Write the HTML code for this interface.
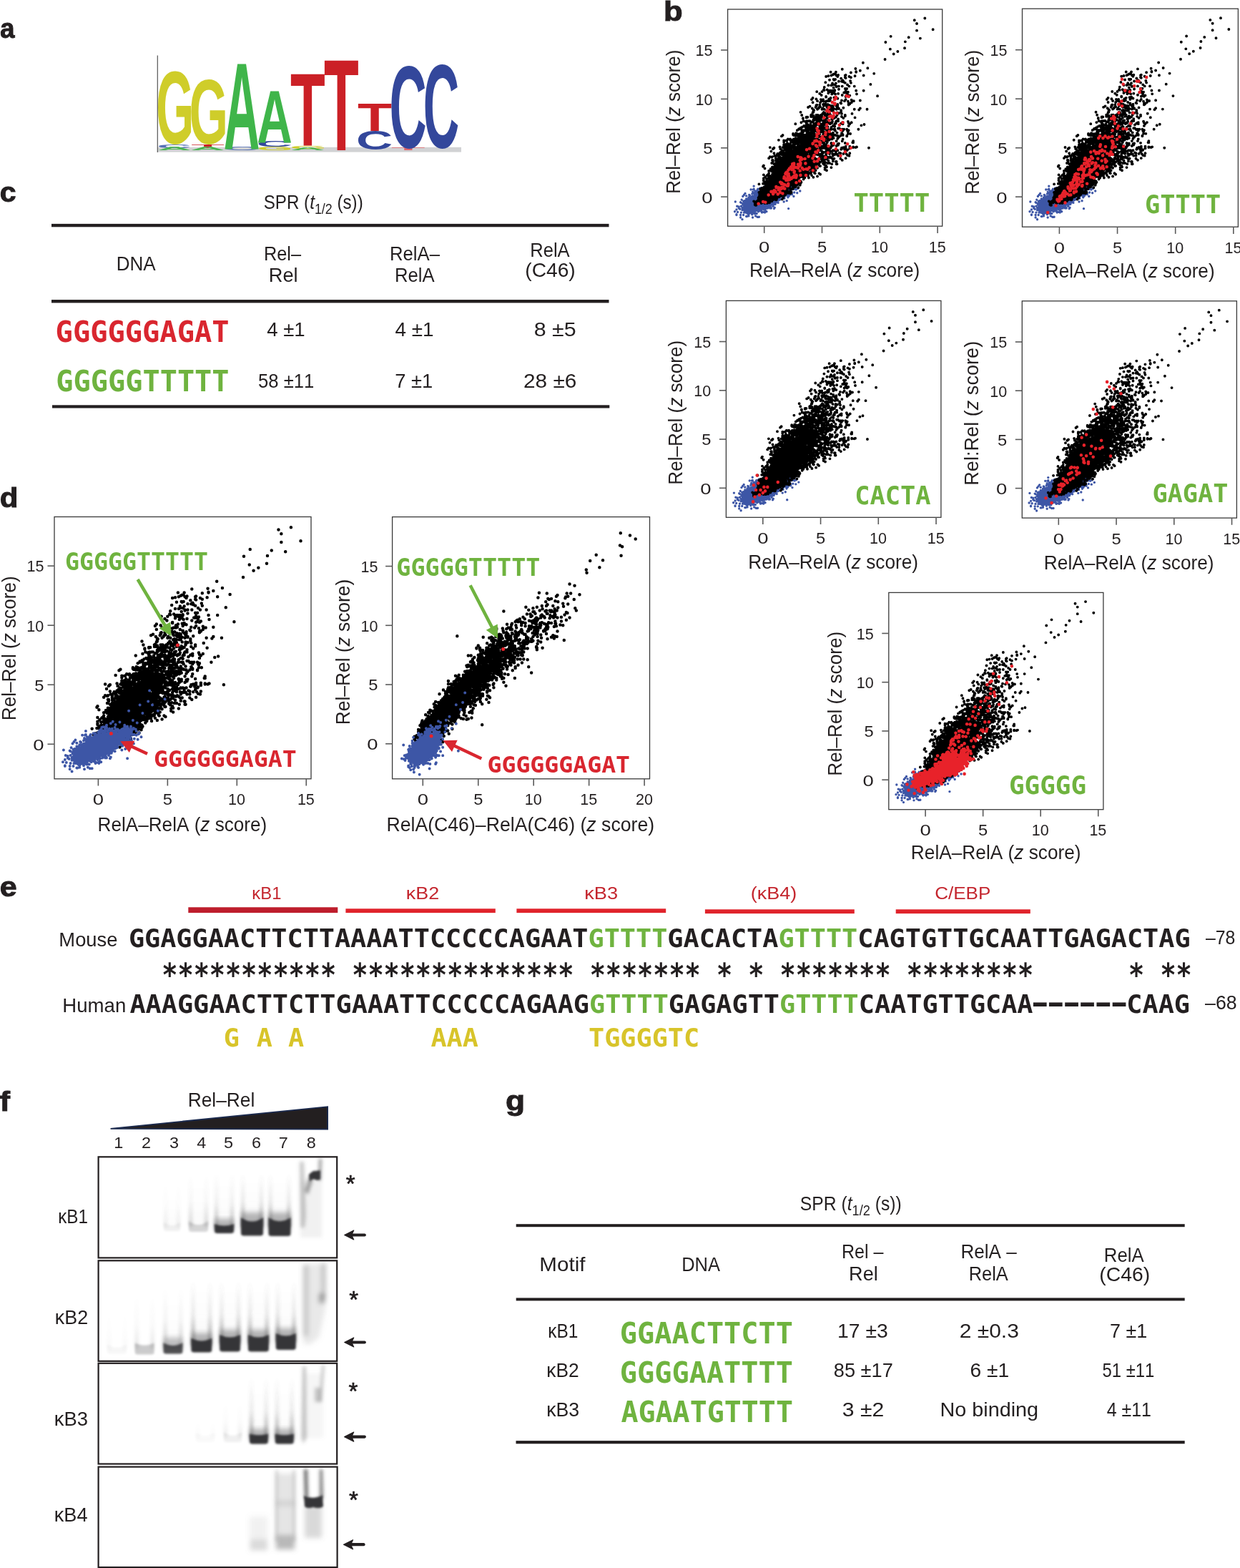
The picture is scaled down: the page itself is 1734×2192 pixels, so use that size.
<!DOCTYPE html>
<html><head><meta charset="utf-8"><title>Figure</title>
<style>html,body{margin:0;padding:0;background:#fff;} svg{display:block;} text{font-kerning:none;}</style>
</head><body>
<svg width="1734" height="2192" viewBox="0 0 1734 2192">
<rect width="1734" height="2192" fill="#fff"/>
<defs><style>#pBlack,#pBlue,#pBlack2,#pBlue2{vector-effect:non-scaling-stroke;stroke-linecap:round;fill:none}</style><path id="pBlack" d="M-16-14h0m0-2h0m1-1h0m1 0h0m9 4h0m6 0h0m4 0h0m-23 4h0m2-3h0m0 1h0m3 2h0m0-3h0m1 0h0m1 0h0m0 4h0m2-2h0m0 2h0m0-1h0m1 0h0m0 2h0m2-4h0m1 3h0m0-3h0m0 2h0m0 1h0m0 1h0m1-5h0m1 1h0m0 4h0m1 0h0m0-2h0m0 0h0m0 1h0m0 1h0m0-1h0m0-2h0m1 0h0m0 3h0m0 0h0m1-1h0m0 0h0m1 0h0m0 0h0m1 1h0m0-3h0m0 1h0m1 2h0m0-1h0m1-2h0m1 2h0m0-2h0m1 2h0m0 0h0m0-1h0m0 0h0m1-2h0m2 2h0m0 0h0m0 2h0m0-5h0m4 3h0m-23 7h0m0-3h0m1-1h0m1 5h0m1-1h0m0 1h0m1-1h0m1-1h0m0 0h0m0 0h0m0-3h0m0 2h0m0-2h0m1 4h0m0-4h0m0 1h0m0 0h0m1 0h0m0-1h0m1 4h0m0-4h0m0 4h0m1-2h0m0 0h0m0 0h0m1-2h0m0 1h0m0 0h0m0 2h0m0 0h0m1 2h0m0-3h0m0-2h0m1 3h0m0-1h0m0 3h0m0-2h0m1-2h0m0 4h0m0-5h0m0 5h0m1-3h0m0 2h0m0 0h0m0 0h0m0-1h0m1 2h0m0-5h0m0 2h0m0 2h0m1-1h0m0-1h0m0 2h0m1-2h0m0 3h0m0-2h0m0 1h0m0 1h0m0-5h0m1 0h0m0 1h0m1 1h0m0-1h0m1 4h0m0-2h0m1 0h0m1 2h0m0 0h0m1-3h0m0 1h0m1 2h0m0-2h0m0 1h0m1-3h0m0-1h0m1 4h0m0 1h0m0-2h0m0 2h0m0-2h0m1-2h0m0 3h0m1 0h0m1-3h0m1-1h0m0 3h0m1-3h0m1 3h0m9-2h0m2 3h0m-42 2h0m1 4h0m0 1h0m0 0h0m0-2h0m1 1h0m0 1h0m2-3h0m1 0h0m0 2h0m1-1h0m0-3h0m0 3h0m0 2h0m0-1h0m1 1h0m0-5h0m1 4h0m0-3h0m0 1h0m0-1h0m0 1h0m1-2h0m0 0h0m0 1h0m0 2h0m0-3h0m0 3h0m0-2h0m1 4h0m0-5h0m0 0h0m0 5h0m0-5h0m0 1h0m0 1h0m0-1h0m0 4h0m0-1h0m1 0h0m0-1h0m0-1h0m0-2h0m0 0h0m1 2h0m0-2h0m0 0h0m0 0h0m0 0h0m0 3h0m0-3h0m1 5h0m0-3h0m0 1h0m0 2h0m0-2h0m1-1h0m0 3h0m0-4h0m0-1h0m0 0h0m0 4h0m0 0h0m1 0h0m0 1h0m0-5h0m0 4h0m0-4h0m0 4h0m0 0h0m0-4h0m0 3h0m1 1h0m0 0h0m0 1h0m0 0h0m0 0h0m0-2h0m0 0h0m0 1h0m0-2h0m1 2h0m0 1h0m0-4h0m0 0h0m2 0h0m0 4h0m0-5h0m1 3h0m0 2h0m0-3h0m0 0h0m1 2h0m0-1h0m1 2h0m1 0h0m0-1h0m0 1h0m0 0h0m0-4h0m1 4h0m0-2h0m1-3h0m0 5h0m0-2h0m1 1h0m0-2h0m1-2h0m1 5h0m0-4h0m0-1h0m1 4h0m0 0h0m0-3h0m0-1h0m2 5h0m0-5h0m1 1h0m0 4h0m0-4h0m1 3h0m2-4h0m1 4h0m2 0h0m1-2h0m1 3h0m4-2h0m2 2h0m-46 4h0m3 0h0m0 2h0m2-4h0m0 1h0m2 3h0m0-4h0m0 1h0m1-2h0m0 2h0m0 3h0m0-4h0m1-1h0m0 5h0m0-5h0m1 4h0m0-2h0m0-2h0m1 3h0m0-1h0m0-1h0m1 3h0m0 1h0m0-4h0m0 4h0m0 0h0m1-3h0m0 1h0m0-2h0m0 2h0m1 2h0m0-5h0m0 5h0m0-5h0m0 5h0m0-2h0m0 2h0m1-3h0m0-2h0m0 1h0m0 1h0m0-1h0m0 0h0m0 3h0m0-4h0m1 3h0m0 0h0m0-2h0m0 2h0m0 1h0m0-2h0m1 3h0m0-4h0m0 0h0m0 2h0m0-1h0m0-2h0m0 2h0m0 0h0m0 3h0m1-4h0m0-1h0m0 2h0m0 2h0m0 0h0m0-1h0m0 1h0m0-3h0m1-1h0m0 1h0m0 3h0m0-3h0m0 2h0m0 0h0m0-2h0m1 1h0m0 3h0m0 0h0m0-5h0m0 5h0m0 0h0m0-1h0m0-3h0m1 1h0m0 2h0m0 1h0m1-5h0m0 3h0m0-3h0m0 1h0m0 3h0m1-4h0m0 1h0m0 4h0m0-5h0m0 4h0m1-4h0m0 1h0m0 1h0m0 3h0m0-1h0m0-4h0m0 1h0m0 0h0m0 0h0m0 1h0m1 3h0m0-3h0m0-2h0m0 5h0m0 0h0m0-2h0m0-1h0m0 0h0m0 1h0m1 1h0m0 1h0m0-4h0m1 0h0m0 3h0m0-3h0m1 3h0m0-2h0m0 2h0m1 0h0m0-4h0m0 2h0m1-2h0m0 1h0m1 3h0m0-1h0m0 1h0m0 0h0m1-2h0m0-1h0m1-1h0m0 1h0m1-1h0m0 5h0m0-5h0m0 1h0m0 0h0m0 1h0m0 2h0m0-2h0m0 2h0m1-4h0m0 0h0m0 2h0m0-1h0m2 2h0m0 1h0m1 0h0m0 1h0m0 0h0m1-5h0m0 0h0m1 3h0m0 2h0m1-4h0m2 4h0m0-5h0m0 2h0m2 3h0m0-1h0m2-1h0m3-1h0m1 0h0m0 1h0m3-2h0m2 2h0m-54 7h0m1-4h0m1 4h0m2 0h0m1-4h0m1 4h0m2-3h0m0 0h0m0 0h0m1 1h0m0 0h0m0 2h0m0 1h0m1-3h0m0 2h0m1-2h0m0-2h0m0 3h0m1-3h0m0 3h0m1-1h0m1-2h0m0 1h0m1 3h0m0-3h0m0 0h0m0 0h0m0 2h0m1 1h0m0-4h0m0 2h0m0 1h0m0-2h0m0 2h0m0-1h0m1-2h0m0 1h0m0-1h0m1 4h0m0 0h0m0 1h0m0-1h0m0 0h0m0-2h0m0-1h0m0 3h0m1-1h0m0-3h0m0 4h0m0-3h0m0 1h0m0-2h0m0 2h0m0 1h0m0 2h0m0-3h0m1 2h0m0-2h0m0-2h0m0 2h0m0-1h0m0 3h0m0-3h0m0 4h0m0-5h0m0 2h0m0 2h0m1-4h0m0 2h0m0 0h0m0-1h0m0 1h0m0 0h0m0-1h0m1 3h0m0 1h0m0-1h0m0-4h0m0 4h0m0 1h0m0 0h0m1 0h0m0 0h0m0-3h0m0 3h0m0-1h0m0 0h0m1-4h0m0 3h0m0 2h0m0-4h0m0 4h0m0-4h0m1 0h0m0-1h0m0 0h0m0 4h0m0-1h0m0-3h0m0 4h0m0-2h0m1 1h0m0 0h0m0 1h0m0-2h0m0 1h0m0-2h0m0 3h0m0 0h0m0-4h0m0 0h0m1 2h0m0 0h0m0 2h0m0 1h0m0-5h0m0 4h0m0-1h0m1-2h0m0-1h0m0 1h0m0 1h0m0 3h0m0 0h0m0 0h0m0 0h0m0 0h0m1 0h0m0-3h0m1 2h0m0-3h0m0 1h0m0 2h0m1-3h0m0-1h0m0 5h0m0-4h0m0 1h0m1 1h0m0 2h0m0-3h0m0 0h0m0 0h0m1-1h0m0-1h0m0 1h0m0-1h0m0 1h0m0-1h0m0 5h0m1 0h0m0 0h0m0 0h0m0-2h0m0-2h0m0 1h0m0 1h0m0-2h0m1 4h0m0-2h0m0 1h0m0-3h0m0 2h0m0-2h0m0-1h0m0 0h0m0 0h0m1 3h0m0 1h0m0 0h0m1-1h0m0 1h0m0-4h0m1 4h0m0 1h0m0 0h0m1-4h0m0 0h0m1 2h0m0-1h0m0 1h0m0-2h0m1 2h0m1 2h0m0-5h0m0 2h0m0-1h0m1-1h0m0 0h0m1 3h0m0 1h0m1-2h0m1-2h0m1 3h0m0-3h0m5 0h0m0 4h0m1 0h0m2 1h0m0-1h0m1 0h0m-53 2h0m3 1h0m1 1h0m0 0h0m0-1h0m1-1h0m1 2h0m1 3h0m1-2h0m0-3h0m0 2h0m1 0h0m0 1h0m1-3h0m0 1h0m0 2h0m1-1h0m0-1h0m1-1h0m0 1h0m0 0h0m0 4h0m1-4h0m0 4h0m1-3h0m0 0h0m0-2h0m0 2h0m1 1h0m0 0h0m0-1h0m0 1h0m0 0h0m0 2h0m1-4h0m0 1h0m0-2h0m0 5h0m0-2h0m0 1h0m1-3h0m0 2h0m0 1h0m0-1h0m0-2h0m0 2h0m0 1h0m0-1h0m0-1h0m0 3h0m0-2h0m0-1h0m0 1h0m0 1h0m1-4h0m0 4h0m0 0h0m0-4h0m0 3h0m0 0h0m0 2h0m1-4h0m0 2h0m0-1h0m0 3h0m0-4h0m0 1h0m0-1h0m0 1h0m0 3h0m1-3h0m0 1h0m0-2h0m0 0h0m0 3h0m0-4h0m0 4h0m1 1h0m0-2h0m0-3h0m0 2h0m0 0h0m0 2h0m0 0h0m0-1h0m0-1h0m1 0h0m0 2h0m0-4h0m0 5h0m0-3h0m0 1h0m0-1h0m0 2h0m1 1h0m0 0h0m0 0h0m0-4h0m0 0h0m0-1h0m0 1h0m1 1h0m0 1h0m0 0h0m0-3h0m0 0h0m0 3h0m0-3h0m1 1h0m0 0h0m0 2h0m0 2h0m0-5h0m0 5h0m1-3h0m0 1h0m0 1h0m0-2h0m0-2h0m0 3h0m0 2h0m1-2h0m0 0h0m0 1h0m0 1h0m0-1h0m1 1h0m0-2h0m0 2h0m0 0h0m0-5h0m0 4h0m0 0h0m1-3h0m0 2h0m0-3h0m0 1h0m0 4h0m0-2h0m0-2h0m1-1h0m0 0h0m0 4h0m0 0h0m1-3h0m0 4h0m0-5h0m0 2h0m0-1h0m0 1h0m0-2h0m1 0h0m0 1h0m0-1h0m0 5h0m1-2h0m1-2h0m0 0h0m1 2h0m0-3h0m1 2h0m0 3h0m0-2h0m0-1h0m0 0h0m1 2h0m0-4h0m1 2h0m0-2h0m1 2h0m0 2h0m0 0h0m0-4h0m1 4h0m0-2h0m1 1h0m0 2h0m0-1h0m0 1h0m0-1h0m1-3h0m0 2h0m0-1h0m1 3h0m0-1h0m0 0h0m0-3h0m1 1h0m0-1h0m1 4h0m3-1h0m0 1h0m0-1h0m0-3h0m5 4h0m1-5h0m0 3h0m1 2h0m2-1h0m1-2h0m1 3h0m4-4h0m-68 7h0m7 1h0m2 0h0m3 0h0m0-3h0m1 0h0m1 5h0m0-5h0m0 1h0m0-1h0m1 2h0m0 3h0m0 0h0m0-1h0m1-1h0m0-3h0m0 1h0m0-1h0m0 2h0m0 3h0m1-3h0m0-2h0m1 0h0m0 0h0m1 5h0m0 0h0m0 0h0m0-2h0m0 0h0m0 1h0m1-4h0m0 2h0m0 3h0m0-5h0m1 5h0m0-5h0m0 1h0m0-1h0m0 2h0m0 3h0m0-4h0m0 2h0m0-2h0m1 2h0m0 0h0m0 2h0m1-2h0m0 0h0m1-2h0m0 4h0m0-1h0m0-4h0m0 4h0m1-3h0m0 3h0m0 0h0m0 0h0m0-4h0m0 5h0m0-4h0m0-1h0m1 5h0m0 0h0m0 0h0m0-3h0m0 0h0m0 3h0m0-3h0m0 1h0m1 0h0m0-2h0m0 1h0m0-2h0m0 0h0m0 1h0m0 2h0m0 0h0m1 2h0m0-4h0m0 2h0m0 1h0m0-1h0m0 0h0m0-1h0m0 0h0m1 1h0m0-2h0m0 1h0m0-2h0m0 3h0m0 2h0m0 0h0m0-3h0m0 1h0m1-2h0m0 1h0m0 1h0m0 1h0m0-4h0m0 1h0m0 1h0m0 1h0m0-1h0m0 1h0m1 1h0m0-3h0m0 0h0m0 4h0m1-2h0m0 2h0m0-1h0m0-3h0m0 3h0m0-3h0m0 4h0m0-4h0m0 3h0m1-2h0m0 2h0m0-3h0m0 1h0m0 2h0m1-4h0m0 0h0m0 3h0m0 2h0m1-1h0m0-4h0m1 2h0m0 0h0m0-1h0m0 2h0m0-1h0m0 3h0m0-2h0m1 2h0m0 0h0m0-5h0m1 5h0m0-4h0m0 1h0m0 2h0m0 1h0m0-2h0m0 1h0m0 0h0m0-4h0m1 0h0m0 5h0m0-3h0m0 2h0m0 1h0m0-2h0m1-2h0m0 4h0m0-1h0m1-4h0m0 0h0m0 2h0m0 3h0m0-3h0m0-1h0m1 0h0m0 1h0m0-1h0m0 4h0m0 0h0m0-3h0m1-2h0m0 5h0m0 0h0m0-4h0m1 0h0m0 2h0m0 2h0m0-2h0m1 1h0m0-3h0m0 4h0m1-3h0m0 0h0m2-1h0m0 1h0m1-1h0m0-1h0m0 4h0m1-3h0m0 4h0m1-1h0m0-3h0m0 2h0m1-3h0m0 1h0m0-1h0m1 4h0m0-4h0m1 3h0m0-1h0m0-1h0m1 0h0m1 3h0m0-4h0m0 1h0m1 1h0m0 1h0m1-3h0m0 1h0m1 4h0m0-5h0m0 4h0m2 1h0m2-4h0m0 1h0m0 1h0m1 2h0m0-3h0m3-1h0m1 4h0m1 0h0m0 0h0m2-5h0m1 4h0m-64 5h0m0 2h0m2-5h0m1 0h0m2 2h0m1 0h0m0-1h0m2 0h0m1-1h0m0 0h0m1 4h0m1-3h0m1 4h0m1-5h0m0 1h0m0-1h0m1 0h0m0 0h0m0 3h0m1 1h0m0-4h0m0 3h0m1-1h0m1 3h0m0-2h0m0 2h0m0-2h0m1 0h0m0-3h0m0 1h0m0 4h0m0-4h0m1 1h0m0 3h0m0-2h0m0-3h0m1 0h0m0 1h0m0 4h0m0-4h0m0 1h0m0 1h0m0-3h0m0 5h0m0-2h0m1-1h0m0-1h0m1 4h0m0-4h0m0 0h0m1 3h0m0-4h0m0 3h0m0 1h0m0-3h0m0 3h0m0 1h0m0-3h0m0 2h0m1-4h0m0 0h0m0 2h0m0-2h0m0 0h0m0 0h0m0 2h0m1 0h0m0 3h0m0 0h0m0-4h0m0 4h0m0 0h0m0-2h0m0-1h0m0 0h0m1 2h0m0-3h0m0 2h0m0-1h0m1 2h0m0-3h0m1 3h0m0-2h0m0 3h0m0-3h0m0 3h0m0-2h0m0 2h0m0 0h0m0-3h0m1 1h0m0 1h0m0 1h0m0-4h0m0 0h0m0 4h0m0-5h0m1 2h0m0 1h0m1 2h0m0-5h0m0 2h0m1 3h0m0-5h0m0 5h0m0-4h0m1 2h0m0 2h0m0-4h0m0 1h0m1 1h0m0 2h0m0-1h0m0-4h0m0 5h0m0-4h0m0 1h0m1-1h0m0 2h0m0-2h0m0 4h0m0 0h0m0-4h0m0 0h0m0 3h0m1-4h0m0 1h0m0 2h0m1 1h0m0-2h0m0 2h0m1-3h0m0 3h0m1-3h0m0 3h0m0 1h0m1-5h0m0 0h0m0 0h0m0 5h0m0-4h0m0 4h0m1-3h0m0-1h0m0-1h0m0 4h0m0-3h0m1 3h0m0-4h0m1 0h0m0 4h0m1-3h0m0 0h0m1 2h0m0-1h0m0 3h0m0 0h0m1-4h0m0 3h0m0-2h0m1 0h0m1 3h0m0-3h0m0-2h0m0 0h0m0 0h0m0 2h0m1-2h0m0 2h0m1 2h0m0-4h0m0 2h0m3 2h0m0-3h0m1 2h0m0-1h0m1-2h0m1 5h0m0-3h0m1 2h0m1 0h0m2-3h0m1 1h0m1 0h0m0 1h0m2-1h0m0 0h0m1-2h0m-65 8h0m3 3h0m2-4h0m3 1h0m1 1h0m0-2h0m1 1h0m0-1h0m1 3h0m1-1h0m1-2h0m1 0h0m0 0h0m0 1h0m1-1h0m0 4h0m0-3h0m1 0h0m0-2h0m0 5h0m1-4h0m0-1h0m0 3h0m1-1h0m0 2h0m0-4h0m1 3h0m0 0h0m0 1h0m1 1h0m0 0h0m0 0h0m0-1h0m1-4h0m0 5h0m0-5h0m1 3h0m0-2h0m0 0h0m0-1h0m0 0h0m0 0h0m1 4h0m0-1h0m1-3h0m0 0h0m0 5h0m1-2h0m0 2h0m0-3h0m1 3h0m0-3h0m0-2h0m0 4h0m0-3h0m1-1h0m0 4h0m0-3h0m0 4h0m1-4h0m0-1h0m0 0h0m0 4h0m0-1h0m1-1h0m0 2h0m0-4h0m0 0h0m0 0h0m0 2h0m0-2h0m0 4h0m0-4h0m1 5h0m0-3h0m0-2h0m0 5h0m0-1h0m0-1h0m0 1h0m0-1h0m0 0h0m0-2h0m0 4h0m0-1h0m0-2h0m1 1h0m0-3h0m0 3h0m0-3h0m0 0h0m0 1h0m0 2h0m0 0h0m0-3h0m0 0h0m0 1h0m0 1h0m1 0h0m0 2h0m0 1h0m0-1h0m0-3h0m0 3h0m0-2h0m0-1h0m1 1h0m0 0h0m0 0h0m1 3h0m0 0h0m0-2h0m1-1h0m0 0h0m0 2h0m0-4h0m1 5h0m0-3h0m0 3h0m0 0h0m0-5h0m0 3h0m1-2h0m0 1h0m0 3h0m0-1h0m1-1h0m0-2h0m0 3h0m0-3h0m1 4h0m0 0h0m1-5h0m0 0h0m0 5h0m0-1h0m0 1h0m0-3h0m0 3h0m1-4h0m0 1h0m0 1h0m0-2h0m1 1h0m0 1h0m0-3h0m1 2h0m0 2h0m0 1h0m0-3h0m1-2h0m1 5h0m0-2h0m0-2h0m1 2h0m0-2h0m0 1h0m0 1h0m0-2h0m0 1h0m1 3h0m0-3h0m0 1h0m0 2h0m0-3h0m0 0h0m0 3h0m0-3h0m1-1h0m0 3h0m1-3h0m0 0h0m0 0h0m1 4h0m1-1h0m0 0h0m0 0h0m0-4h0m0 4h0m0-3h0m0 0h0m1 3h0m0 0h0m1-1h0m0-3h0m0 0h0m1 3h0m1-1h0m0 3h0m0-2h0m0 0h0m0-2h0m0 3h0m0-2h0m1 3h0m0-2h0m1-1h0m1 2h0m0 1h0m0-4h0m0-1h0m1 4h0m0-4h0m1 3h0m0-2h0m1 1h0m0 0h0m1 3h0m1-1h0m4 1h0m2-5h0m2 3h0m7 0h0m8 1h0m-86 5h0m6-1h0m1 1h0m1-2h0m1 0h0m1 0h0m2-1h0m3 2h0m0 2h0m2-4h0m0 5h0m0-3h0m2 0h0m0-1h0m0 2h0m0 1h0m0 0h0m0-2h0m0 1h0m1-2h0m0 0h0m1 1h0m1-2h0m0 5h0m1-4h0m1 0h0m0 1h0m0-2h0m0 0h0m1 3h0m0 0h0m0-3h0m0 2h0m0-2h0m1 5h0m0-4h0m1 0h0m0 1h0m0 0h0m1 2h0m0 1h0m0-1h0m0-3h0m0 3h0m0 0h0m1 1h0m0-4h0m0-1h0m0 4h0m0-3h0m0 0h0m0-1h0m1 5h0m0-5h0m0 5h0m0-5h0m1 3h0m0-1h0m0 3h0m0-2h0m1-2h0m0 2h0m0 1h0m0-1h0m0 1h0m1 0h0m0-4h0m0 1h0m0 0h0m0 3h0m0-3h0m0 1h0m0 2h0m0-3h0m1-1h0m0 0h0m0 4h0m0 1h0m0-2h0m0-3h0m0 3h0m1-1h0m0 1h0m0 1h0m0 0h0m0-1h0m1 2h0m0-5h0m0 1h0m0 3h0m0-4h0m0 2h0m0-1h0m0 1h0m1 0h0m0-1h0m1 4h0m1-3h0m0 1h0m0-2h0m0 4h0m1-3h0m0 3h0m0-1h0m0-4h0m0 5h0m0-3h0m0 1h0m0 2h0m1-3h0m0 3h0m0-1h0m0-3h0m0 0h0m0 4h0m0-4h0m0 0h0m0 3h0m1-4h0m1 2h0m0-1h0m0 4h0m0 0h0m0-5h0m0 5h0m0 0h0m1-1h0m0-3h0m0 0h0m0 3h0m0-2h0m0 3h0m1-4h0m0 4h0m0-1h0m0-4h0m1 0h0m0 2h0m0 0h0m0 1h0m0-2h0m1-1h0m0 5h0m1 0h0m0 0h0m0-4h0m0 0h0m1-1h0m0 3h0m0 2h0m0-4h0m0 2h0m1-1h0m0-1h0m0 4h0m1-1h0m1-4h0m0 4h0m0 1h0m0-5h0m1 4h0m0-3h0m1 2h0m0 2h0m0-4h0m1-1h0m0 2h0m1-1h0m0 1h0m1 2h0m0-4h0m0 1h0m1 0h0m0 4h0m1-5h0m0 2h0m1 2h0m0 1h0m1-1h0m0-1h0m1 1h0m0-3h0m1 0h0m1 2h0m0-1h0m0 2h0m1-4h0m0 3h0m1 2h0m0 0h0m0-3h0m1 2h0m0-4h0m0 5h0m1-5h0m2 4h0m1 0h0m0-2h0m1 1h0m0 1h0m0 0h0m1-2h0m0-1h0m1 2h0m0-1h0m3-1h0m0 2h0m6-1h0m10-2h0m5 4h0m-89 7h0m0-5h0m5 4h0m2-1h0m1 2h0m1-4h0m1 0h0m0 3h0m0 1h0m1-5h0m0 0h0m1 1h0m0 2h0m1-3h0m0 3h0m0-2h0m1 1h0m1 3h0m0-3h0m1 1h0m0-3h0m0 1h0m1-1h0m1 0h0m0 0h0m1 5h0m0-5h0m0 4h0m0-4h0m0 2h0m1-2h0m0 4h0m0-4h0m0 1h0m1 3h0m0-4h0m1 1h0m0 1h0m0-2h0m0 3h0m1 1h0m0 0h0m0-4h0m0 0h0m0 0h0m1 3h0m0-1h0m0-1h0m0 2h0m0-1h0m1 0h0m0-1h0m0 1h0m0-1h0m0 2h0m1-1h0m0 0h0m0 3h0m0-4h0m1 0h0m0 2h0m0-3h0m0 3h0m0 1h0m0-4h0m0 1h0m1 0h0m0 3h0m0 1h0m0-4h0m0-1h0m0 5h0m0-1h0m0 1h0m0-3h0m1-1h0m0 0h0m0-1h0m0 1h0m0 4h0m0-1h0m0-1h0m0 2h0m0-4h0m1 1h0m0-2h0m0 4h0m0 1h0m0-3h0m0 2h0m0-3h0m0 2h0m1 0h0m0 1h0m0-3h0m0 2h0m0 2h0m0-1h0m0-2h0m0-2h0m0 1h0m0 0h0m0 4h0m1-3h0m0 1h0m1 1h0m0-4h0m1 1h0m0 4h0m0-3h0m0 2h0m0-3h0m1-1h0m0 0h0m0 0h0m0 0h0m0 3h0m1 0h0m0-1h0m0 3h0m0-2h0m1 1h0m0 1h0m0 0h0m0-1h0m0 0h0m0-1h0m1 0h0m1-2h0m0 3h0m0-3h0m1-1h0m0 3h0m0-2h0m0 4h0m0-2h0m0-2h0m2-1h0m0 0h0m2 0h0m0 0h0m0 2h0m0 1h0m0 1h0m1-4h0m0 5h0m1-5h0m0 4h0m1-1h0m0 2h0m0-2h0m0 1h0m0-3h0m1-1h0m0 5h0m1-4h0m1 4h0m0-5h0m0 3h0m1-1h0m1-1h0m0 3h0m0-1h0m1 1h0m0-2h0m1 3h0m0-2h0m0-3h0m0 1h0m0 3h0m1-2h0m0 1h0m1-3h0m0 0h0m0 1h0m0-1h0m1 4h0m0 1h0m1-1h0m0 1h0m2-1h0m0 1h0m1 0h0m0-2h0m0 1h0m1 1h0m2-4h0m0 2h0m1 1h0m1-4h0m2 1h0m1-1h0m3 0h0m0 2h0m1-1h0m0 1h0m3 3h0m2-1h0m1-3h0m1-1h0m7 0h0m-94 10h0m10-4h0m0 3h0m1-3h0m3 2h0m1 1h0m3-2h0m2 0h0m0 4h0m0-1h0m1-4h0m1 4h0m0-3h0m1-1h0m0 1h0m1 2h0m1-1h0m0 2h0m1-2h0m0 1h0m0-1h0m1-2h0m0 3h0m0 1h0m1-2h0m0-2h0m0 3h0m0 2h0m0-2h0m0-1h0m1 2h0m0-3h0m1 0h0m0 3h0m1-4h0m1 2h0m0 0h0m0-2h0m0 0h0m1 3h0m0 1h0m1 1h0m0-3h0m0 3h0m0-5h0m0 3h0m0-1h0m1 0h0m0-1h0m0 4h0m0-2h0m0 2h0m0-2h0m0 0h0m0 0h0m1 2h0m0-3h0m0-1h0m0 0h0m0 3h0m0-1h0m1 1h0m0 0h0m0-4h0m0 0h0m0 2h0m0 0h0m0-2h0m1 3h0m0 1h0m0-2h0m0 3h0m0-1h0m0 0h0m0-4h0m0 0h0m1 3h0m0-2h0m0 2h0m1-3h0m0 1h0m0 4h0m0-1h0m0-4h0m1 3h0m0 0h0m0-1h0m0 2h0m0-1h0m0 2h0m0-4h0m0 4h0m0-4h0m0 2h0m1-1h0m0 0h0m0-1h0m0 1h0m0 2h0m1 0h0m0-1h0m1 2h0m0-5h0m0 1h0m0 2h0m1-3h0m0 5h0m1-5h0m0 3h0m1-1h0m0-2h0m0 4h0m1-2h0m0 3h0m0-2h0m0 2h0m0 0h0m0-2h0m1 0h0m0-3h0m0 2h0m0 1h0m1 1h0m0-2h0m0-1h0m0 3h0m0-1h0m0 1h0m1 0h0m0 0h0m0-4h0m0 0h0m1 1h0m1 4h0m0-1h0m0-2h0m1 0h0m0 1h0m0-1h0m1-1h0m0 0h0m1 2h0m0-3h0m0 5h0m0-3h0m1 3h0m0-1h0m0-3h0m1 3h0m0-1h0m0-1h0m0 2h0m0-1h0m0 1h0m1-1h0m0-2h0m1 4h0m0-3h0m0-2h0m0 0h0m1 3h0m0-1h0m1-1h0m0 0h0m0 2h0m0-2h0m0 3h0m1 0h0m0-2h0m1 2h0m0 1h0m0-1h0m0-4h0m1 1h0m0-1h0m0 5h0m0-3h0m1 1h0m1-1h0m1 2h0m0-3h0m0 1h0m1-2h0m1 4h0m0 0h0m0-2h0m1-1h0m0 4h0m0-3h0m1 0h0m0 3h0m0-2h0m0-2h0m0-1h0m0 2h0m2 0h0m1-2h0m0 5h0m0-1h0m0-3h0m0-1h0m1 2h0m0-1h0m1 4h0m3-3h0m1-2h0m2 0h0m0 2h0m1-2h0m2 5h0m0-5h0m1 0h0m1 0h0m3 5h0m13-3h0m3-2h0m-110 8h0m1 2h0m15-3h0m1-1h0m2 1h0m0-1h0m2 2h0m1 3h0m1-2h0m0-2h0m1 1h0m0 1h0m1-2h0m1 4h0m0-2h0m1-1h0m1 3h0m0-1h0m1-1h0m1-1h0m0-1h0m0-1h0m1 2h0m1 2h0m0-3h0m0 1h0m0-2h0m0 3h0m1 2h0m0-5h0m1 5h0m0-5h0m1 5h0m0-5h0m1 4h0m0-2h0m0-1h0m0 0h0m1 2h0m0-3h0m1 1h0m0-1h0m0 0h0m0 1h0m1 3h0m1-2h0m0 3h0m0-2h0m0-3h0m0 2h0m1 1h0m0 0h0m0 2h0m0-4h0m0 0h0m0 1h0m0 1h0m1-1h0m0 0h0m1 3h0m0-2h0m0-1h0m0-2h0m0 0h0m0 0h0m0 5h0m0-4h0m0 2h0m1 0h0m0 0h0m0 1h0m0-4h0m0 3h0m0-3h0m0 3h0m0 1h0m1-2h0m0 0h0m0 3h0m0-4h0m0 0h0m0-1h0m1 4h0m0-3h0m1 1h0m0-2h0m0 2h0m1-1h0m0 2h0m0 2h0m0-1h0m1 0h0m0-1h0m0-2h0m1 2h0m0 0h0m0 0h0m1 2h0m0 0h0m1-5h0m0 1h0m1 2h0m0 0h0m0 1h0m1 0h0m0-2h0m0-1h0m1 4h0m1-5h0m0 0h0m0 0h0m0 0h0m1 1h0m0 2h0m0 2h0m0-5h0m0 3h0m1 1h0m2-2h0m0-1h0m0 0h0m1 4h0m1-3h0m0 2h0m0-2h0m1 3h0m0-1h0m1-4h0m0 4h0m0 0h0m0 0h0m0 1h0m0-3h0m1 1h0m0-2h0m0-1h0m0 0h0m0 2h0m1-2h0m0 0h0m1 5h0m1-1h0m0-4h0m1 5h0m0 0h0m0-2h0m0 1h0m1 0h0m0 0h0m1-2h0m0 1h0m1 1h0m2-2h0m1-1h0m1 1h0m0 1h0m0-1h0m1 0h0m0 1h0m2-3h0m0 5h0m0-2h0m1 0h0m0 0h0m0-3h0m0 4h0m1 1h0m1-4h0m2 2h0m0-2h0m0 4h0m1-3h0m0 3h0m0-5h0m2 5h0m0-2h0m1-2h0m4 0h0m0 3h0m1-4h0m4 5h0m1-2h0m1 0h0m8-3h0m2 4h0m1-3h0m8-1h0m-103 9h0m4-2h0m2-1h0m1 3h0m1 0h0m1 0h0m1-2h0m0 2h0m1-1h0m1 3h0m1-2h0m1 2h0m1-5h0m1 5h0m1 0h0m0-5h0m1 2h0m0 3h0m0-3h0m1-1h0m1 1h0m0-1h0m0 3h0m1-3h0m0 2h0m0-3h0m0 1h0m0 3h0m1 0h0m1 1h0m0-1h0m0-1h0m0 0h0m0-2h0m0 3h0m1-4h0m0 5h0m0-5h0m0 5h0m0-5h0m1 3h0m0-1h0m0-1h0m1 2h0m0 1h0m0-4h0m0 4h0m0-2h0m0-2h0m1 2h0m0-1h0m1 3h0m1-2h0m0 0h0m0 0h0m1 3h0m0-3h0m0 1h0m1-3h0m0 5h0m0 0h0m0-2h0m0-1h0m0-1h0m1 0h0m1 0h0m1 3h0m0-4h0m0 2h0m1 3h0m0-4h0m0-1h0m0 5h0m1-4h0m0 2h0m0-1h0m0 2h0m0-1h0m0 2h0m0-4h0m1-1h0m0 3h0m0-3h0m0 3h0m1 2h0m0 0h0m0-3h0m0 3h0m0-3h0m0 3h0m0-4h0m1 4h0m0-4h0m1 2h0m0-2h0m0 1h0m0 3h0m0-5h0m0 3h0m1-3h0m0 5h0m1-4h0m0-1h0m0 5h0m0-4h0m1 0h0m0 3h0m0-2h0m1 2h0m0-1h0m0 2h0m0-2h0m0-3h0m0 3h0m0-3h0m1 0h0m0 3h0m1-3h0m1 1h0m0 2h0m0 2h0m1-1h0m1-2h0m1 3h0m0-2h0m0-1h0m0 0h0m1 1h0m0-3h0m1 0h0m0 5h0m1 0h0m0-3h0m1 2h0m0-3h0m1 1h0m0 3h0m1-2h0m2-3h0m0 2h0m1 2h0m0-2h0m0 1h0m1-2h0m1 1h0m0 3h0m0-4h0m1 0h0m0 0h0m1 1h0m1 3h0m3 0h0m0-5h0m1 5h0m1-3h0m0 1h0m2-1h0m0 0h0m1-2h0m1 0h0m1 1h0m0 1h0m1 3h0m1-5h0m0 1h0m1-1h0m2 2h0m1 1h0m1-2h0m1 4h0m0-3h0m2 3h0m5-3h0m0 2h0m2-4h0m2 4h0m4-1h0m3 0h0m4-2h0m8 0h0m1 0h0m-112 8h0m1-3h0m0 3h0m0-2h0m5 1h0m1 2h0m1-1h0m2-3h0m0 5h0m3 0h0m0-5h0m1 4h0m0 0h0m0-2h0m1 0h0m2 1h0m0 1h0m1-3h0m1 2h0m0-3h0m2 0h0m1 3h0m1 2h0m2-1h0m0-2h0m2-1h0m0 2h0m0 2h0m1-2h0m0 1h0m1-3h0m0 4h0m0-5h0m0 4h0m1 1h0m0-1h0m0 0h0m0-2h0m0 1h0m0-3h0m1 2h0m0-1h0m1 4h0m0-1h0m0 1h0m0-5h0m0 5h0m1-3h0m0 3h0m0-3h0m1-2h0m0 4h0m0-1h0m0 0h0m0-3h0m1 2h0m0 1h0m0 1h0m0-2h0m1-1h0m0-1h0m0 0h0m1 4h0m0 1h0m1-5h0m0 2h0m0 1h0m0 1h0m0-2h0m0-1h0m0 2h0m1 0h0m0 1h0m0-3h0m0 2h0m1-1h0m0 2h0m1-1h0m0-1h0m1 0h0m0 1h0m0-1h0m1 2h0m0-3h0m0 4h0m0-5h0m1 3h0m0-2h0m0 0h0m1-1h0m0 4h0m1-2h0m1 0h0m1 2h0m0-2h0m1 3h0m0-4h0m0 3h0m1 0h0m0-4h0m1 5h0m0-5h0m0 5h0m1-1h0m0-2h0m1-2h0m0 1h0m0 1h0m1-2h0m0 2h0m1-1h0m0-1h0m1 3h0m2-3h0m0 3h0m1 1h0m0-2h0m3 2h0m0 0h0m0 1h0m3-1h0m1-4h0m0 2h0m2-1h0m0 1h0m1 3h0m1-3h0m0 3h0m0-5h0m0 5h0m1-4h0m2-1h0m2 4h0m0-2h0m1 0h0m0 3h0m1-1h0m1-3h0m2 2h0m6-1h0m0 2h0m1-2h0m1 0h0m2 1h0m4 2h0m3-3h0m8-1h0m5-1h0m1 0h0m10 3h0m-127 4h0m2 3h0m3-1h0m1 1h0m6-4h0m0 3h0m0 1h0m5-1h0m2 1h0m1-3h0m0-1h0m2 0h0m0 0h0m1 2h0m1 0h0m1 0h0m1 2h0m0 1h0m1-4h0m1 0h0m1 2h0m0 1h0m1-4h0m0 4h0m0-3h0m2-1h0m0 5h0m0-1h0m1 0h0m0-2h0m0 3h0m0-3h0m1 1h0m0 2h0m1 0h0m0-2h0m1-3h0m0 2h0m0-1h0m1 4h0m0-4h0m0 2h0m0 0h0m1 2h0m0 0h0m0 0h0m0-2h0m1 1h0m0-3h0m0 2h0m1 0h0m0 0h0m0-1h0m1 2h0m0-4h0m0 0h0m0 4h0m1-1h0m1-1h0m0 1h0m1 0h0m0-1h0m0 3h0m0-5h0m1 5h0m0-2h0m0-1h0m0-2h0m0 0h0m0 5h0m1-3h0m0 1h0m0 0h0m1-3h0m0 4h0m0 1h0m0-1h0m0 1h0m1 0h0m0-4h0m0 1h0m0-1h0m1 3h0m0-1h0m0-2h0m0 2h0m1 1h0m0-3h0m0 3h0m0-2h0m1 0h0m0 3h0m2-3h0m2-2h0m0 0h0m0 2h0m1 2h0m0-3h0m0 3h0m0-1h0m0 0h0m1-1h0m1 1h0m0 2h0m0-5h0m1 2h0m0 3h0m1-2h0m0 0h0m0-1h0m2 2h0m0-4h0m0 0h0m1 2h0m0 1h0m1 0h0m0-2h0m1-1h0m2 0h0m0 3h0m1 0h0m0 0h0m1 1h0m0 1h0m2-5h0m1 5h0m0-3h0m1 1h0m1 2h0m0-4h0m1 1h0m1-1h0m0 3h0m1-4h0m0 2h0m1-1h0m1-1h0m0 2h0m2-2h0m6 1h0m0-1h0m1 2h0m1-2h0m3 5h0m1-4h0m2 4h0m0 0h0m3-2h0m0-3h0m1 2h0m3 1h0m2-1h0m2 2h0m2-2h0m2-2h0m3 0h0m11 0h0m9 1h0m-124 10h0m1-5h0m4 2h0m1 2h0m0-1h0m1-2h0m2 2h0m3 1h0m1 0h0m0-1h0m1-1h0m1 1h0m2-2h0m0 1h0m2-1h0m0 4h0m0-4h0m1-1h0m0 5h0m1-2h0m0 0h0m3-3h0m1 3h0m0 1h0m0-2h0m2-2h0m0 4h0m0 1h0m0-4h0m0 0h0m1 0h0m0 0h0m1 4h0m0-1h0m1 0h0m0-1h0m0 1h0m0-4h0m1 1h0m1 4h0m1-4h0m1-1h0m1 5h0m0-4h0m0 2h0m0-2h0m1 4h0m1-5h0m0 5h0m0-5h0m1 1h0m0-1h0m0 2h0m1-1h0m0 4h0m1-3h0m1-1h0m0 2h0m0 0h0m0-1h0m0 2h0m0-2h0m1 3h0m0-2h0m0 0h0m1 0h0m1 2h0m0 0h0m0-4h0m1 1h0m1 2h0m1 0h0m0 1h0m1-4h0m0 4h0m1-5h0m1 5h0m1 0h0m1-2h0m1-2h0m0-1h0m0 2h0m0 1h0m0-2h0m0 0h0m0 4h0m0-5h0m1 3h0m0 1h0m1-1h0m0-1h0m0 2h0m2-1h0m0-1h0m0 2h0m0-2h0m1-2h0m3 1h0m1 2h0m1-3h0m0 4h0m0-2h0m1-2h0m0 3h0m1 2h0m1 0h0m0-4h0m1 0h0m2 0h0m0 3h0m0-4h0m1 2h0m0 3h0m0-1h0m1 0h0m0-1h0m1 0h0m0 0h0m0 0h0m3 0h0m0 1h0m1-2h0m2 1h0m1-2h0m2 2h0m1 0h0m0 1h0m1-2h0m1 3h0m6-5h0m0 3h0m6 1h0m5 0h0m1-4h0m1 3h0m2 0h0m1 0h0m3 0h0m2-3h0m4 5h0m0-5h0m5 4h0m5 0h0m2-3h0m3-1h0m1 5h0m-136 4h0m15-3h0m2 2h0m2-1h0m0 4h0m1-5h0m1 4h0m1-4h0m4 2h0m2 3h0m0-4h0m0 4h0m1-1h0m3-1h0m0 1h0m1-1h0m1-1h0m0 0h0m2-1h0m0 3h0m0-3h0m1 0h0m1 2h0m0 2h0m1-2h0m1 0h0m0 1h0m0-2h0m0-1h0m2-1h0m0 2h0m0 3h0m0-4h0m1 0h0m0 3h0m0 0h0m1-4h0m0 0h0m2 3h0m0 2h0m0-4h0m1 2h0m1 0h0m0-1h0m0 2h0m0-2h0m1-1h0m0 4h0m0-3h0m0-2h0m0 5h0m0-5h0m1 5h0m1-4h0m0 1h0m1 2h0m1-3h0m0 4h0m1-2h0m2-2h0m0 2h0m0-2h0m2 3h0m0-2h0m0 1h0m3 0h0m1-1h0m1-1h0m1 3h0m0-2h0m1 2h0m0 1h0m1-2h0m1-1h0m0-2h0m3 4h0m1-3h0m0 1h0m1 3h0m2-3h0m3-2h0m0 2h0m1 2h0m0 1h0m0-5h0m1 0h0m2 0h0m0 2h0m0 3h0m0 0h0m0-5h0m4 5h0m3-2h0m1-3h0m1 1h0m1 0h0m0 0h0m4 2h0m1-3h0m2 0h0m0 4h0m1 0h0m0-4h0m2 1h0m3 2h0m3 2h0m0-1h0m3 1h0m2-4h0m0 3h0m3 1h0m3-5h0m10 2h0m3 3h0m-133 6h0m5-3h0m1 1h0m1 1h0m11-2h0m4 3h0m2-1h0m2-4h0m1 4h0m0-4h0m2 2h0m2 1h0m3-3h0m0 1h0m1 4h0m2-3h0m0 2h0m1 1h0m0-1h0m4-1h0m0 0h0m0-3h0m1 0h0m1 4h0m0-4h0m0 0h0m0 4h0m1-1h0m1 0h0m0-3h0m1 0h0m1 4h0m0-4h0m1 3h0m0-2h0m1 2h0m0 2h0m0-4h0m1 2h0m0 1h0m0-1h0m1-1h0m0 3h0m0-1h0m1-2h0m1 1h0m0 0h0m2-1h0m0 3h0m1-3h0m1-2h0m0 5h0m0-4h0m0 2h0m1 0h0m0-2h0m0 3h0m0 1h0m0 0h0m1-2h0m2 1h0m0-3h0m1 1h0m1 3h0m0-5h0m0 0h0m3 4h0m1-4h0m1 2h0m0 1h0m1-3h0m1 3h0m1-3h0m1 5h0m2-5h0m0 1h0m1 1h0m0 3h0m1-5h0m0 4h0m0-2h0m1-1h0m2 4h0m1-1h0m0 1h0m0-5h0m3 0h0m2 3h0m1 1h0m3-1h0m1 2h0m0 0h0m1-1h0m2 0h0m2-1h0m2 0h0m0-3h0m1 2h0m0 2h0m0 0h0m2 1h0m2-5h0m2 4h0m18-3h0m1 3h0m0-2h0m3 3h0m2-4h0m2 3h0m3-4h0m4 3h0m0 1h0m6 1h0m4 0h0m23-1h0m-154 2h0m0 0h0m7 5h0m0-2h0m1 0h0m1 0h0m1 2h0m0-3h0m1-1h0m2 0h0m1 2h0m1-3h0m1 2h0m0 0h0m0-2h0m1 2h0m1 0h0m1-2h0m0 1h0m1 1h0m0-2h0m1 1h0m0 1h0m1 0h0m1 0h0m0 3h0m0-3h0m2 1h0m0 0h0m1 2h0m0-5h0m0 5h0m4-5h0m1 4h0m0-3h0m2 0h0m1 1h0m1-1h0m1 2h0m1-2h0m0 2h0m0 0h0m1-3h0m0 1h0m1-1h0m0 3h0m2 1h0m1 1h0m0-2h0m0-3h0m1 0h0m0 1h0m0 4h0m0-4h0m1 3h0m1 0h0m0-2h0m0 1h0m1 1h0m1-1h0m0 0h0m1-3h0m1 3h0m1-1h0m1 1h0m0 1h0m0-2h0m0 0h0m2-1h0m2 4h0m2-5h0m0 2h0m1-2h0m0 2h0m2 1h0m0-1h0m2 3h0m0-5h0m0 0h0m0 4h0m1 1h0m0-2h0m1 1h0m0-3h0m0 0h0m2 4h0m0-3h0m2 0h0m1 2h0m0 0h0m1-4h0m1 3h0m0-3h0m2 0h0m0 0h0m0 1h0m3 2h0m1-1h0m2 0h0m1 0h0m0 0h0m0 3h0m4-4h0m0 0h0m0 1h0m1-2h0m3 0h0m0 0h0m1 1h0m1 1h0m0 2h0m1 1h0m2-1h0m5-2h0m3 2h0m13-3h0m7 0h0m6-1h0m6 0h0m-126 10h0m6-2h0m4-2h0m1 0h0m1 4h0m1 0h0m3-1h0m2-1h0m2 0h0m0 3h0m1-4h0m0 1h0m2 1h0m0 0h0m1-2h0m1 2h0m0-2h0m1 4h0m1-2h0m1-1h0m1 0h0m0 3h0m1-1h0m1 1h0m1-3h0m1-2h0m0 4h0m0-1h0m1-3h0m2 3h0m1-2h0m0 4h0m0-5h0m1 5h0m0-1h0m1 1h0m2-5h0m0 4h0m1 0h0m0-4h0m2 1h0m1 1h0m1 3h0m2-2h0m2-2h0m0 0h0m2 3h0m0 0h0m0-3h0m3 2h0m1-3h0m1 0h0m1 1h0m0 4h0m0-3h0m1-1h0m0-1h0m1 0h0m0 0h0m0 0h0m1 4h0m2-1h0m2 0h0m1 1h0m0 1h0m1-1h0m1-2h0m0 3h0m2-4h0m5 2h0m0 2h0m7-3h0m0-1h0m4 0h0m7-1h0m2 1h0m11 1h0m13 1h0m1 0h0m-129 5h0m9-1h0m4 0h0m1 0h0m2 3h0m3-1h0m1 1h0m3-4h0m1 2h0m1 1h0m0 0h0m1 1h0m1-4h0m2 1h0m0 4h0m1 0h0m1-5h0m0 2h0m0-1h0m0-1h0m1 1h0m1 2h0m1 2h0m1-1h0m2 0h0m0-4h0m0 2h0m0 0h0m2 1h0m2 1h0m1-3h0m1 2h0m0-3h0m1 5h0m2-3h0m0 0h0m1-2h0m0 5h0m1-5h0m0 2h0m0-1h0m1-1h0m0 5h0m0-1h0m0-3h0m0-1h0m0 4h0m2 1h0m1-3h0m1-2h0m1 5h0m1-5h0m1 2h0m1-2h0m1 5h0m1-4h0m1 4h0m1-2h0m1 0h0m0-3h0m0 0h0m1 1h0m0-1h0m0 4h0m0-3h0m1-1h0m1 1h0m1-1h0m1 0h0m0 5h0m3-3h0m3 3h0m1 0h0m0-2h0m0 0h0m1 1h0m3-4h0m0 2h0m0 2h0m0-1h0m0 2h0m1 0h0m1-3h0m2-2h0m3 5h0m0-1h0m1 1h0m0-1h0m1-2h0m1 2h0m0-1h0m4 1h0m8-4h0m2 5h0m8-5h0m1 4h0m18-4h0m-124 10h0m24 1h0m0 0h0m3 0h0m2-5h0m1 4h0m2-4h0m1 3h0m0 0h0m3 1h0m0-2h0m1 0h0m1-2h0m1 1h0m0-1h0m0 3h0m1 1h0m0-1h0m1-2h0m2 2h0m0-2h0m2 3h0m0-4h0m1 0h0m2 5h0m0-3h0m1 2h0m2 1h0m1 0h0m0-1h0m1-4h0m0 3h0m0 0h0m1-3h0m0 3h0m1-1h0m1 3h0m1-1h0m1 1h0m3-2h0m3 0h0m0 0h0m3-1h0m1 0h0m3 1h0m3 0h0m0-1h0m0 1h0m1 1h0m2-4h0m0 3h0m2 0h0m3 0h0m2-1h0m0-1h0m1 2h0m1-1h0m3 3h0m0 0h0m0-3h0m1-2h0m6 5h0m1 0h0m2-3h0m3 3h0m11 0h0m0-1h0m-111 2h0m18 3h0m0-2h0m1-1h0m1 0h0m1 1h0m2 3h0m2-1h0m2-1h0m0-1h0m3 2h0m1-1h0m0 1h0m3-2h0m0 4h0m2-4h0m3-1h0m1 1h0m2 4h0m2-2h0m0 2h0m1-3h0m0-1h0m1-1h0m0 3h0m0-2h0m1 2h0m1 2h0m1-4h0m0 4h0m0-4h0m1-1h0m0 3h0m0 1h0m0-2h0m4 2h0m1-3h0m0-1h0m1 1h0m0 1h0m0 0h0m1-2h0m1 0h0m1 2h0m3 2h0m1-3h0m0 1h0m1 0h0m6 0h0m1 2h0m3 1h0m0-4h0m1 2h0m2-1h0m1 0h0m0 0h0m3 1h0m1 0h0m0 1h0m2-2h0m3 3h0m0-3h0m2-1h0m2-1h0m3 5h0m8-4h0m0 3h0m1-1h0m1-2h0m0-1h0m9 3h0m4 0h0m0 0h0m-92 7h0m8-3h0m2-1h0m0 1h0m1 3h0m1-1h0m3 0h0m1 1h0m3-3h0m0 3h0m0 1h0m1 0h0m3-5h0m1 4h0m1 0h0m1-3h0m1 3h0m1-3h0m0 4h0m1-1h0m0-3h0m1 4h0m2 0h0m1-3h0m1 2h0m1-1h0m0 1h0m1-4h0m1 1h0m0 2h0m3-1h0m1 0h0m0-1h0m1 0h0m2 2h0m3-2h0m4 1h0m3-1h0m1 2h0m1-2h0m10 2h0m10 2h0m3-2h0m8 0h0m1-2h0m1 3h0m-86 3h0m0-1h0m3 3h0m1-2h0m0-1h0m2 5h0m5 0h0m1-5h0m2 4h0m1-1h0m1-3h0m2 4h0m0-1h0m1-3h0m1 1h0m0 3h0m0-2h0m1-2h0m1 4h0m1-2h0m1-1h0m0-1h0m2 4h0m1-2h0m0 3h0m2-1h0m2-2h0m3-2h0m2 3h0m1-3h0m0 2h0m2 2h0m1-2h0m3-1h0m0 1h0m2-1h0m1 2h0m0 0h0m0 0h0m0-1h0m2 1h0m0 2h0m0-5h0m0 3h0m2-2h0m0 4h0m5-5h0m1 0h0m0 4h0m4-4h0m1 0h0m1 0h0m6 2h0m2 0h0m2-2h0m3 0h0m3 0h0m5 0h0m20 0h0m-109 11h0m15-4h0m2-1h0m2 2h0m0 1h0m0-2h0m0 0h0m0 2h0m1 0h0m1 1h0m1-2h0m4 1h0m0 2h0m3-4h0m1 0h0m0 0h0m2 1h0m0 3h0m1-5h0m2 2h0m3 2h0m2 1h0m1-1h0m0 0h0m1-3h0m1 4h0m0-4h0m0 4h0m1-1h0m0 0h0m0-1h0m1 1h0m2-2h0m1-2h0m1 3h0m1 0h0m4 1h0m6 1h0m5-4h0m3-1h0m0 5h0m8-2h0m6 2h0m10-4h0m2 4h0m20-3h0m5 2h0m-109 4h0m4 3h0m3-1h0m2-4h0m0 1h0m1 3h0m0 1h0m3 0h0m2 0h0m0 0h0m3-2h0m1 0h0m1 1h0m3-4h0m3 1h0m1 1h0m0 1h0m1-2h0m0 3h0m4 1h0m0-5h0m6 5h0m0-4h0m1 2h0m1-2h0m0 0h0m1 2h0m3-2h0m0-1h0m0 2h0m2-1h0m0 4h0m1-4h0m4 0h0m2 0h0m1 3h0m5-4h0m1 0h0m0 3h0m1 2h0m1 0h0m2 0h0m5-5h0m2 1h0m1 1h0m9 2h0m1-3h0m5 1h0m-84 8h0m0 1h0m18-3h0m1 0h0m0-2h0m3 5h0m0-3h0m1 2h0m2-3h0m0 1h0m1 2h0m2-4h0m0 5h0m0-4h0m1 4h0m1-4h0m0-1h0m2 1h0m5 3h0m1-1h0m1-1h0m3 3h0m3-5h0m0 0h0m5 3h0m1 0h0m3 2h0m7-2h0m9 2h0m-72 6h0m8-5h0m0 1h0m2 0h0m6 4h0m0-3h0m2 0h0m1 1h0m1 1h0m1-3h0m2-1h0m2 5h0m1-3h0m1 3h0m1 0h0m0-3h0m3 0h0m1 1h0m0-3h0m0 3h0m0 1h0m1 1h0m1-2h0m1-2h0m3-1h0m2 4h0m3-1h0m5-1h0m2 1h0m0 2h0m3-5h0m2 3h0m3-2h0m1 0h0m2 4h0m8-3h0m6 3h0m0-2h0m17-3h0m-94 11h0m19-5h0m2 4h0m1 1h0m15-5h0m1 2h0m2 0h0m0 2h0m0 1h0m2-2h0m0 0h0m1-3h0m1 0h0m3 0h0m0 4h0m3-3h0m0 2h0m8 1h0m5 0h0m0-1h0m0-2h0m1 2h0m2 0h0m5-1h0m18 0h0m-67 8h0m0 0h0m0-3h0m1 2h0m6 2h0m8 0h0m4 0h0m4-3h0m2 1h0m2-3h0m1 2h0m0 0h0m4 0h0m2 0h0m0 1h0m0-1h0m0 3h0m6 0h0m8-5h0m0 3h0m23 2h0m8-1h0m14 1h0m-102 4h0m3 2h0m4-4h0m6 2h0m1 2h0m4-4h0m1 2h0m2 1h0m4-3h0m7 4h0m1-2h0m3 0h0m2 1h0m0-3h0m2 0h0m3-1h0m0 5h0m2-5h0m5 3h0m1-1h0m2-1h0m0-1h0m8 2h0m29-1h0m-76 6h0m1 1h0m5 0h0m6 1h0m1-3h0m1 3h0m2 1h0m1-1h0m1-3h0m2 3h0m3-2h0m4-1h0m5 5h0m0-2h0m2-2h0m1-1h0m2 0h0m0 3h0m6 2h0m13-3h0m0 2h0m1 1h0m1-1h0m-64 3h0m8 3h0m5-3h0m2 4h0m0-1h0m4-1h0m4 0h0m2 1h0m3 0h0m2 1h0m4-4h0m14-1h0m2 5h0m5-1h0m6-1h0m6-2h0m1 3h0m3 0h0m11 1h0m-84 2h0m2 3h0m6-2h0m8-1h0m4 0h0m10 1h0m3 2h0m6 1h0m1-4h0m0 0h0m1 2h0m1 1h0m3-1h0m14-2h0m10-1h0m-52 10h0m8-3h0m0-1h0m17 0h0m11 4h0m6-3h0m1 1h0m4-1h0m2 2h0m48-1h0m-105 9h0m5-4h0m4 4h0m11-3h0m4 3h0m2-5h0m1 3h0m1 2h0m2 0h0m0-3h0m2-2h0m5 1h0m10 2h0m3 0h0m3-3h0m1 4h0m15-4h0m-57 9h0m1-1h0m5 1h0m2-3h0m1 0h0m1 1h0m2 0h0m3 0h0m0 0h0m4 0h0m0 1h0m7 2h0m11 1h0m1-5h0m2 5h0m16-4h0m13 0h0m-68 7h0m16-1h0m5 3h0m0 0h0m0-1h0m4 1h0m6 0h0m12 0h0m9 0h0m-45 2h0m5 0h0m2 4h0m0-3h0m4 0h0m2 3h0m16 1h0m4-4h0m6 4h0m34-3h0m-78 4h0m7 5h0m8 0h0m8-3h0m5 0h0m2 2h0m1-3h0m0 1h0m12 1h0m-29 3h0m3 0h0m10 2h0m0 0h0m7 2h0m1-1h0m9 1h0m-43 2h0m4 1h0m5 1h0m3 2h0m2 1h0m2 0h0m2-3h0m2-2h0m1 3h0m12-1h0m1 1h0m6-3h0m10 1h0m15 1h0m-57 7h0m9 0h0m26-1h0m9 1h0m0 1h0m31-4h0m-55 9h0m23 1h0m8-4h0m13 5h0m-8 11h0m38 7h0m15 11h0m7 5h0m-13 5h0m25 2h0m-33 12h0m34 1h0m-25 11h0m31-2h0m20-2h0m-6 16h0m28 2h0m-28 12h0m-4 7h0m18 4h0"/><path id="pBlue" d="M-38-46h0m-10 9h0m7-5h0m0 5h0m5 0h0m5-3h0m1 0h0m3 1h0m7-3h0m5 3h0m3-2h0m3 0h0m-39 5h0m2 5h0m0 0h0m6-1h0m5 0h0m1 1h0m1-1h0m0 1h0m2-1h0m1 1h0m0-2h0m1 0h0m1-2h0m0 4h0m1-1h0m0-4h0m1 4h0m0-2h0m0 3h0m1-2h0m0 1h0m0 0h0m0 1h0m0 0h0m1 0h0m1-2h0m0 2h0m1 0h0m1-3h0m0-2h0m1 4h0m3-1h0m0-1h0m1 0h0m0 2h0m3-2h0m9 2h0m1 1h0m3 0h0m1-1h0m-52 2h0m3 4h0m6 1h0m4-2h0m2 1h0m0-1h0m1 0h0m1-1h0m1 3h0m0 0h0m2 0h0m0 0h0m0-5h0m0 0h0m0 5h0m0-1h0m1-1h0m0 0h0m0-1h0m0 0h0m0 1h0m1-1h0m0-1h0m2 2h0m1 1h0m0-2h0m0-2h0m0 0h0m1 3h0m0-3h0m2 4h0m0 1h0m0-5h0m0 0h0m1 5h0m1 0h0m1-4h0m0 4h0m2-3h0m0 2h0m0-3h0m0 1h0m0 3h0m0 0h0m1-4h0m0 1h0m0 1h0m0-1h0m1 1h0m0-1h0m0 3h0m0-4h0m1 4h0m1-3h0m1 1h0m1 2h0m1-4h0m1-1h0m0 3h0m1 2h0m0-3h0m1 0h0m0 2h0m2-3h0m1 0h0m0 3h0m4 0h0m3 1h0m0-4h0m2-1h0m-51 11h0m3-1h0m0-3h0m1-1h0m3 5h0m2-4h0m1 1h0m2 0h0m0 3h0m2-4h0m0 3h0m0-4h0m0 5h0m1 0h0m0-3h0m0-2h0m1 1h0m0-1h0m0 5h0m1-2h0m0 2h0m1-4h0m0 4h0m0-2h0m1 0h0m0 2h0m0-4h0m0 2h0m0 0h0m0 0h0m1 0h0m0-2h0m0 0h0m0 3h0m0-4h0m0 2h0m1 1h0m0 0h0m0 2h0m1-1h0m0-3h0m0 2h0m0-2h0m1 1h0m0-2h0m0 0h0m0 5h0m0-5h0m0 2h0m0 3h0m0-4h0m1 3h0m0-1h0m0 1h0m0-1h0m0 1h0m0-3h0m0 2h0m0-2h0m1 2h0m0 1h0m0-3h0m0 4h0m0 0h0m0-3h0m0 3h0m1-3h0m0 0h0m1-2h0m1 2h0m0 2h0m0 0h0m0-4h0m0 2h0m1-2h0m0 4h0m0-3h0m0 0h0m0 1h0m1 3h0m0-1h0m0-1h0m0 2h0m1 0h0m0 0h0m0-1h0m0 1h0m0-4h0m0 3h0m0-2h0m0 3h0m1-1h0m0-3h0m0 2h0m0 1h0m0-3h0m1 1h0m0 1h0m0 2h0m0-1h0m0-1h0m0-1h0m1 1h0m0 1h0m0 0h0m0 0h0m0 1h0m0-2h0m0-3h0m1 4h0m0 1h0m0 0h0m0-1h0m1 1h0m0-1h0m0-1h0m0 1h0m0-4h0m1 5h0m0-1h0m0-2h0m2 2h0m0-1h0m0 1h0m1-2h0m0 3h0m0-2h0m0-2h0m0 0h0m1 2h0m0-1h0m0 2h0m1 0h0m0 0h0m1 0h0m0 0h0m0-3h0m0 2h0m1 2h0m1 0h0m0-4h0m1-1h0m0 3h0m0 2h0m1-2h0m2-2h0m1 4h0m0-5h0m0 5h0m1 0h0m1 0h0m1-4h0m2 3h0m1-1h0m1 0h0m0-2h0m1 2h0m1-2h0m3 4h0m2-5h0m1 2h0m24-2h0m-79 9h0m0-1h0m0 2h0m1 1h0m0-1h0m1-4h0m0 2h0m1 0h0m0 1h0m0-3h0m1 0h0m0 1h0m0-1h0m2 2h0m1 3h0m0-1h0m1-3h0m0 1h0m1-1h0m0 3h0m0-3h0m0 4h0m0-1h0m0-1h0m0 1h0m1-3h0m0 3h0m0-3h0m0 2h0m0-2h0m0 0h0m1 3h0m0 1h0m0-4h0m0 4h0m1-4h0m0 3h0m0-1h0m0-2h0m0 3h0m1 0h0m0 0h0m0-1h0m0 0h0m0 2h0m0-5h0m1 2h0m0 0h0m0 0h0m1 3h0m0-5h0m0 0h0m0 0h0m0 3h0m0 1h0m1 1h0m0-2h0m0-1h0m0 3h0m0-2h0m1 2h0m0-5h0m0 2h0m0-2h0m1 3h0m0 1h0m0-2h0m0-1h0m0-1h0m0 1h0m1 3h0m0 0h0m0-3h0m0 1h0m0 0h0m1 2h0m0 1h0m0 0h0m0-3h0m0 3h0m0 0h0m0-2h0m1 0h0m0 0h0m0 2h0m0-2h0m0 0h0m0 1h0m0-1h0m0 1h0m0-1h0m1-1h0m0 3h0m0-1h0m0-2h0m1-1h0m0 4h0m0-2h0m0 2h0m0-5h0m0 3h0m0 1h0m0 0h0m0 0h0m0 1h0m0 0h0m1-1h0m0 0h0m0-1h0m0 2h0m0-4h0m0-1h0m0 2h0m1 3h0m0-2h0m0-1h0m0 3h0m1-1h0m0 0h0m0-2h0m0 3h0m0-2h0m1-1h0m0 2h0m0-4h0m0 4h0m0 0h0m0-1h0m1 1h0m0 0h0m0-3h0m0-1h0m0 5h0m0-5h0m0 1h0m0 1h0m1 3h0m0-2h0m0-1h0m0 1h0m0-1h0m0-1h0m0 3h0m0 1h0m0-1h0m0-3h0m0 1h0m0-2h0m0 5h0m0-2h0m0 1h0m1 0h0m0-1h0m0 1h0m0-2h0m0-1h0m0 3h0m1-4h0m0 2h0m0-2h0m0 1h0m0 1h0m0 3h0m0-1h0m0-2h0m1 2h0m0-3h0m0 3h0m0 1h0m0-2h0m0 2h0m1-4h0m1 4h0m0-4h0m0 4h0m0 0h0m0-4h0m1 1h0m0 0h0m0 3h0m0-3h0m0 0h0m0 1h0m0-3h0m0 0h0m1 5h0m0 0h0m0-3h0m0-2h0m0 3h0m0 2h0m0-1h0m1-1h0m0 0h0m0 1h0m1-3h0m0 2h0m0 2h0m0-1h0m0 1h0m0-1h0m0 0h0m0 0h0m0-1h0m0-1h0m1 0h0m0 0h0m0-1h0m0 0h0m0 4h0m0-3h0m0 3h0m0 0h0m0-2h0m0 2h0m0-3h0m0 1h0m1-2h0m0 1h0m0 3h0m0-4h0m0 2h0m0-2h0m1 1h0m0-1h0m0 0h0m0 2h0m0 1h0m0 0h0m0-4h0m1 2h0m0 3h0m0-2h0m1 1h0m0 1h0m0-3h0m1 2h0m0-3h0m1 4h0m1-1h0m0 1h0m0-1h0m0-4h0m1 0h0m0 1h0m1 2h0m0-1h0m0-1h0m1 3h0m1-1h0m2 2h0m1-3h0m2 2h0m1-1h0m-69 5h0m9-1h0m1-1h0m4 3h0m1 0h0m0-1h0m0-1h0m1 3h0m1-4h0m0 4h0m1-3h0m1-1h0m0 1h0m1 4h0m1-2h0m0 0h0m1 1h0m0-3h0m0 1h0m0 3h0m0-5h0m1 1h0m0 3h0m0-4h0m1 2h0m0 3h0m0 0h0m0-1h0m1-4h0m1 5h0m0-5h0m0 3h0m1 0h0m0-1h0m0-2h0m0 3h0m0 2h0m0-3h0m0-1h0m0 0h0m1 1h0m0-2h0m0 3h0m0-1h0m0 0h0m0-2h0m1 1h0m0 3h0m0-1h0m0-1h0m1 2h0m0-4h0m0 3h0m1-3h0m0 1h0m0-1h0m0 4h0m0-4h0m0 0h0m0 5h0m0-3h0m1 0h0m0-1h0m0 4h0m0 0h0m0-2h0m1 0h0m0-2h0m0 1h0m0 2h0m0-1h0m0 1h0m0 0h0m1 1h0m0 0h0m0 0h0m0 0h0m0-1h0m0 1h0m0-3h0m1 1h0m1 1h0m0-4h0m0 1h0m0 4h0m0-3h0m0 2h0m0-2h0m0 1h0m1 1h0m0-2h0m0 0h0m0 3h0m0-3h0m0-2h0m0 1h0m0-1h0m0 3h0m1 1h0m0-3h0m0-1h0m0 4h0m0-2h0m0 1h0m1-2h0m0 1h0m0 3h0m1-3h0m0-1h0m0 2h0m0 1h0m0 1h0m0-1h0m0-2h0m0 3h0m0 0h0m0-1h0m0-1h0m0 1h0m0 1h0m0-5h0m0 2h0m1-1h0m0-1h0m0 2h0m0-1h0m0 3h0m0-3h0m0 3h0m0 1h0m0-1h0m1-4h0m0 3h0m0-2h0m0 2h0m0 1h0m0-1h0m1-2h0m0 0h0m0 2h0m0-1h0m0 3h0m0-1h0m0-4h0m0 3h0m0 2h0m1-5h0m0 3h0m0 0h0m0 2h0m0-3h0m0 1h0m0 1h0m0-4h0m1 5h0m0-3h0m0 1h0m0-3h0m0 0h0m0 5h0m0-2h0m1-1h0m0 0h0m0 1h0m0-1h0m0 1h0m0 2h0m0-3h0m0-1h0m0 3h0m0-4h0m0 5h0m0-5h0m1 3h0m0-3h0m0 2h0m0 1h0m0-2h0m0-1h0m0 5h0m0-5h0m0 2h0m1-2h0m0 4h0m0 1h0m0 0h0m0 0h0m0-3h0m0 0h0m0 1h0m0 0h0m1-1h0m0 2h0m0 1h0m0 0h0m0-3h0m1-2h0m0 0h0m0 0h0m0 2h0m0 3h0m0-4h0m1 1h0m0 2h0m0-1h0m0 1h0m0 0h0m0-2h0m0-2h0m0 3h0m1 2h0m0 0h0m0-5h0m0 5h0m0-3h0m0 3h0m0-1h0m0-4h0m0 0h0m0 5h0m0-1h0m0-4h0m0 2h0m1 0h0m0 2h0m0 1h0m0-2h0m0-2h0m0 4h0m0-2h0m1 1h0m0-1h0m0-3h0m0 4h0m0-1h0m0 1h0m0-1h0m0-3h0m0 4h0m1-4h0m0 4h0m0 1h0m0-4h0m0 4h0m0-5h0m1 5h0m0 0h0m0-3h0m0 0h0m0 0h0m0 2h0m0 0h0m1-2h0m0-2h0m0 1h0m0 0h0m0 1h0m0 1h0m0-2h0m0 2h0m1-2h0m0 2h0m0-2h0m0-1h0m1 3h0m0 0h0m0-1h0m0 3h0m0-1h0m1-4h0m0 5h0m0-5h0m0 1h0m0 3h0m0 1h0m0-1h0m0-2h0m1-1h0m0 1h0m1 2h0m0 0h0m1 1h0m0 0h0m1 0h0m0 0h0m0 0h0m0-2h0m0 0h0m0 2h0m0-5h0m0 5h0m0-3h0m1-2h0m0 2h0m0 1h0m1 1h0m0 1h0m0-5h0m0 3h0m0-1h0m1 0h0m1-1h0m0 4h0m0-5h0m1 3h0m1-3h0m1 2h0m2 3h0m1 0h0m0-5h0m1 5h0m9-3h0m5 2h0m-78 2h0m8 2h0m1-2h0m2 2h0m0-2h0m1 5h0m0-5h0m1 0h0m0 0h0m0 0h0m1 0h0m1 4h0m0 1h0m1-3h0m0-1h0m1 0h0m0 0h0m0 3h0m0 1h0m1-5h0m0 5h0m0-1h0m0-1h0m0 1h0m1-3h0m0 1h0m0 1h0m1 0h0m0-1h0m0 0h0m0-1h0m1 0h0m0 0h0m0 0h0m0 3h0m0 1h0m0-5h0m0 0h0m0 1h0m0 3h0m0-4h0m1 5h0m0-5h0m0 3h0m0-3h0m0 2h0m0-2h0m0 4h0m1-2h0m0-1h0m0 4h0m0-4h0m0 0h0m0 0h0m0 4h0m1-5h0m0 4h0m0 0h0m0-4h0m1 5h0m0-4h0m0-1h0m0 0h0m0 2h0m1 2h0m0-1h0m0-3h0m0 3h0m0-3h0m0 0h0m0 5h0m1-5h0m0 1h0m0 2h0m0-3h0m0 1h0m0-1h0m0 2h0m1 2h0m0-3h0m0 1h0m0-2h0m0 2h0m0 3h0m0-4h0m0 1h0m1 3h0m0-3h0m0 2h0m0-1h0m1-1h0m0-1h0m0 4h0m0-4h0m0 0h0m0 1h0m0 1h0m0 1h0m0-2h0m0-2h0m0 0h0m0 0h0m1 4h0m0-3h0m0 4h0m0-1h0m0-3h0m0 0h0m0-1h0m0 2h0m0 0h0m0 3h0m0-5h0m0 3h0m1 2h0m0-5h0m0 1h0m0 4h0m0 0h0m0-1h0m0 1h0m0-2h0m0 0h0m1-1h0m0 0h0m0 0h0m0 0h0m0 0h0m0 2h0m0-1h0m0 0h0m1-3h0m0 0h0m0 4h0m0-3h0m0 3h0m0-1h0m0-2h0m0 1h0m0 2h0m0-3h0m1 0h0m0-1h0m0 4h0m0-4h0m0 2h0m0 1h0m0-1h0m1 0h0m0 0h0m0-2h0m0 1h0m0 3h0m0 1h0m0 0h0m0-5h0m0 2h0m0-1h0m1 0h0m0 1h0m0-1h0m0 0h0m0 4h0m0-1h0m0-1h0m0 1h0m0-3h0m0 1h0m0 0h0m0-2h0m0 5h0m0-1h0m1-2h0m0 0h0m0-1h0m0 0h0m0 4h0m0-5h0m0 0h0m0 3h0m0-3h0m0 2h0m0 3h0m0-1h0m0-4h0m1 2h0m0 3h0m0 0h0m0-4h0m0 0h0m0 2h0m0-1h0m0-2h0m1 4h0m0 1h0m0 0h0m0-4h0m0 3h0m0 0h0m0-2h0m0 0h0m0-2h0m0 2h0m0 3h0m0 0h0m0 0h0m0-4h0m1 0h0m0 1h0m0 2h0m0-1h0m0-2h0m0 1h0m0 1h0m0 1h0m0-3h0m0 1h0m1 2h0m0-3h0m0 0h0m0 0h0m0 1h0m0-1h0m0 1h0m0 3h0m0-1h0m0 0h0m0-3h0m0 4h0m0-1h0m0-2h0m0 0h0m1 0h0m0 3h0m0-1h0m0-3h0m0 3h0m1 0h0m0-1h0m0 1h0m0 0h0m0-2h0m0 0h0m1-2h0m0 4h0m0-2h0m0-1h0m0 1h0m0-1h0m0 3h0m0-3h0m1 3h0m0-2h0m0-2h0m0 3h0m0-2h0m0 0h0m0 0h0m0 0h0m0-1h0m0 0h0m0 2h0m1-1h0m0 1h0m0 2h0m0-2h0m0 2h0m1-1h0m0 2h0m0 0h0m0-2h0m0 0h0m0-2h0m0 0h0m0 2h0m0-3h0m0 4h0m0 0h0m0-1h0m0 2h0m0-1h0m1-2h0m0 1h0m0-2h0m0 1h0m0 2h0m0-2h0m0 0h0m0 3h0m0 0h0m0-5h0m0 3h0m0-3h0m0 0h0m1 0h0m0 2h0m0 3h0m0-5h0m0 5h0m1-5h0m0 4h0m0-1h0m0 0h0m0 1h0m0-2h0m0 3h0m1-2h0m0 1h0m0-4h0m0 3h0m1 2h0m0-3h0m1 2h0m0-4h0m0 1h0m0 1h0m1 2h0m0 1h0m0-2h0m0-1h0m0 0h0m0 1h0m0 2h0m1-4h0m0 2h0m0 0h0m0-3h0m0 4h0m0-1h0m1-1h0m0-2h0m0 5h0m1-4h0m0-1h0m0 2h0m1 0h0m0 3h0m0-3h0m1-2h0m0 5h0m0-1h0m1 0h0m0 0h0m0 1h0m0 0h0m1-1h0m0 0h0m0-1h0m1 0h0m2 1h0m1 0h0m0 1h0m0-5h0m1 1h0m0 4h0m4 0h0m3-2h0m0 2h0m6 0h0m-78 2h0m2 3h0m4-2h0m5 2h0m1-1h0m4-2h0m1 0h0m1-1h0m0 1h0m0 0h0m1-1h0m0 1h0m1 4h0m0-4h0m0 3h0m1-2h0m0 0h0m1 1h0m0-2h0m0-1h0m0 0h0m1 0h0m0 1h0m0 0h0m0 2h0m0-3h0m1 4h0m0-3h0m0 1h0m1-1h0m0 0h0m0 1h0m1 0h0m0 1h0m0-1h0m0 2h0m0-2h0m1-1h0m0 1h0m0-2h0m0 5h0m0-5h0m0 5h0m0-5h0m0 1h0m0 1h0m0 0h0m1-2h0m0 5h0m0-4h0m0 0h0m0 3h0m0 1h0m1-4h0m0 1h0m0-2h0m0 2h0m0-1h0m0 3h0m0-1h0m0-1h0m0 0h0m1-1h0m0 2h0m0-1h0m0 1h0m1-1h0m0 0h0m0 0h0m0 0h0m0-1h0m0 3h0m0-4h0m0 0h0m1 2h0m0-1h0m0 0h0m0 0h0m0 4h0m0-5h0m0 5h0m0-5h0m1 3h0m0-3h0m0 2h0m0-1h0m1-1h0m0 3h0m0 0h0m0-1h0m0-2h0m0 0h0m0 1h0m0 4h0m0 0h0m0-3h0m1 2h0m0-2h0m0 3h0m0-2h0m0 0h0m0-2h0m0 3h0m1-3h0m0-1h0m0 5h0m0 0h0m0-4h0m0 4h0m0-4h0m0 1h0m1 2h0m0-2h0m0-1h0m0 3h0m0-3h0m0 0h0m0-1h0m0 0h0m0 5h0m0-4h0m0-1h0m0 3h0m0 2h0m1-2h0m0 1h0m0-2h0m0-2h0m0 5h0m0-2h0m0 0h0m0 0h0m0-2h0m1 2h0m0-3h0m0 3h0m0 0h0m0-3h0m0 2h0m0 0h0m0 1h0m0 0h0m1 0h0m0-3h0m0 3h0m0-3h0m0 4h0m0-4h0m0 4h0m0-1h0m1 2h0m0-5h0m0 5h0m0-3h0m0 3h0m0-3h0m1 0h0m0 3h0m0-1h0m0 1h0m0 0h0m0-5h0m1 2h0m0 0h0m0 1h0m1-1h0m0-1h0m0 4h0m0-4h0m0 4h0m0-5h0m0 1h0m0-1h0m1 0h0m0 5h0m0-2h0m1-1h0m0 3h0m0-3h0m0 0h0m1 2h0m0-1h0m0-1h0m0 1h0m0 1h0m0-2h0m0-1h0m0 0h0m0 0h0m1 1h0m0 2h0m0-1h0m1 0h0m0 1h0m0-4h0m0 3h0m0 1h0m0-2h0m0-2h0m1 0h0m0 5h0m0-3h0m0 2h0m0-3h0m0 3h0m0-4h0m0 1h0m0-1h0m0 4h0m1 0h0m0 0h0m0-3h0m0 1h0m0 1h0m0 0h0m0 1h0m0 1h0m0-3h0m1-1h0m0 4h0m0-5h0m0 5h0m0-4h0m0 3h0m1-4h0m0 1h0m0 1h0m0 1h0m0-2h0m0 3h0m0 0h0m0-1h0m1 1h0m0-1h0m0 2h0m0-1h0m0-2h0m1 0h0m1-2h0m0 2h0m0 0h0m0 0h0m1 0h0m0-2h0m0 5h0m1-2h0m0-2h0m0 1h0m1-1h0m0 3h0m0 0h0m0 1h0m0-4h0m1-1h0m0 1h0m1 2h0m0-2h0m0 2h0m0 1h0m0-2h0m0 3h0m0-1h0m0-4h0m1 0h0m0 3h0m0-1h0m0 0h0m1 3h0m0-1h0m0-4h0m1 5h0m0-1h0m0-1h0m1-2h0m0 3h0m0 0h0m0-1h0m3 0h0m0 2h0m0-1h0m0-3h0m1-1h0m1 2h0m0 1h0m1-1h0m0 0h0m1 0h0m1 2h0m1-1h0m0 2h0m1 0h0m0 0h0m1-2h0m1 2h0m0 0h0m2-4h0m0 2h0m1-1h0m1 2h0m4 1h0m3-4h0m-84 6h0m12-1h0m1 4h0m1-2h0m2-2h0m1 3h0m0-1h0m1-1h0m0 0h0m0 0h0m1 4h0m2-4h0m0 3h0m1-2h0m0 0h0m0-2h0m0 2h0m0 2h0m1-2h0m0 2h0m1-1h0m0-2h0m1-1h0m0 2h0m0-2h0m0 5h0m0-5h0m1 2h0m0-2h0m0 1h0m1 1h0m0 1h0m0 1h0m0 0h0m1-2h0m0-2h0m0 2h0m1-1h0m0 2h0m0-1h0m0-2h0m0 3h0m0-1h0m0 2h0m0-3h0m0 0h0m0 3h0m1 1h0m0-2h0m0-2h0m0-1h0m0 2h0m0 2h0m0 0h0m0-4h0m1 1h0m0 1h0m0-2h0m1 3h0m0-1h0m0-1h0m1 1h0m0 1h0m1-3h0m0 4h0m0-1h0m0 0h0m1-1h0m0-2h0m0 2h0m0 2h0m0-4h0m0 1h0m0 0h0m0-1h0m0 2h0m1-2h0m0 1h0m0-1h0m0 0h0m0 3h0m0 2h0m0-2h0m0 2h0m0-5h0m0 0h0m0 3h0m1-3h0m0 1h0m0 2h0m0-2h0m0 2h0m1-2h0m0 3h0m0-2h0m1-1h0m0-1h0m0 0h0m0 0h0m0 0h0m0 1h0m1 3h0m0-2h0m0-1h0m0-1h0m0 4h0m1-2h0m0-1h0m0 4h0m0-1h0m1-2h0m0 1h0m0 0h0m0-3h0m0 4h0m0-3h0m0-1h0m1 2h0m0 1h0m0-2h0m0 3h0m0-3h0m1 3h0m0 1h0m0-5h0m1 0h0m1 4h0m0-3h0m0 1h0m0-1h0m0-1h0m0 5h0m0-4h0m1 4h0m0-3h0m0 3h0m0-3h0m0-2h0m0 2h0m1 0h0m0 1h0m0 2h0m0-5h0m0 0h0m0 0h0m1 2h0m0 0h0m0 0h0m0-2h0m0 4h0m1 1h0m0 0h0m1 0h0m0-4h0m0 1h0m1 1h0m0-2h0m1-1h0m0 1h0m0 2h0m0-2h0m1 3h0m0 1h0m1-2h0m0-3h0m0 2h0m0 3h0m0-3h0m0-2h0m1 2h0m0 3h0m0-5h0m0 0h0m1 0h0m0 4h0m0-1h0m1-1h0m0-1h0m0 1h0m1 0h0m1 1h0m0-2h0m0 0h0m1 1h0m0-1h0m0 4h0m0-5h0m0 3h0m0 1h0m0 0h0m1 1h0m0-4h0m1 1h0m0 3h0m0-4h0m0 2h0m1-2h0m0 3h0m0-1h0m1-3h0m0 0h0m0 4h0m1 1h0m0-1h0m0 1h0m0-1h0m0-1h0m1-3h0m0 2h0m0 3h0m0-4h0m0 3h0m0 1h0m1-1h0m0 1h0m0 0h0m1-4h0m0 3h0m1 0h0m1-2h0m0-1h0m0-1h0m1 2h0m2 1h0m0 0h0m1-1h0m1 1h0m0-1h0m0 0h0m1 3h0m0 0h0m2 0h0m0-5h0m1 5h0m1-5h0m4 3h0m5-1h0m-80 7h0m4 0h0m1 1h0m2-4h0m4 2h0m1-2h0m0 4h0m4-4h0m0 0h0m1 1h0m1 1h0m0-1h0m1 0h0m0 0h0m0 2h0m3 0h0m0-3h0m0 3h0m1-3h0m1 2h0m0-2h0m0 0h0m1 1h0m0-1h0m0 1h0m1 2h0m0-3h0m0 0h0m1 0h0m0 1h0m1 1h0m0-2h0m0 1h0m0 3h0m0-2h0m0-2h0m1 3h0m1-3h0m0 2h0m1-1h0m0 1h0m0-2h0m1 2h0m0 2h0m0-1h0m1-3h0m1 0h0m0 5h0m0-2h0m0-3h0m1 0h0m0 4h0m1-3h0m0 1h0m0 1h0m1-3h0m0 1h0m1 4h0m1-2h0m0-1h0m0 3h0m0-5h0m1 4h0m0-1h0m1-1h0m0 2h0m2-3h0m0-1h0m0 4h0m0-3h0m1 0h0m1 4h0m1-3h0m0-2h0m0 4h0m1 1h0m2-3h0m0 2h0m1-3h0m0 0h0m0 2h0m2-1h0m0 0h0m0-1h0m1 2h0m0-3h0m1 0h0m0 2h0m0 0h0m1 2h0m0 1h0m0-2h0m1-3h0m0 2h0m1-1h0m0 1h0m1 2h0m0-4h0m0 0h0m0 4h0m1 0h0m0-3h0m0-1h0m1 5h0m1-4h0m0 0h0m0 2h0m0 1h0m0 1h0m1 0h0m1 0h0m0-3h0m0 0h0m1 2h0m0-4h0m1 0h0m0 4h0m0 1h0m0-4h0m1 1h0m1 3h0m0-1h0m1-1h0m1 1h0m0 1h0m3 0h0m0-1h0m2 0h0m1 0h0m3-1h0m3 2h0m4-5h0m-80 10h0m11-4h0m3 0h0m4 2h0m1-2h0m1 0h0m0 5h0m2-1h0m0-1h0m2-2h0m0 4h0m2-3h0m0 0h0m1 3h0m0-1h0m1-3h0m0 2h0m0-3h0m1 5h0m2-5h0m0 0h0m1 4h0m0-2h0m3-1h0m1-1h0m0 4h0m0-3h0m2 3h0m1-1h0m1-3h0m1 4h0m0-3h0m2 0h0m1 0h0m0 3h0m0 1h0m1 0h0m1 0h0m1-5h0m1 5h0m0-3h0m2-1h0m0 4h0m0-5h0m0 2h0m1 1h0m0-2h0m0 2h0m1 2h0m0-1h0m1-1h0m0 2h0m1-5h0m0 4h0m0 0h0m1 1h0m0-1h0m0 0h0m1-2h0m0 2h0m1-4h0m1 2h0m0 2h0m1-3h0m0 2h0m1 0h0m1-2h0m0-1h0m1 5h0m0-3h0m1 2h0m2-4h0m1 3h0m7 1h0m4-3h0m-55 6h0m1 3h0m2 1h0m3-3h0m0 3h0m0-5h0m1 2h0m1 1h0m0 1h0m3-4h0m1 2h0m3-1h0m1-1h0m0 2h0m4 2h0m1-4h0m0 1h0m3 0h0m6 0h0m0 0h0m2 1h0m0-1h0m3-1h0m0 1h0m1 4h0m0-2h0m1 2h0m2-2h0m0-3h0m0 1h0m4 1h0m0 0h0m0 3h0m0-4h0m3 0h0m1 2h0m3-2h0m-42 7h0m6 3h0m7-2h0m13-3h0m0 2h0m4-2h0m5 0h0m-26 8h0m10-1h0"/><path id="pBlack2" d="M-8-19h0m2-1h0m-5 4h0m3 3h0m16 0h0m-18 4h0m0 2h0m1-1h0m0 0h0m0-3h0m1 3h0m0-4h0m2 2h0m1 1h0m0-1h0m0-1h0m1 4h0m1 0h0m1-2h0m1 1h0m0 1h0m0-1h0m0 1h0m1-2h0m1-2h0m0 3h0m1 0h0m0-1h0m0 1h0m1-1h0m0-1h0m1 3h0m0-1h0m6 1h0m1-2h0m5 2h0m-32 3h0m0-2h0m1 1h0m3 1h0m1-2h0m0 4h0m1 1h0m0-3h0m0-2h0m1 2h0m1 1h0m1 1h0m0 1h0m0-2h0m1-3h0m0 2h0m0-2h0m0 5h0m1-5h0m0 0h0m0 2h0m0 2h0m0 0h0m1 0h0m0-1h0m1-2h0m0 4h0m1-3h0m0 1h0m1 2h0m0-5h0m0 1h0m0 2h0m0 0h0m1-3h0m0 1h0m0-1h0m0 4h0m0-2h0m2 3h0m0-1h0m0 1h0m2-4h0m1 3h0m0 1h0m1-1h0m1 0h0m0-3h0m1 1h0m2 0h0m0 0h0m2-2h0m14 5h0m-39 6h0m2-3h0m0 2h0m2-1h0m0 0h0m0 1h0m1-3h0m0 4h0m0-1h0m1 1h0m0-3h0m1 2h0m1-3h0m1 2h0m1-1h0m1-1h0m1 4h0m0 0h0m0-4h0m0 0h0m1 0h0m0 1h0m0 1h0m0-2h0m0 3h0m1 1h0m0-1h0m0-1h0m1 2h0m0-5h0m0 2h0m1 3h0m0-2h0m0-1h0m0 1h0m1 2h0m0-4h0m1 0h0m0 3h0m1-4h0m1 4h0m0-2h0m0-2h0m2 0h0m0 3h0m1 0h0m0-1h0m1-1h0m1-1h0m0 5h0m0-1h0m1-3h0m0 1h0m1 2h0m0 0h0m2-4h0m0 5h0m1-5h0m1 5h0m6-5h0m12 3h0m-51 5h0m3 3h0m3 0h0m1-1h0m2-3h0m0 4h0m1-1h0m0-1h0m0 1h0m0-2h0m0 0h0m1 0h0m0-2h0m0 0h0m1 5h0m0 0h0m0-1h0m1-2h0m0 3h0m0-3h0m0-1h0m0 3h0m1 0h0m0-2h0m1-1h0m0 4h0m1-2h0m0 1h0m0-1h0m0-1h0m1 2h0m0-1h0m0 1h0m0-2h0m1 0h0m0 2h0m0-3h0m0-1h0m1 1h0m0 1h0m1-1h0m0 2h0m0 1h0m1-2h0m0-2h0m0 3h0m0 1h0m0-4h0m1 1h0m0 1h0m1 1h0m0 2h0m0-3h0m0 1h0m0-1h0m1 0h0m1-1h0m0-1h0m0 5h0m0-3h0m0 1h0m1 0h0m0 2h0m1 0h0m0-3h0m1-2h0m0 1h0m1 1h0m0 2h0m0-1h0m0 0h0m0 0h0m1-3h0m0 3h0m1 1h0m2-4h0m2 0h0m0 4h0m1 0h0m3 1h0m0 0h0m1-3h0m1 0h0m2 3h0m4-4h0m2 0h0m-49 5h0m4 2h0m2 0h0m4 0h0m0 3h0m0-3h0m1 2h0m1 1h0m0-4h0m1 1h0m0 2h0m0-2h0m1-2h0m1 0h0m1 1h0m0 3h0m0-3h0m1 1h0m0-2h0m0 4h0m0 1h0m0-2h0m1 2h0m0 0h0m0 0h0m0-3h0m1-2h0m0 1h0m0 4h0m0-5h0m0 3h0m0-3h0m1 1h0m0 0h0m0 2h0m0-1h0m1 1h0m0-3h0m0 2h0m0 3h0m1-1h0m0 1h0m1-1h0m1 1h0m0-3h0m0 3h0m0-3h0m0 2h0m1-4h0m0 1h0m0 4h0m0 0h0m0 0h0m1-3h0m0 1h0m0 1h0m1-1h0m0 2h0m0-4h0m0 2h0m1 2h0m0-4h0m0 2h0m0-2h0m0 2h0m1 2h0m0-3h0m0 1h0m0-2h0m0 2h0m0-2h0m1 1h0m0 3h0m1-3h0m0 1h0m0 2h0m1-2h0m1 0h0m0 2h0m0-5h0m0 4h0m0-4h0m1 4h0m1 0h0m0-2h0m1 3h0m0-5h0m1 1h0m0 2h0m0-3h0m1 0h0m0 3h0m0-2h0m1 3h0m1 0h0m0-4h0m3 0h0m0 1h0m1 2h0m1 2h0m1-2h0m1 0h0m2 2h0m2 0h0m2-4h0m9 4h0m-55 3h0m1 0h0m1 3h0m1-3h0m5 1h0m0-1h0m1 3h0m0-1h0m1-3h0m0 4h0m1-4h0m0-1h0m1 3h0m0 0h0m0-1h0m1 0h0m0 1h0m0-1h0m0-2h0m0 1h0m1 0h0m0 0h0m0 3h0m0-2h0m0 0h0m0 1h0m1-2h0m0 0h0m1 4h0m0-5h0m1 5h0m0-1h0m0 1h0m0 0h0m0-4h0m0 0h0m0 1h0m0-2h0m1 3h0m0 0h0m0 1h0m0-4h0m0 4h0m0 1h0m0-4h0m1-1h0m0 3h0m1 2h0m0-4h0m0 4h0m1-5h0m0 0h0m0 4h0m0-1h0m1 2h0m0-1h0m1-2h0m0 2h0m0-2h0m0-1h0m0 4h0m0-4h0m0 2h0m1-2h0m0 3h0m0 0h0m0-3h0m0 1h0m0 3h0m1-4h0m0 1h0m0 2h0m1 0h0m0-3h0m1-1h0m0 5h0m1-4h0m0-1h0m0 2h0m1 2h0m0 1h0m0-5h0m0 3h0m0-2h0m0-1h0m0 0h0m1 5h0m0-5h0m1 3h0m0 0h0m0-1h0m0-2h0m1 1h0m2 3h0m0 1h0m0-3h0m1 1h0m1 0h0m0 2h0m1-1h0m0-1h0m0 0h0m0 1h0m2-3h0m0 4h0m0 0h0m1-3h0m0-2h0m1 2h0m2 0h0m2-1h0m1 3h0m2 1h0m3-1h0m2 0h0m-53 2h0m6 2h0m0-2h0m0 3h0m0 2h0m3-1h0m0-1h0m1-2h0m1 0h0m0-1h0m0 3h0m1-1h0m0 0h0m1 0h0m0 1h0m0-3h0m0 3h0m1-3h0m0 4h0m1-2h0m0-1h0m0 1h0m0 1h0m0-3h0m0 2h0m1 2h0m0-4h0m1 1h0m0 2h0m0-3h0m1 2h0m0 1h0m0-2h0m1 3h0m0 0h0m0-4h0m0 2h0m0 0h0m1 3h0m0-3h0m0-2h0m0 5h0m0 0h0m0-5h0m1 2h0m0 1h0m0-1h0m1 3h0m0-4h0m0 4h0m0-1h0m1-3h0m0-1h0m0 1h0m0 2h0m0-3h0m1 5h0m0-3h0m0-1h0m0 3h0m0 1h0m0-1h0m0-2h0m0 2h0m1-1h0m0 2h0m0-5h0m0 5h0m1-1h0m0-2h0m0-2h0m0 3h0m0-2h0m0 2h0m1-1h0m0-1h0m0 3h0m0-3h0m0-1h0m1 5h0m0 0h0m0-4h0m0 3h0m1-3h0m0 4h0m0-3h0m0-1h0m1 3h0m0-2h0m1-2h0m0 4h0m1 0h0m0 1h0m1-4h0m0 2h0m0 2h0m0-1h0m1-2h0m1 2h0m0 0h0m0 1h0m1-4h0m1 3h0m0 0h0m0-1h0m1-3h0m0 4h0m0-3h0m0-1h0m0 1h0m1 0h0m0 1h0m0-2h0m1 2h0m1 2h0m0-3h0m0-1h0m1 2h0m0 0h0m1 1h0m0-3h0m2 0h0m2 5h0m0 0h0m1-1h0m1-3h0m0 1h0m12-1h0m-58 6h0m2 2h0m0-2h0m3 4h0m2-3h0m2 2h0m1-3h0m1 0h0m0 1h0m0 0h0m1 3h0m0-1h0m0-4h0m0 1h0m1 3h0m0-3h0m1 1h0m0 3h0m0-4h0m0 4h0m1-1h0m0-2h0m1-2h0m0 2h0m1 3h0m0-1h0m0 0h0m0 0h0m0-1h0m1-2h0m0 3h0m0-2h0m0-2h0m0 5h0m1-5h0m1 1h0m0 0h0m0 0h0m0 2h0m0-3h0m0 0h0m0 3h0m1 1h0m0-2h0m0-2h0m1 5h0m0-3h0m0-1h0m0 1h0m0-1h0m0 2h0m1-3h0m0 5h0m0 0h0m0-5h0m0 0h0m1 3h0m0 1h0m0-3h0m0 1h0m0-2h0m1 1h0m0 1h0m0-1h0m0 3h0m0 0h0m0-1h0m0 0h0m0-2h0m0-1h0m0 1h0m1-1h0m0 4h0m0-1h0m1-2h0m0-1h0m0 4h0m1 0h0m0 0h0m0-3h0m0 1h0m0 2h0m0 0h0m1-1h0m0 1h0m0-2h0m0-2h0m1 4h0m0 1h0m0-1h0m0-1h0m0 0h0m0 0h0m0 0h0m1 0h0m0-1h0m0 3h0m0 0h0m0-1h0m0 0h0m1-2h0m0 1h0m0-2h0m1 2h0m0 1h0m0-3h0m1 0h0m0 2h0m0 0h0m0 1h0m0 1h0m1-1h0m0-4h0m0 2h0m0 3h0m0-2h0m0-1h0m0 3h0m1-1h0m0-1h0m0 2h0m0 0h0m0-4h0m0 4h0m1-3h0m0-1h0m0 4h0m0-3h0m1 3h0m0-3h0m0 3h0m0-3h0m0 2h0m1 1h0m0-5h0m0 5h0m1-1h0m0-1h0m1 0h0m1-1h0m0 3h0m1 0h0m0-2h0m0-3h0m0 3h0m1-3h0m1 4h0m0-1h0m0-3h0m0 4h0m0 0h0m5-3h0m1 3h0m3 1h0m0 0h0m4-2h0m54-1h0m-109 4h0m1 3h0m2-3h0m4 1h0m0 2h0m3 1h0m0-4h0m1 1h0m0 3h0m1-4h0m1 1h0m0 1h0m0 3h0m0-2h0m1 1h0m0 0h0m1 1h0m0-5h0m0 3h0m1 1h0m1-3h0m1 2h0m0-2h0m1 1h0m0 2h0m0-2h0m0 0h0m0 2h0m1-2h0m1-2h0m0 0h0m0 3h0m0 1h0m0-2h0m1 1h0m0 2h0m0 0h0m0 0h0m0-3h0m1-1h0m0 0h0m1 1h0m0 3h0m0-2h0m0-1h0m0 2h0m0 1h0m1-4h0m0 4h0m0-4h0m0 0h0m0 2h0m0-2h0m1 2h0m0 0h0m0 1h0m0 0h0m0 0h0m1-1h0m0-2h0m0-1h0m0 0h0m0 4h0m0 1h0m0-4h0m1 4h0m0-3h0m1 1h0m0 0h0m0 1h0m0-4h0m0 2h0m1 2h0m0-3h0m0 3h0m0-1h0m0 1h0m0-4h0m0 4h0m0-2h0m1-2h0m0 4h0m0 1h0m0-5h0m0 5h0m1-1h0m0-3h0m0 0h0m1 3h0m1-2h0m0 2h0m0-4h0m0 4h0m0 0h0m1-1h0m0-1h0m0 2h0m0 0h0m1-3h0m0 3h0m0-3h0m1 2h0m0-1h0m0 0h0m0 3h0m0-1h0m1-3h0m0 0h0m0 3h0m0-2h0m0-2h0m0 4h0m1-4h0m1 0h0m0 2h0m0 0h0m0 1h0m0-3h0m0 4h0m1-3h0m0 4h0m0-4h0m1 2h0m0 2h0m0 0h0m0-3h0m0 2h0m1-3h0m1 2h0m0-2h0m1 1h0m0-2h0m1 1h0m5 4h0m2-3h0m0 1h0m1 1h0m0 1h0m1-2h0m2 1h0m0-1h0m3-2h0m1 4h0m20 0h0m-72 1h0m2 1h0m0 4h0m1-1h0m1-3h0m0 0h0m2 1h0m1 2h0m1 0h0m0 0h0m1-3h0m1 2h0m0-3h0m1 0h0m0 1h0m0 4h0m0-5h0m1 4h0m0-3h0m0 1h0m0-2h0m0 3h0m0-2h0m1 1h0m0 0h0m0 0h0m1 1h0m0-3h0m1 4h0m0-3h0m0 4h0m0-4h0m0-1h0m1 4h0m0-1h0m0 0h0m1-1h0m0-2h0m1 3h0m0 0h0m0 1h0m0-1h0m0-1h0m0 2h0m1-4h0m0 2h0m0 0h0m0 3h0m0-2h0m0 1h0m0-2h0m1 1h0m0 1h0m0 1h0m0 0h0m0 0h0m1-2h0m0 1h0m0 1h0m0 0h0m0-2h0m0-3h0m0 4h0m0-1h0m0-2h0m0-1h0m1 0h0m0 0h0m0 2h0m0 2h0m0-4h0m0 1h0m1 1h0m0-2h0m0 5h0m1-1h0m0-2h0m0-2h0m0 5h0m1-3h0m0 3h0m0-4h0m0-1h0m0 1h0m0 2h0m1 0h0m0-3h0m0 5h0m0-3h0m0-2h0m0 3h0m1 1h0m0 0h0m0-4h0m0 0h0m0 0h0m0 5h0m1 0h0m0-4h0m0 1h0m0 0h0m0 3h0m0 0h0m0-5h0m0 2h0m1 1h0m0-1h0m0 0h0m0-1h0m1 3h0m0-1h0m0 1h0m0-2h0m0 3h0m1-2h0m0 2h0m0-3h0m0 3h0m0-1h0m0-1h0m1-2h0m0-1h0m0 5h0m0-4h0m0 4h0m0-2h0m0 0h0m1 0h0m0-1h0m0 3h0m0-1h0m1-4h0m0 5h0m0-5h0m0 4h0m0-2h0m1 3h0m0-5h0m0 1h0m1 3h0m0 0h0m0-3h0m0-1h0m0 4h0m0-1h0m1 2h0m0-3h0m3 1h0m1-2h0m1 2h0m0-1h0m0 0h0m0 3h0m1-3h0m0 3h0m0-1h0m1 0h0m0-1h0m0-2h0m0 2h0m1-1h0m0 3h0m1-4h0m2 4h0m0-5h0m2 3h0m0 2h0m0-1h0m0-1h0m0-3h0m1 4h0m0 0h0m0-2h0m1 3h0m0-4h0m1 0h0m4 2h0m1 2h0m4-4h0m4-1h0m5 5h0m4-5h0m6 2h0m-83 5h0m5 4h0m2-1h0m0 0h0m4-4h0m1 0h0m1 1h0m1 2h0m0-3h0m0 0h0m1 1h0m1 1h0m1-1h0m1-1h0m1 4h0m0-2h0m0-2h0m0 0h0m1 4h0m0 0h0m1-4h0m0 4h0m0-1h0m0 1h0m0-1h0m1 2h0m0-5h0m1 4h0m0-4h0m0 2h0m0 1h0m1-2h0m0 0h0m0-1h0m1 5h0m0-1h0m0 1h0m0-3h0m0-1h0m1 0h0m0 3h0m0 1h0m1 0h0m0-5h0m0 0h0m1 0h0m0 1h0m0 3h0m0-1h0m0-1h0m0-2h0m1 2h0m0 0h0m0-1h0m0 4h0m0-1h0m0-3h0m0-1h0m0 0h0m1 4h0m0-4h0m0 0h0m0 4h0m0-4h0m0 4h0m1-2h0m0 3h0m0-5h0m0 4h0m0-1h0m1 1h0m0-2h0m0-1h0m1-1h0m0 2h0m0-1h0m0-1h0m0 2h0m0 1h0m0-3h0m1 3h0m0 2h0m0-5h0m0 4h0m1 0h0m0 1h0m0-5h0m0 5h0m0-3h0m0 2h0m0 0h0m1 0h0m0-2h0m0 2h0m0-3h0m0 0h0m0-1h0m0 0h0m0 0h0m1 2h0m1-1h0m1 4h0m0-3h0m1-1h0m0 4h0m0-5h0m1 2h0m0 3h0m0-4h0m0 4h0m1-1h0m0 1h0m1-3h0m0-2h0m1 1h0m0 0h0m0 2h0m0 1h0m0 1h0m0 0h0m0-2h0m0-1h0m1 1h0m0 2h0m0-3h0m0-2h0m1 3h0m0 1h0m1 1h0m0-4h0m0 2h0m0-3h0m1 5h0m0-5h0m0 4h0m1 1h0m0-2h0m0 2h0m1-1h0m0-3h0m1 0h0m0 4h0m0-1h0m0-4h0m0 1h0m1 3h0m0 1h0m1-4h0m0 3h0m0-1h0m0 2h0m1-3h0m0 2h0m0-1h0m1-1h0m0 2h0m1-2h0m0 3h0m1-5h0m1 3h0m1-2h0m0 4h0m1 0h0m9-4h0m1 4h0m9 0h0m5-1h0m-76 5h0m2-1h0m2-1h0m4 1h0m1 1h0m2 1h0m1-1h0m0 1h0m1 0h0m0 0h0m0 0h0m1-3h0m0 3h0m1-4h0m0 4h0m0-3h0m1 2h0m0-2h0m0 0h0m1-1h0m0 3h0m1-2h0m1-1h0m0 2h0m1 3h0m0-2h0m0-3h0m0 5h0m0-2h0m1 1h0m0-2h0m0-2h0m0 3h0m0 2h0m0-5h0m0 2h0m0 0h0m0 3h0m1-1h0m0 1h0m0-2h0m0-3h0m0 4h0m0 0h0m0-3h0m1-1h0m0 5h0m0-5h0m1 4h0m1-3h0m0 3h0m0 0h0m1-3h0m1 4h0m0 0h0m0-4h0m0 1h0m0 1h0m0 1h0m1-4h0m0 4h0m1-2h0m0 1h0m0-1h0m0 2h0m0-1h0m0 2h0m1-2h0m0-2h0m0 3h0m1-1h0m0-3h0m0 5h0m0-3h0m0 3h0m1-4h0m0 2h0m0-2h0m0-1h0m0 0h0m0 3h0m0 1h0m1 0h0m0-2h0m1 0h0m0 1h0m0-1h0m1 1h0m0 0h0m1-3h0m0 1h0m0-1h0m0 1h0m1 0h0m0-1h0m0 5h0m1-2h0m0-2h0m0 4h0m0-2h0m1 0h0m0-3h0m0 4h0m0 0h0m0-2h0m2 2h0m0 0h0m0 1h0m0-5h0m0 0h0m1 0h0m0 2h0m1 2h0m0-3h0m0-1h0m1 4h0m0-4h0m1 0h0m0 5h0m1-5h0m0 1h0m0 3h0m2-1h0m0-3h0m0 4h0m0 0h0m0-1h0m1-1h0m0-1h0m0-1h0m0 4h0m0-4h0m1 2h0m0 1h0m1-2h0m1 1h0m1 0h0m1 3h0m0-1h0m4 0h0m1 1h0m1-2h0m1 2h0m1-2h0m0-1h0m0 0h0m12-1h0m2 1h0m-68 6h0m1 0h0m0 1h0m1 2h0m1-3h0m1 0h0m2 2h0m0-3h0m1-1h0m0 4h0m1-4h0m1 0h0m0 0h0m0 3h0m1-1h0m1-1h0m0 3h0m0-1h0m1-3h0m0 4h0m0-2h0m1 1h0m0-3h0m1 5h0m0 0h0m1 0h0m0-4h0m1 3h0m0 0h0m1-4h0m0 1h0m1 0h0m1 4h0m0-5h0m0 4h0m1-4h0m0 2h0m0-1h0m0-1h0m0 4h0m1-2h0m0-1h0m0 2h0m0 0h0m0-2h0m1-1h0m0 5h0m0-5h0m0 1h0m1 2h0m0-3h0m1 2h0m0 1h0m1-3h0m0 1h0m0 4h0m0-1h0m0 1h0m0-5h0m0 3h0m1 0h0m0-1h0m0 2h0m0 0h0m0 0h0m0-1h0m0 2h0m1-4h0m0-1h0m0 0h0m1 3h0m0-2h0m0 1h0m0 2h0m0-4h0m1 2h0m0-1h0m0-1h0m1 2h0m0-1h0m0 2h0m0 0h0m0-1h0m0 1h0m0-1h0m0-2h0m0 3h0m1-1h0m0 0h0m0 1h0m0 0h0m0-3h0m0 2h0m1 3h0m1-2h0m0 0h0m0 0h0m1 0h0m1-3h0m0 2h0m1 0h0m0-2h0m0 2h0m1 1h0m0 2h0m0-2h0m1-3h0m0 5h0m0-1h0m0 1h0m0-2h0m0 0h0m0 0h0m1 2h0m0-4h0m1-1h0m0 3h0m0-1h0m0-2h0m0 5h0m1 0h0m0-4h0m1 1h0m0-2h0m0 4h0m1-1h0m1 1h0m1-2h0m1 3h0m0-4h0m0 4h0m1-1h0m0-2h0m0 0h0m1 3h0m1-3h0m0 1h0m1-2h0m2 0h0m0 4h0m1-3h0m0 3h0m0-2h0m1-3h0m1 5h0m1-2h0m0 1h0m9-1h0m5-3h0m4 5h0m-75 2h0m3 4h0m5-1h0m1-1h0m2 1h0m1-3h0m0 2h0m1-1h0m1 1h0m3 2h0m0-4h0m1 0h0m1 1h0m0 0h0m0-1h0m0 1h0m0-1h0m0-1h0m1 1h0m2 3h0m0-1h0m1-3h0m0 4h0m2-1h0m0-1h0m0 2h0m0-4h0m0 2h0m1 0h0m0 3h0m0-5h0m0 3h0m0-3h0m0 4h0m0-1h0m1-2h0m0 4h0m0-5h0m0 0h0m0 2h0m1 3h0m1-3h0m0 0h0m0 0h0m0-2h0m1 4h0m0-3h0m0 3h0m0-4h0m0 3h0m1-3h0m0 1h0m0 1h0m0-1h0m0-1h0m1 1h0m0-1h0m0 5h0m0-3h0m0-1h0m2 4h0m0-1h0m0-2h0m0 1h0m0-3h0m1 5h0m0-3h0m0-2h0m0 0h0m0 4h0m0-3h0m0 4h0m0-2h0m2 1h0m0-4h0m0 1h0m0 0h0m1 3h0m0 1h0m0-5h0m0 5h0m1-5h0m0 3h0m0-2h0m1-1h0m0 4h0m1-4h0m0 4h0m0-1h0m0-1h0m0 0h0m1-2h0m0 2h0m0-1h0m0 4h0m1-3h0m0 0h0m0 2h0m1-1h0m0 1h0m0-3h0m0 1h0m1 3h0m0-1h0m1-4h0m1 5h0m0-3h0m1-1h0m0 2h0m0-3h0m0 0h0m0 4h0m2-1h0m1-3h0m1 0h0m0 2h0m0-2h0m1 5h0m0-3h0m1 3h0m1-3h0m0 0h0m3 2h0m3-3h0m0 3h0m3-2h0m0 0h0m2-1h0m2 2h0m1 2h0m3-5h0m2 5h0m10 0h0m3-4h0m12 3h0m-86 3h0m3 3h0m2-2h0m0 2h0m0-3h0m0 0h0m2-1h0m0 3h0m0 2h0m0-2h0m2 1h0m0 0h0m0-3h0m1 2h0m0 1h0m2-2h0m1-1h0m0 2h0m0 1h0m0 1h0m0-1h0m1-2h0m0-2h0m1 3h0m0 2h0m1-3h0m0-2h0m1 3h0m1 2h0m1-2h0m0 0h0m0-1h0m0 0h0m1 2h0m0 0h0m0-1h0m1-2h0m0-1h0m0 0h0m0 0h0m1 2h0m0-2h0m0 4h0m0-1h0m1 0h0m0 1h0m0-4h0m0 0h0m1 4h0m0-2h0m1 1h0m0 0h0m0 1h0m0-2h0m0-2h0m1 4h0m0 0h0m0 0h0m0-1h0m1-3h0m0 5h0m0-2h0m0-2h0m0 2h0m1 0h0m0 1h0m0-3h0m0 2h0m0-2h0m0 2h0m0 0h0m1 0h0m0 0h0m0-1h0m0-2h0m1 3h0m0-3h0m0 1h0m1 4h0m0-2h0m0 2h0m0-1h0m1-3h0m0 1h0m0 2h0m0-1h0m1 2h0m1 0h0m0-1h0m1-3h0m0 1h0m0-2h0m0 2h0m1-1h0m0 2h0m0 2h0m0-1h0m0 0h0m1 0h0m0-3h0m0 0h0m0 2h0m1 2h0m0-4h0m0 3h0m1-3h0m0 4h0m1-5h0m0 5h0m1-5h0m0 5h0m1-3h0m0 3h0m0-3h0m0-1h0m0 1h0m1-1h0m1 0h0m0 1h0m0 2h0m0 0h0m1 1h0m0-5h0m1 0h0m0 3h0m0-2h0m0 3h0m1 1h0m0-3h0m1-1h0m0 4h0m0-1h0m0 1h0m1-1h0m1 0h0m0-3h0m1-1h0m0 0h0m1 2h0m6 1h0m0 2h0m3-3h0m0 1h0m3-1h0m3 2h0m3-1h0m1 2h0m11-2h0m-76 4h0m2 2h0m1 0h0m0-2h0m1-1h0m1 2h0m1-2h0m1 1h0m1 2h0m0-1h0m1-1h0m0-1h0m1 1h0m0 2h0m0-1h0m1 0h0m1 1h0m0-3h0m0 2h0m1-2h0m0 5h0m0-5h0m1 1h0m1 4h0m0 0h0m0-1h0m0 0h0m0 0h0m0-3h0m1 2h0m0-2h0m1-1h0m0 4h0m0-3h0m0-1h0m0 2h0m0 0h0m1-2h0m0 3h0m0 0h0m0-3h0m0 3h0m0-3h0m0 4h0m0-3h0m0-1h0m1 4h0m0 1h0m1-5h0m0 2h0m0-2h0m0 5h0m0-5h0m0 4h0m1-4h0m0 5h0m0-3h0m0 1h0m0 0h0m0-1h0m1 2h0m1-3h0m0 2h0m0 2h0m0 0h0m1-2h0m0 1h0m0 0h0m0-2h0m0 0h0m0 0h0m1 3h0m0-5h0m1 4h0m0-2h0m0-1h0m0 0h0m0 4h0m1-1h0m0-4h0m0 5h0m0-5h0m1 3h0m0 1h0m0 1h0m0 0h0m1-4h0m0 0h0m0 3h0m0-4h0m1 4h0m0-3h0m0 1h0m0 0h0m0 1h0m0-1h0m0 0h0m0-2h0m1 5h0m0-2h0m0-1h0m0 0h0m0-2h0m1 0h0m1 5h0m0-5h0m1 1h0m0 0h0m0 3h0m1-1h0m1 0h0m0 1h0m0-3h0m1 4h0m0-5h0m0 2h0m0 3h0m0-2h0m0-1h0m1 0h0m0 0h0m0-2h0m2 5h0m1-4h0m0 2h0m0-2h0m1 2h0m1 0h0m0-3h0m1 2h0m0-2h0m0 3h0m1 1h0m0-1h0m0 2h0m0-2h0m0 2h0m1-5h0m0 1h0m0 2h0m1 2h0m0-5h0m0 4h0m1 0h0m0 1h0m0-3h0m0-1h0m0 1h0m2-2h0m1 3h0m3-3h0m0 5h0m1 0h0m0 0h0m0-2h0m1 0h0m3 2h0m1 0h0m0-1h0m3-1h0m2 1h0m4-1h0m0 1h0m9-1h0m2-1h0m2-2h0m-91 6h0m11 1h0m0 3h0m0 0h0m2-4h0m1 4h0m0-1h0m4 2h0m1-2h0m1 1h0m1 1h0m3-5h0m0 4h0m0-3h0m0 2h0m1-3h0m1 5h0m0 0h0m0-3h0m0 3h0m1 0h0m1 0h0m0-5h0m0 4h0m0-2h0m0 0h0m1 2h0m0-3h0m1 0h0m0 2h0m0-3h0m1 3h0m0 1h0m0-3h0m2 0h0m0 4h0m0-5h0m0 4h0m1 1h0m0-1h0m1-2h0m0-2h0m0 1h0m0-1h0m0 4h0m1 1h0m1-2h0m0 2h0m1-3h0m0 1h0m1 2h0m0-1h0m0-3h0m0 3h0m0-4h0m3 2h0m1 2h0m0-3h0m2 0h0m0-1h0m0 4h0m0-2h0m1-1h0m0-1h0m0 3h0m0 2h0m1-5h0m0 0h0m0 5h0m1-5h0m0 2h0m0 1h0m1-2h0m0 1h0m0-1h0m1 1h0m0 2h0m0-3h0m2 2h0m1 0h0m0-3h0m1 2h0m1 0h0m0 1h0m2-1h0m0 1h0m1 0h0m0 2h0m0-1h0m2-1h0m0 1h0m1 1h0m1-2h0m2 0h0m1 0h0m1-1h0m1 1h0m0 2h0m0-4h0m1-1h0m0 5h0m0-3h0m1-2h0m1 4h0m2-2h0m0 1h0m4-3h0m1 0h0m1 0h0m8 5h0m0-2h0m-79 4h0m8 1h0m0-2h0m1 5h0m1-4h0m1 4h0m1-3h0m0 2h0m0 1h0m1-5h0m1 1h0m3 2h0m0-3h0m0 2h0m1 3h0m0-5h0m0 0h0m0 1h0m1 1h0m2 3h0m0-5h0m1 2h0m1 3h0m0-1h0m0-2h0m0 3h0m0-1h0m1-2h0m0-2h0m1 0h0m1 5h0m0-5h0m0 2h0m0-2h0m0 2h0m1-2h0m0 1h0m0 0h0m0 0h0m0 1h0m0 2h0m1-4h0m0 3h0m0-2h0m0 1h0m1 1h0m0-1h0m0 0h0m1-1h0m0 1h0m0 3h0m0-4h0m1 2h0m1-2h0m0 2h0m0-2h0m0 3h0m1-1h0m0 1h0m1-1h0m0 0h0m0 0h0m0-1h0m1 3h0m0 0h0m0-5h0m0 5h0m1-1h0m0 1h0m0-3h0m1-1h0m0 4h0m0-1h0m0-3h0m0 4h0m1-2h0m0-2h0m0 3h0m1-1h0m0 1h0m1-3h0m0 1h0m1 1h0m0-2h0m0 0h0m0 2h0m0-1h0m1-2h0m0 4h0m1 0h0m0-3h0m0 0h0m1 0h0m0 3h0m1 0h0m1-2h0m0 3h0m0-3h0m0-2h0m0 0h0m1 2h0m0 1h0m1-1h0m1 0h0m0 0h0m1-2h0m3 1h0m2 0h0m0 1h0m0 0h0m1-2h0m0 3h0m1-3h0m0 4h0m0-4h0m1 3h0m1-2h0m0 2h0m1 2h0m0-1h0m1 0h0m0-4h0m0 1h0m0 2h0m2-3h0m1 4h0m1-2h0m1 2h0m2-3h0m4 3h0m1-2h0m2 3h0m5-1h0m4-4h0m7 5h0m-82 6h0m5 0h0m1-5h0m0 3h0m3 2h0m1-1h0m3-4h0m0 5h0m0-2h0m1 2h0m1-1h0m0-3h0m1 2h0m0-2h0m1 3h0m1-4h0m1 0h0m0 1h0m0 3h0m1 0h0m0-2h0m1 0h0m1-1h0m0 2h0m0-3h0m1 4h0m0-4h0m0 1h0m1-1h0m0 2h0m0-1h0m1 0h0m0 0h0m0 2h0m0-3h0m1 1h0m1 3h0m0-2h0m0 3h0m0-4h0m0 0h0m0 0h0m1 3h0m1-4h0m1 0h0m1 5h0m0-4h0m1 4h0m0-5h0m0 2h0m2 2h0m1-4h0m0 1h0m1 2h0m0 2h0m1-4h0m0 3h0m1-1h0m0-1h0m0 0h0m0 3h0m0-3h0m1 0h0m0 3h0m0-2h0m1-3h0m0 0h0m0 0h0m1 1h0m1 1h0m0-1h0m0 2h0m0 0h0m1 2h0m1-2h0m1-3h0m0 3h0m2-3h0m0 3h0m0-2h0m1-1h0m0 0h0m0 3h0m0 1h0m1-2h0m0 1h0m1-1h0m0 2h0m1-4h0m0 0h0m1 0h0m0 4h0m1 0h0m1 1h0m0-1h0m1 0h0m2-4h0m0 4h0m0-2h0m1 0h0m0 3h0m1-4h0m0 2h0m2-1h0m1 1h0m2-1h0m0 3h0m1-4h0m2 3h0m3-3h0m1 3h0m3-1h0m7 1h0m23-2h0m-104 8h0m10-1h0m3 1h0m1-4h0m2 0h0m1 0h0m1 5h0m1-5h0m1 0h0m0 1h0m2 0h0m1 1h0m0-2h0m1 0h0m1 0h0m0 4h0m0-3h0m0 1h0m1 1h0m1 0h0m1-3h0m0 5h0m0 0h0m0-3h0m1-1h0m1 0h0m0 0h0m1 2h0m2 2h0m0-3h0m1 0h0m0-2h0m0 0h0m1 4h0m0-2h0m1 3h0m0 0h0m1-1h0m0-4h0m0 2h0m0-1h0m0 4h0m1-3h0m0-2h0m0 2h0m0-2h0m0 3h0m0 1h0m1-3h0m0 3h0m1-1h0m0 0h0m0-1h0m1 0h0m0 1h0m0 2h0m1-1h0m0-2h0m0-2h0m1 1h0m0-1h0m1 0h0m1 2h0m0-2h0m0 4h0m0-1h0m1-1h0m0 1h0m0 0h0m2 0h0m0-2h0m0 4h0m0-5h0m0 2h0m1-2h0m0 3h0m0-2h0m0 2h0m1 2h0m0-5h0m1 5h0m0 0h0m1-1h0m1-1h0m0-3h0m0 1h0m1 1h0m0 3h0m0-1h0m0-3h0m1 4h0m1-4h0m1 3h0m1-2h0m1 2h0m0-1h0m1-1h0m1 3h0m3-1h0m0-2h0m1 3h0m0-2h0m2-1h0m2 3h0m1 0h0m0 0h0m2-1h0m10-4h0m18 2h0m-85 5h0m2-1h0m0 5h0m2-4h0m0 1h0m1 1h0m3-3h0m1 0h0m1 2h0m0-2h0m1 2h0m1 2h0m1-3h0m2 0h0m1-1h0m1 1h0m0 0h0m1-1h0m0 2h0m1-1h0m1 1h0m1 3h0m0-1h0m0-2h0m1-1h0m1 0h0m0-1h0m1 0h0m0 1h0m2 3h0m2-2h0m0-2h0m0 5h0m0-5h0m0 1h0m1 2h0m0 0h0m1-3h0m0 5h0m1-2h0m1-2h0m0 0h0m1 4h0m0-5h0m0 0h0m0 2h0m0 3h0m0-1h0m1-2h0m0-1h0m1 0h0m0 1h0m1-1h0m0 3h0m0-1h0m1 2h0m1-5h0m0 0h0m1 3h0m0 0h0m2 2h0m0 0h0m0-2h0m2 0h0m0-2h0m0-1h0m0 1h0m1 2h0m0 1h0m0 1h0m1 0h0m0-1h0m0-2h0m0-2h0m1 0h0m0 5h0m0-5h0m0 0h0m1 3h0m1 2h0m0-1h0m1-4h0m0 0h0m0 1h0m1-1h0m0 3h0m0-3h0m0 0h0m2 2h0m0 3h0m2-1h0m2-4h0m0 2h0m2 3h0m0-3h0m0 0h0m1-2h0m0 5h0m1 0h0m0-2h0m1-2h0m3 4h0m0-5h0m2 3h0m1 2h0m2-1h0m3-1h0m0-3h0m10 5h0m0-3h0m3 1h0m20 0h0m-107 4h0m6 1h0m8 0h0m1-2h0m0 0h0m2 0h0m1 0h0m1 0h0m0 4h0m1 1h0m0-1h0m1-1h0m0-1h0m1 1h0m0-2h0m1 2h0m1 0h0m0-2h0m0 0h0m1 1h0m0 1h0m0-1h0m0 3h0m0-5h0m0 2h0m1 1h0m0 0h0m1 2h0m0 0h0m0-4h0m0 3h0m2-2h0m0 3h0m1-2h0m0-2h0m0 1h0m0-1h0m1-1h0m0 1h0m0 1h0m0 1h0m0 0h0m2-1h0m0 3h0m1 0h0m0-4h0m1 4h0m0-1h0m0 0h0m1-2h0m0 1h0m0-3h0m2 1h0m0 2h0m0 1h0m0 1h0m0 0h0m1-3h0m2-1h0m0 0h0m0 0h0m1 3h0m0-2h0m1 1h0m2-2h0m0 2h0m1 2h0m0-1h0m1 0h0m0-1h0m0-2h0m0-1h0m1 5h0m0-2h0m1 2h0m0-5h0m0 0h0m0 3h0m1-2h0m0 0h0m0 4h0m1 0h0m0-2h0m2-3h0m0 4h0m0 1h0m3-3h0m0 0h0m1-2h0m1 1h0m1 2h0m0 2h0m1 0h0m1-2h0m0-1h0m0-1h0m2 4h0m0 0h0m1-5h0m2 0h0m2 4h0m1-4h0m1 5h0m1 0h0m4-1h0m2-1h0m4-3h0m0 4h0m0-3h0m2 3h0m6 0h0m6-1h0m-78 5h0m3-2h0m1 3h0m3 0h0m3-1h0m0 2h0m2-3h0m2-1h0m1 0h0m0 0h0m0 0h0m0 0h0m1 4h0m1-1h0m0 2h0m1-3h0m0-1h0m1 4h0m2 0h0m0-4h0m0 0h0m0 4h0m0-2h0m3-1h0m0 0h0m0 0h0m1 2h0m1-3h0m0 1h0m0-1h0m1 3h0m1 0h0m0-2h0m1 0h0m1 1h0m0-1h0m1 2h0m1-3h0m0 3h0m0 0h0m1-2h0m0-1h0m0 0h0m1 0h0m1 4h0m1 0h0m0 0h0m0 0h0m0-2h0m1 2h0m0-4h0m0 3h0m0-3h0m1 1h0m2-2h0m0 1h0m1 1h0m1-1h0m0-1h0m1 1h0m2 0h0m0 1h0m1 0h0m1 1h0m2 0h0m1 1h0m2-1h0m0 2h0m1-5h0m2 4h0m1-2h0m0-2h0m1 5h0m2 0h0m0-1h0m1-3h0m0 1h0m0 0h0m4 1h0m1 1h0m1-4h0m20 4h0m34-4h0m-116 10h0m2 1h0m5-1h0m0-1h0m1-2h0m2 1h0m1 1h0m1-3h0m0 4h0m1-2h0m0 0h0m1 2h0m1 0h0m0-4h0m0 4h0m2 0h0m0-4h0m1 0h0m0 1h0m0 2h0m2 0h0m1 0h0m0 1h0m0-3h0m1 0h0m0 2h0m0 0h0m1-2h0m1 4h0m2 0h0m0 0h0m0 0h0m1 0h0m0-3h0m0-2h0m1 0h0m1 4h0m1-4h0m0 2h0m1 3h0m1 0h0m0-4h0m0-1h0m3 0h0m0 5h0m1-1h0m0-1h0m0 1h0m0-3h0m1 1h0m1-2h0m1 3h0m0 0h0m0 0h0m1 2h0m1-1h0m0-4h0m3 2h0m1-2h0m0 5h0m1-5h0m2 5h0m0-2h0m0-2h0m2 0h0m1 0h0m0 2h0m0 2h0m1-2h0m1-3h0m0 3h0m2 0h0m1 0h0m2-1h0m2 3h0m2 0h0m0-1h0m0 0h0m2-2h0m1-1h0m5 4h0m2 0h0m0-5h0m0 3h0m1 2h0m14-1h0m0-2h0m24 2h0m-112 2h0m3 1h0m5-1h0m3 0h0m0 5h0m0-5h0m1 3h0m1 2h0m1-4h0m7 2h0m0-3h0m1 2h0m0 1h0m2-3h0m2 5h0m3-2h0m1-2h0m3 3h0m0-1h0m1-3h0m0 2h0m0-1h0m1 0h0m1-1h0m0 3h0m0 2h0m0-2h0m3-3h0m3 1h0m0 4h0m1-2h0m1-2h0m0 0h0m0 3h0m0-4h0m1 3h0m1 1h0m1 0h0m1-1h0m0 2h0m1-3h0m2 0h0m1-2h0m0 1h0m1 3h0m0 0h0m3-3h0m0 3h0m1 0h0m0 1h0m2-1h0m2-3h0m2 1h0m0-2h0m1 0h0m3 2h0m4-1h0m7 2h0m1-1h0m0 2h0m1-3h0m6 4h0m7-4h0m7 4h0m-93 1h0m1 1h0m3 0h0m0 4h0m0-5h0m9 3h0m1-1h0m2-2h0m0 1h0m1 2h0m3-3h0m1 2h0m0-1h0m1-1h0m1 3h0m0 1h0m0-3h0m0 3h0m1-2h0m0-2h0m0 2h0m2 0h0m0-1h0m3 2h0m1-3h0m1 4h0m0 1h0m0-5h0m0 3h0m1 0h0m5-2h0m1 2h0m1-1h0m1-2h0m2 3h0m1-2h0m2 0h0m0 1h0m0 0h0m1 3h0m0-1h0m0-3h0m3 0h0m1 3h0m0-1h0m2 2h0m2-1h0m0-1h0m0-3h0m0 2h0m1 3h0m0 0h0m1-3h0m3 3h0m1-1h0m0-3h0m1 1h0m1 1h0m0-2h0m1 4h0m1-5h0m6 0h0m2 4h0m3 1h0m0-2h0m1-3h0m1 5h0m2-2h0m6 2h0m5 0h0m6 0h0m7-1h0m-107 7h0m5 0h0m6-3h0m7-2h0m1 1h0m0 2h0m3-3h0m0 5h0m0-1h0m0-1h0m1-2h0m2 3h0m0-4h0m2 1h0m3-1h0m1 1h0m1 1h0m5 3h0m0-2h0m0 0h0m1 2h0m1-5h0m1 2h0m0 0h0m3 1h0m0-1h0m4-2h0m0 1h0m0 2h0m2-1h0m3 0h0m0 3h0m1 0h0m1-5h0m0 0h0m0 1h0m1 2h0m1 0h0m1-1h0m0-1h0m0 2h0m0 2h0m0 0h0m1-2h0m2 2h0m1-1h0m4 1h0m2-3h0m0-1h0m1 0h0m0 4h0m1-2h0m1-1h0m1 0h0m2-1h0m2-1h0m1 1h0m1 0h0m0 3h0m2 0h0m1-2h0m1 3h0m0-3h0m1-2h0m2 2h0m6 3h0m8 0h0m-80 1h0m4 2h0m2 0h0m3 2h0m2-1h0m3-2h0m0 3h0m2-4h0m0 2h0m0 3h0m5-1h0m1-2h0m1 1h0m0-3h0m1 3h0m3 2h0m1-4h0m2 4h0m1-1h0m0-4h0m2 1h0m0 2h0m0 1h0m2-1h0m0-3h0m1 2h0m0-1h0m0 4h0m1-5h0m1 4h0m0-1h0m1-3h0m4 3h0m1-1h0m1-1h0m0 4h0m2-2h0m0-3h0m1 4h0m2-2h0m3 1h0m1 1h0m1-3h0m0-1h0m2 5h0m1 0h0m1-3h0m6 1h0m1 0h0m1 1h0m3-4h0m0 0h0m1 5h0m1-4h0m1 3h0m3 0h0m2 0h0m0-4h0m2 0h0m2 5h0m-85 6h0m6-1h0m0-1h0m1-2h0m2 1h0m2 0h0m6-1h0m1 2h0m2 0h0m0 1h0m1 1h0m0-4h0m0-1h0m1 4h0m3 0h0m0-1h0m1-2h0m1-1h0m1 1h0m1-1h0m1 5h0m0-5h0m0 2h0m1-2h0m0 1h0m1 4h0m1-1h0m3 0h0m1-1h0m0-1h0m1 1h0m1-2h0m0 4h0m0-5h0m1 2h0m6-2h0m0 2h0m1 3h0m2-5h0m0 1h0m2 1h0m0 1h0m5 0h0m0-2h0m2 1h0m2 2h0m0-2h0m3 3h0m1-1h0m1 1h0m0-4h0m1 4h0m4-2h0m0 2h0m1-2h0m5 2h0m2-1h0m4-1h0m5 2h0m5 0h0m17-2h0m-109 3h0m0 0h0m3 4h0m3-4h0m12 0h0m1 0h0m4 4h0m2 1h0m0 0h0m3-5h0m0 5h0m0-4h0m2 3h0m1 0h0m0-1h0m1-3h0m1 3h0m2-2h0m1 1h0m3 3h0m2-1h0m2-3h0m1 3h0m1 0h0m0-3h0m1-1h0m1 1h0m3 4h0m0-1h0m1 1h0m1-1h0m0 0h0m7-3h0m1 0h0m3 2h0m3 1h0m1-3h0m2 2h0m11 0h0m3-3h0m0 4h0m3 0h0m0 1h0m22-3h0m0-1h0m1-1h0m10 0h0m-100 8h0m10 3h0m1-5h0m1 4h0m0-2h0m0 3h0m6-5h0m1 5h0m0-3h0m0 0h0m1 1h0m0-1h0m1-2h0m1 4h0m1-2h0m2-1h0m0 1h0m1 2h0m0-1h0m0-3h0m2 3h0m1-2h0m0-1h0m3 5h0m0-5h0m3 2h0m0-2h0m1 0h0m0 2h0m0-2h0m3 0h0m0 1h0m4-1h0m0 3h0m1 0h0m2 2h0m0-3h0m11 0h0m2 0h0m5 1h0m0 0h0m1 0h0m1 0h0m3-1h0m0 2h0m2 0h0m1-3h0m2 2h0m5 2h0m1 0h0m1 0h0m10-4h0m6 3h0m-93 7h0m4-4h0m1 0h0m0-1h0m0 0h0m2 4h0m4-3h0m6 0h0m0 2h0m0 2h0m3-4h0m2 4h0m2-1h0m7 1h0m2-4h0m0 0h0m0-1h0m1 5h0m3 0h0m1-3h0m1 0h0m0 2h0m7-4h0m1 3h0m1 2h0m0-4h0m1 4h0m4-5h0m0 1h0m2 1h0m7-2h0m1 0h0m4 5h0m0-2h0m1 2h0m0-1h0m1 1h0m1 0h0m0-4h0m6 2h0m1-1h0m2-2h0m9 0h0m6 5h0m11-2h0m12 1h0m18-3h0m-193 7h0m47-2h0m15 0h0m8 1h0m2 1h0m4-1h0m0 4h0m2-4h0m1 0h0m0 3h0m1-2h0m8 1h0m0-1h0m1 1h0m0 2h0m2-4h0m1 4h0m1-5h0m0 2h0m4 0h0m7-1h0m1 2h0m2 1h0m3 1h0m0-2h0m1 2h0m10 0h0m2 0h0m2-4h0m12 0h0m3 4h0m0-1h0m5-3h0m6 3h0m19-4h0m3 3h0m3-1h0m4-1h0m-97 10h0m1-3h0m5 0h0m2-2h0m8 1h0m1-1h0m5 4h0m1-2h0m0-2h0m5 2h0m3 2h0m1-1h0m2 2h0m1-4h0m9 3h0m0 0h0m2 1h0m7-4h0m3 4h0m1-5h0m2 5h0m1-3h0m0 1h0m2-3h0m0 3h0m11 2h0m0-1h0m3 1h0m2-5h0m20 4h0m-110 3h0m0 2h0m11 0h0m7-1h0m3 2h0m4-3h0m1 4h0m1-4h0m1 0h0m8 3h0m9-3h0m13 1h0m0 0h0m2 3h0m1-2h0m1-1h0m0 0h0m4 3h0m3-1h0m0-2h0m1 3h0m1-5h0m2 5h0m0-5h0m1 4h0m1-4h0m2 5h0m2-1h0m9-2h0m2 3h0m2-3h0m1 3h0m-74 5h0m8-1h0m1 2h0m7-3h0m10 0h0m0 3h0m7-4h0m7 0h0m3-1h0m1 1h0m7 4h0m2-1h0m6 0h0m0-2h0m2 0h0m6 3h0m3-1h0m3-2h0m12-2h0m2 5h0m1 0h0m1-4h0m7 2h0m5-1h0m-86 6h0m2 2h0m2 1h0m1-3h0m5 0h0m4-1h0m4-1h0m7 4h0m4-1h0m2-3h0m1 4h0m3 1h0m1-5h0m2 4h0m0-2h0m2 3h0m5-5h0m3 1h0m12 0h0m0-1h0m5 0h0m7 3h0m11 0h0m9 2h0m-84 2h0m6 3h0m3-3h0m11 4h0m8-4h0m2 2h0m3-2h0m5 2h0m6 2h0m1-2h0m9-1h0m5 3h0m2-2h0m3 2h0m4-2h0m7 1h0m15-1h0m-77 6h0m6 0h0m3-3h0m6 4h0m10-4h0m1 1h0m1 1h0m1-2h0m8 4h0m1 0h0m5-3h0m7 0h0m1 4h0m1-3h0m17 0h0m5 3h0m-115 3h0m45 2h0m8-3h0m2 0h0m10 2h0m10-1h0m2 1h0m6 0h0m2-2h0m1 2h0m4-2h0m2 1h0m4 1h0m17-3h0m18 3h0m-91 6h0m13-2h0m7 2h0m9 2h0m1-5h0m7 5h0m12 0h0m3-5h0m6 2h0m10 2h0m21-3h0m-50 6h0m28 2h0m9-1h0m-40 4h0m4 5h0m2-1h0m4 1h0m7-4h0m5-1h0m29 4h0m-65 3h0m33 2h0m2 2h0m14-5h0m1 2h0m4 1h0m-52 6h0m14-1h0m36 0h0m7 0h0m16-2h0m-9 15h0m-9 3h0m31 19h0m-1 5h0m24 4h0m-17 11h0m23 1h0m-12 9h0m45-1h0m-2 17h0m4-2h0m24 13h0m-10 6h0m-17 4h0"/><path id="pBlue2" d="M-6-52h0m-16 8h0m5 1h0m1-5h0m-10 11h0m0-2h0m2-1h0m4 2h0m5 0h0m0-2h0m1 3h0m5-2h0m0 0h0m1-1h0m20-2h0m-34 8h0m0 3h0m0-2h0m1-1h0m5 1h0m0 2h0m0 0h0m1-4h0m0 1h0m0 1h0m0-3h0m0 4h0m2-1h0m1 2h0m0 0h0m1-4h0m1 1h0m0 1h0m0 0h0m1-1h0m1 1h0m0-2h0m1 3h0m0-2h0m0 1h0m1-1h0m0 0h0m3 3h0m0 0h0m1-1h0m1 1h0m1-2h0m1-2h0m4 3h0m0-1h0m4 0h0m4-1h0m10 0h0m1 2h0m-62 7h0m4-1h0m2-2h0m7 2h0m0-3h0m2 4h0m1-4h0m2 3h0m0 1h0m1-4h0m0-1h0m0 1h0m1 2h0m0 0h0m0 2h0m0 0h0m0-4h0m0 2h0m0-1h0m1 0h0m0 1h0m0 2h0m1-1h0m0 1h0m0-2h0m1-1h0m0 0h0m0 1h0m0 0h0m1 2h0m0-4h0m0 1h0m0 2h0m1-2h0m0 3h0m0-4h0m1 2h0m1 2h0m1-4h0m0 3h0m0 1h0m1 0h0m0-1h0m0-3h0m1 3h0m0-1h0m0 0h0m1 0h0m0-2h0m0 1h0m0 2h0m0-2h0m1 0h0m0 0h0m0 1h0m1-1h0m0 0h0m0-1h0m0-1h0m0 4h0m1-3h0m0 4h0m0-1h0m0-4h0m0 4h0m1-3h0m0 4h0m1-1h0m0-2h0m1 2h0m1 1h0m0-5h0m1 0h0m1 3h0m0-1h0m1 1h0m0 2h0m1-3h0m0 1h0m0 0h0m1-1h0m0 1h0m0 0h0m2 0h0m0-1h0m4 2h0m0-1h0m1 0h0m4 2h0m-49 5h0m3 1h0m0-3h0m0-2h0m0 1h0m2 4h0m0-5h0m2 0h0m0 4h0m1-1h0m2 2h0m1-5h0m1 0h0m0 3h0m0-1h0m1 1h0m0-3h0m0 2h0m1-1h0m0 1h0m1 1h0m0 2h0m1-4h0m0 4h0m0-4h0m2 3h0m0-4h0m1 5h0m0-4h0m1 3h0m0-3h0m0 2h0m0-3h0m1 4h0m0-4h0m1 4h0m0-1h0m0 0h0m0 1h0m0-4h0m0 0h0m1 4h0m0-2h0m0 3h0m0-2h0m0-2h0m0 2h0m1 0h0m0-1h0m1 3h0m0 0h0m0-5h0m1 5h0m0 0h0m0-1h0m0 1h0m0 0h0m0 0h0m1-1h0m0 0h0m0 1h0m0 0h0m0 0h0m0-2h0m0 1h0m0-1h0m0 0h0m1 0h0m0-1h0m0 0h0m1 2h0m0 0h0m0-4h0m1 5h0m0-1h0m0-2h0m0 0h0m1 1h0m0 1h0m0-4h0m0 3h0m1 2h0m0 0h0m0 0h0m0-1h0m0-2h0m1-1h0m0 1h0m0 2h0m0-4h0m1 5h0m0-5h0m0 5h0m0 0h0m0-5h0m1 1h0m0-1h0m0 0h0m0 3h0m0-1h0m0 3h0m1-5h0m0 5h0m0 0h0m0-1h0m0-1h0m0-1h0m0 3h0m1 0h0m1-4h0m0 0h0m0 4h0m0-5h0m1 4h0m0 1h0m1-2h0m0 2h0m0-5h0m0 0h0m0 0h0m1 5h0m1-2h0m0 0h0m1-1h0m1 2h0m2-2h0m2 2h0m1-4h0m0 5h0m1-1h0m3 0h0m1 0h0m2-3h0m2 4h0m2-1h0m2 0h0m7 0h0m-63 2h0m2 2h0m0-2h0m0 5h0m1-2h0m0-3h0m0 2h0m0 2h0m0-4h0m1 0h0m0 1h0m1-1h0m2 3h0m0 2h0m0-1h0m1-3h0m0 3h0m1-1h0m0 0h0m0-3h0m0 1h0m1 2h0m0 0h0m1-2h0m1 0h0m0 1h0m0 1h0m0 1h0m1-4h0m0 3h0m0-1h0m1-1h0m0-1h0m0 0h0m0 4h0m0-3h0m0 4h0m0 0h0m1-3h0m1 2h0m0-4h0m0 0h0m0 4h0m0-2h0m0 0h0m0 3h0m0-2h0m1 1h0m0-4h0m0 4h0m0-3h0m0 3h0m1-3h0m0 2h0m0 0h0m0-3h0m0 5h0m0-2h0m1-2h0m0 4h0m0-5h0m0 0h0m0 3h0m1 2h0m0-4h0m0 3h0m0-3h0m0 3h0m0-2h0m0 2h0m0-2h0m0 2h0m1-4h0m0 2h0m0 2h0m0-1h0m0-1h0m0 2h0m0-1h0m0-3h0m0 0h0m1 3h0m0-1h0m0 2h0m0 0h0m0-4h0m0 3h0m1 1h0m0-2h0m0 2h0m0 0h0m0 0h0m0-1h0m1-3h0m0 0h0m0 1h0m0 0h0m0 0h0m0 1h0m0 3h0m0-3h0m0 2h0m0 0h0m0-3h0m0-1h0m0 5h0m1-3h0m0-2h0m0 5h0m1-2h0m0-2h0m0-1h0m0 3h0m0 2h0m0 0h0m0 0h0m0-5h0m1 3h0m0 0h0m0 1h0m0-2h0m0-1h0m0 3h0m0-4h0m0 1h0m1 4h0m0-3h0m0 2h0m0-1h0m0-1h0m0 3h0m0-4h0m0-1h0m0 2h0m1 3h0m0-4h0m0 4h0m0 0h0m0-1h0m0-2h0m0-2h0m0 4h0m0-1h0m0-3h0m1 0h0m0 4h0m0-1h0m0-2h0m0 1h0m0 3h0m0-2h0m1 2h0m0 0h0m0 0h0m0 0h0m0-1h0m0-2h0m0 3h0m0-4h0m0 0h0m0 3h0m0-3h0m0 1h0m1 2h0m0-4h0m0 5h0m1-4h0m0-1h0m0 1h0m0-1h0m0 4h0m0-1h0m0 0h0m0-1h0m0-2h0m0 1h0m1 3h0m0 0h0m0-1h0m0 0h0m0 2h0m0-2h0m0 1h0m0-3h0m1 3h0m0 1h0m0-3h0m0-1h0m1 3h0m0-3h0m0 1h0m0 1h0m1 2h0m0-5h0m0 2h0m0 1h0m0 1h0m0-1h0m0-3h0m0 1h0m1 4h0m0-1h0m0-4h0m0 0h0m1 0h0m0 4h0m1 0h0m0-3h0m0-1h0m0 4h0m1-4h0m0 4h0m0 1h0m0-3h0m1 2h0m1-2h0m0 0h0m2 3h0m0-3h0m0 1h0m0 0h0m1-3h0m0 0h0m0 1h0m0 2h0m1 2h0m0-2h0m0-1h0m0-2h0m2 5h0m1-2h0m9 2h0m-58 3h0m1 1h0m2 0h0m0-2h0m1 3h0m2-1h0m1-1h0m0-2h0m1 0h0m0 2h0m1 2h0m0-2h0m0 0h0m0 1h0m1-1h0m0 0h0m0 0h0m0 1h0m1 1h0m0-3h0m0 0h0m0 2h0m0-2h0m0 3h0m1-2h0m0-2h0m0 5h0m0-3h0m0 3h0m1-3h0m0-2h0m1 4h0m0-3h0m0 3h0m0-1h0m1-3h0m0 0h0m0 3h0m0 1h0m0-3h0m0 3h0m1 0h0m0-2h0m0-1h0m0 0h0m0 2h0m0-1h0m0-2h0m1 2h0m0-2h0m0 4h0m1 1h0m0-5h0m0 4h0m0 0h0m0-3h0m0 3h0m1 1h0m0-4h0m0 1h0m0 1h0m0-1h0m1 2h0m0-4h0m0 3h0m0-1h0m0 1h0m0 0h0m0-1h0m0 1h0m1 0h0m0 1h0m0-1h0m0 2h0m0-5h0m0 2h0m0 3h0m1-3h0m0-1h0m0-1h0m0 1h0m0 0h0m0 2h0m0-1h0m1 1h0m0-1h0m0 1h0m0 0h0m0-1h0m0-2h0m0 4h0m0-2h0m0 0h0m0 3h0m0-4h0m0-1h0m0 4h0m1 0h0m0-1h0m0 1h0m0-4h0m0 1h0m0 4h0m0-1h0m0-1h0m0-2h0m0 3h0m1-2h0m0-2h0m0 3h0m0 2h0m0 0h0m0-2h0m0-1h0m0 3h0m0 0h0m1-5h0m0 0h0m0 3h0m0 2h0m0 0h0m0 0h0m0 0h0m0-3h0m0-1h0m0 0h0m1 0h0m0 0h0m0 1h0m0 0h0m0 1h0m0-3h0m1 4h0m0-2h0m0 2h0m0 0h0m0 1h0m0-1h0m0-1h0m0 0h0m0-3h0m0 1h0m0 2h0m0 2h0m0-5h0m0 1h0m0 1h0m1 2h0m0 0h0m0-1h0m0 0h0m0-3h0m0 2h0m0-1h0m0 4h0m0-2h0m0 1h0m0-4h0m0 3h0m1-2h0m0 3h0m0 0h0m0-1h0m0-1h0m0-1h0m0 2h0m0 1h0m0-1h0m1 1h0m0-3h0m0-1h0m0 5h0m0-2h0m0 0h0m0-1h0m0 0h0m1-1h0m0 3h0m0-2h0m0-1h0m0-1h0m0 1h0m0 1h0m0-1h0m1 4h0m0-2h0m0 1h0m0-4h0m0 4h0m0-4h0m0 4h0m0 1h0m1-1h0m0-4h0m0 5h0m0 0h0m0-3h0m0 1h0m0 2h0m0 0h0m0-2h0m0-2h0m1 4h0m0 0h0m0-2h0m0-2h0m0 3h0m0-2h0m1 0h0m0 0h0m0 3h0m0-5h0m0 0h0m0 4h0m0-2h0m0 1h0m0-3h0m0 3h0m1-2h0m0 4h0m0-1h0m0-3h0m0 4h0m1 0h0m0-3h0m0 0h0m0 0h0m0-1h0m0 3h0m0-4h0m0 5h0m0-3h0m0 3h0m0-2h0m0 2h0m1-3h0m0 1h0m0-2h0m1 2h0m0 1h0m0 0h0m0-3h0m0 2h0m0 0h0m1-2h0m0 4h0m0-5h0m0 0h0m0 4h0m0-3h0m0 3h0m0 1h0m1-4h0m0 3h0m0 1h0m1-4h0m2 3h0m0 1h0m1-3h0m1 0h0m0 2h0m1-1h0m1-2h0m2 0h0m0 4h0m0-5h0m4 4h0m0 1h0m35-5h0m-99 10h0m11-2h0m5 0h0m1-1h0m0 3h0m1-4h0m3 3h0m1-3h0m0 0h0m0 2h0m0-1h0m1-1h0m0 3h0m0 1h0m1-2h0m0-1h0m0 3h0m2-3h0m0-1h0m0 0h0m0 0h0m0 4h0m0-2h0m0 3h0m0-3h0m1-2h0m0 0h0m0 1h0m0 2h0m0-1h0m0 0h0m0 1h0m0-1h0m1 0h0m0 0h0m0 0h0m0 3h0m1-2h0m0 1h0m0-2h0m1-1h0m0 2h0m0 1h0m0-3h0m0 1h0m0-1h0m0-1h0m0 0h0m0 5h0m1-3h0m0 1h0m0-1h0m0 3h0m0-4h0m0 0h0m0 0h0m1 1h0m0 0h0m0-2h0m0 2h0m0 1h0m0-2h0m0-1h0m0 2h0m1 0h0m0-2h0m0 2h0m0 1h0m0-2h0m0 1h0m0-2h0m0 2h0m0-2h0m1 0h0m0 2h0m0 3h0m0-4h0m0-1h0m0 5h0m1 0h0m0-1h0m0-4h0m0 0h0m1 0h0m0 0h0m0 2h0m0-2h0m0 5h0m0-3h0m0 0h0m0 3h0m0-4h0m0 3h0m0-3h0m1 4h0m0 0h0m0-5h0m0 0h0m0 3h0m0-3h0m0 2h0m1 0h0m0 2h0m0-4h0m0 1h0m0 1h0m0 1h0m0 2h0m0-3h0m0-2h0m0 1h0m0 4h0m0-1h0m0-1h0m0 1h0m0-4h0m0 4h0m1-3h0m0 2h0m0-3h0m0 2h0m0-1h0m0 2h0m0 0h0m0-1h0m0 2h0m0 1h0m0-1h0m0-1h0m0-2h0m0 0h0m1 3h0m0-1h0m0 2h0m0-5h0m0 0h0m0 5h0m0 0h0m0-4h0m0 4h0m0 0h0m1-4h0m0-1h0m0 3h0m0 2h0m0-1h0m0 0h0m0-2h0m0 1h0m0-3h0m0 3h0m0 2h0m0-3h0m0 3h0m0-2h0m1 1h0m0-4h0m0 5h0m0-2h0m0-2h0m0 3h0m1-2h0m0 1h0m0 0h0m0-3h0m0 1h0m1 4h0m0-4h0m0 2h0m0-1h0m0 0h0m1-1h0m0 2h0m0-1h0m0 1h0m0-3h0m0 3h0m0 1h0m0 1h0m0-1h0m0-2h0m1 0h0m0 2h0m0 0h0m0-1h0m0 2h0m0-3h0m1-1h0m0 2h0m0-2h0m0-1h0m0 2h0m0-2h0m1 3h0m0-1h0m0 0h0m0-1h0m0 0h0m0 2h0m0-2h0m0 0h0m1 2h0m0-2h0m0 3h0m0-2h0m1 1h0m0 2h0m0-1h0m0-2h0m0 1h0m0 1h0m0-2h0m1 2h0m0-1h0m1-1h0m0-1h0m0 4h0m0-3h0m0-1h0m1-1h0m0 4h0m0-2h0m0 3h0m1-4h0m0 2h0m0 0h0m1 0h0m0-2h0m0-1h0m1 4h0m0 1h0m0-1h0m0-3h0m1 3h0m0-1h0m0 0h0m0 1h0m0 1h0m0 0h0m0-3h0m1 1h0m1 0h0m0 1h0m0-4h0m0 2h0m1 0h0m2 2h0m0 0h0m0-1h0m1 1h0m2 1h0m3 0h0m3-5h0m-55 7h0m0 4h0m3-4h0m2 1h0m0 0h0m1-1h0m1-1h0m1 3h0m0-3h0m3 1h0m0 1h0m0-1h0m0 3h0m0-3h0m1 4h0m0-2h0m0 0h0m0-1h0m0-2h0m1 2h0m1-2h0m0 0h0m1 1h0m0-1h0m0 4h0m0 1h0m0-2h0m1-1h0m0 0h0m0-1h0m0 3h0m0-4h0m1 3h0m0 1h0m0-3h0m1 4h0m1-1h0m0-2h0m0 0h0m0-2h0m0 5h0m1-2h0m0 0h0m0 1h0m1-3h0m0 3h0m0-4h0m1 2h0m0 1h0m0 1h0m0 1h0m0-4h0m0 4h0m1-5h0m0 2h0m0 3h0m0-2h0m0-3h0m0 2h0m0-2h0m0 4h0m0 0h0m1-1h0m0 1h0m0-4h0m0 5h0m0-4h0m0 1h0m0 2h0m0-1h0m0-2h0m0 2h0m1-2h0m0 2h0m0 1h0m1-3h0m0 2h0m0 1h0m0-2h0m0 2h0m0-3h0m1 4h0m0-3h0m0 0h0m0-2h0m1 1h0m0 2h0m0 2h0m0 0h0m1 0h0m0-4h0m0 4h0m0-1h0m0-3h0m0 1h0m0 1h0m0 0h0m1 1h0m0-3h0m0 2h0m0-2h0m0 0h0m0 1h0m1 1h0m0-3h0m0 1h0m0 3h0m0-4h0m0 1h0m0 0h0m0 2h0m1 0h0m0-2h0m0 2h0m0 2h0m0-4h0m1 2h0m0-2h0m0 0h0m0-1h0m0 0h0m0 0h0m0 4h0m0-2h0m0 0h0m1 2h0m0 0h0m0-4h0m0 4h0m1 1h0m0-5h0m0 1h0m1 1h0m0 3h0m0-3h0m0 2h0m0-2h0m1 2h0m0-3h0m0-1h0m1 2h0m0-1h0m0 1h0m0-1h0m0 3h0m0-1h0m0 2h0m0-2h0m1-2h0m0 2h0m0-3h0m1 3h0m1 1h0m1-4h0m0 1h0m0 2h0m0 2h0m1-1h0m0-3h0m0 2h0m1-2h0m0 3h0m1-2h0m0 1h0m2 0h0m2 1h0m0-4h0m1 0h0m1 4h0m-49 7h0m8-5h0m1 0h0m2 1h0m1 2h0m0 1h0m0-4h0m0 1h0m1 0h0m0-1h0m1 4h0m0 1h0m1-4h0m0 1h0m0 0h0m0 2h0m1-1h0m0 0h0m1 0h0m2-3h0m0 1h0m0 2h0m0-1h0m1-2h0m0 3h0m1 1h0m0 0h0m0-4h0m1 3h0m0 2h0m0-4h0m0 0h0m1 2h0m0 0h0m0-1h0m0 3h0m1-3h0m0 0h0m0-2h0m0 0h0m0 0h0m1 2h0m1-1h0m0 2h0m0 0h0m0 1h0m0-1h0m1 0h0m1-3h0m0 3h0m1-2h0m0 2h0m0 1h0m0-1h0m0 1h0m0-4h0m0 4h0m0-2h0m1 0h0m0 0h0m0 1h0m0-3h0m0 4h0m0-2h0m1-2h0m0 4h0m0-3h0m0-1h0m0 0h0m0 0h0m1 0h0m0 4h0m0-3h0m1 2h0m1 1h0m0 0h0m1-1h0m0-2h0m0 2h0m0 2h0m0-3h0m1-2h0m1 4h0m0 1h0m0 0h0m0-3h0m0-2h0m0 3h0m3 1h0m1 1h0m0-4h0m1-1h0m0 5h0m0-4h0m1 2h0m0 1h0m1-2h0m0-1h0m2 0h0m0 1h0m2 2h0m5-2h0m-44 7h0m1 0h0m2-3h0m2 4h0m1 0h0m3-4h0m1 0h0m1 2h0m0-2h0m2 0h0m2 2h0m0-1h0m0 1h0m1 3h0m0-2h0m1-3h0m0 2h0m1 3h0m0-5h0m2 2h0m0 3h0m1 0h0m0-3h0m0 2h0m1-3h0m0-1h0m0 2h0m1 3h0m0-3h0m1 1h0m0 1h0m0 0h0m1-4h0m0 2h0m1 3h0m0-2h0m0 1h0m0 0h0m1-2h0m0 0h0m1 0h0m1-2h0m0 3h0m1-2h0m0 0h0m1 3h0m0-4h0m1 0h0m0 3h0m0-3h0m1 4h0m0-3h0m0 0h0m1 3h0m1-4h0m0 0h0m1 2h0m0 2h0m2-2h0m2 1h0m1-2h0m0-1h0m1 3h0m-42 3h0m12 2h0m0-2h0m2 1h0m2 2h0m1-3h0m2 5h0m1-5h0m0 1h0m1 2h0m4 2h0m3-3h0m0 0h0m0-2h0m2 2h0m0 2h0m1-1h0m0-3h0m3 2h0m4 0h0m-24 6h0m1-2h0m4 1h0m3 0h0m3 3h0m4-3h0m3 4h0m0-1h0m3 1h0m0-3h0m3 2h0m12-3h0m-28 6h0m17-1h0m9 0h0m3 1h0m-15 7h0"/></defs><text stroke="#231f20" stroke-width="1.0" x="0.13" y="53.40" font-family="Liberation Sans, sans-serif" font-weight="bold" font-size="39" fill="#231f20" textLength="20.23" lengthAdjust="spacingAndGlyphs" >a</text><text stroke="#231f20" stroke-width="1.0" x="928.02" y="29.10" font-family="Liberation Sans, sans-serif" font-weight="bold" font-size="38.5" fill="#231f20" textLength="26.67" lengthAdjust="spacingAndGlyphs" >b</text><text stroke="#231f20" stroke-width="1.0" x="-0.16" y="282.35" font-family="Liberation Sans, sans-serif" font-weight="bold" font-size="39" fill="#231f20" textLength="22.76" lengthAdjust="spacingAndGlyphs" >c</text><text stroke="#231f20" stroke-width="1.0" x="-0.28" y="709.00" font-family="Liberation Sans, sans-serif" font-weight="bold" font-size="38.5" fill="#231f20" textLength="25.65" lengthAdjust="spacingAndGlyphs" >d</text><text stroke="#231f20" stroke-width="1.0" x="-0.24" y="1253.20" font-family="Liberation Sans, sans-serif" font-weight="bold" font-size="39" fill="#231f20" textLength="23.91" lengthAdjust="spacingAndGlyphs" >e</text><text stroke="#231f20" stroke-width="1.0" x="-0.23" y="1553.30" font-family="Liberation Sans, sans-serif" font-weight="bold" font-size="38.5" fill="#231f20" textLength="14.25" lengthAdjust="spacingAndGlyphs" >f</text><text stroke="#231f20" stroke-width="1.0" x="707.08" y="1551.80" font-family="Liberation Sans, sans-serif" font-weight="bold" font-size="39" fill="#231f20" textLength="27.08" lengthAdjust="spacingAndGlyphs" >g</text><rect x="220.00" y="205.80" width="425.00" height="6.80" fill="#d1d2d4" /><text transform="translate(219.24,207.43) scale(0.6730,0.0706)" x="0" y="0" font-family="Liberation Sans, sans-serif" font-weight="bold" font-size="100" fill="#5570b5">C</text><text transform="translate(220.37,210.00) scale(0.6558,0.0654)" x="0" y="0" font-family="Liberation Sans, sans-serif" font-weight="bold" font-size="100" fill="#4ab552">A</text><text transform="translate(267.14,207.00) scale(0.7642,0.0799)" x="0" y="0" font-family="Liberation Sans, sans-serif" font-weight="bold" font-size="100" fill="#cb2026">T</text><text transform="translate(266.33,210.00) scale(0.6707,0.0654)" x="0" y="0" font-family="Liberation Sans, sans-serif" font-weight="bold" font-size="100" fill="#4ab552">A</text><text transform="translate(312.18,210.44) scale(0.6883,0.0636)" x="0" y="0" font-family="Liberation Sans, sans-serif" font-weight="bold" font-size="100" fill="#5570b5">C</text><text transform="translate(359.33,209.94) scale(0.6520,0.0636)" x="0" y="0" font-family="Liberation Sans, sans-serif" font-weight="bold" font-size="100" fill="#cfcd2a">G</text><text transform="translate(405.26,207.94) scale(0.6669,0.0565)" x="0" y="0" font-family="Liberation Sans, sans-serif" font-weight="bold" font-size="100" fill="#cfcd2a">G</text><text transform="translate(406.33,210.00) scale(0.6707,0.0581)" x="0" y="0" font-family="Liberation Sans, sans-serif" font-weight="bold" font-size="100" fill="#4ab552">A</text><text transform="translate(547.12,209.80) scale(0.7812,0.0480)" x="0" y="0" font-family="Liberation Sans, sans-serif" font-weight="bold" font-size="100" fill="#e0666b">T</text><text transform="translate(218.20,201.29) scale(0.6817,1.4449)" x="0" y="0" font-family="Liberation Sans, sans-serif" font-weight="bold" font-size="100" fill="#cfcd2a">G</text><text transform="translate(264.43,201.46) scale(0.6995,1.2740)" x="0" y="0" font-family="Liberation Sans, sans-serif" font-weight="bold" font-size="100" fill="#cfcd2a">G</text><text transform="translate(312.75,208.00) scale(0.7020,1.7210)" x="0" y="0" font-family="Liberation Sans, sans-serif" font-weight="bold" font-size="100" fill="#3fb54a">A</text><text transform="translate(358.65,205.40) scale(0.6959,0.1059)" x="0" y="0" font-family="Liberation Sans, sans-serif" font-weight="bold" font-size="100" fill="#33479b">C</text><text transform="translate(359.29,198.50) scale(0.6856,1.0422)" x="0" y="0" font-family="Liberation Sans, sans-serif" font-weight="bold" font-size="100" fill="#3fb54a">A</text><text transform="translate(406.10,204.00) scale(0.7981,1.4477)" x="0" y="0" font-family="Liberation Sans, sans-serif" font-weight="bold" font-size="100" fill="#cb2026">T</text><text transform="translate(453.10,209.50) scale(0.7981,1.8285)" x="0" y="0" font-family="Liberation Sans, sans-serif" font-weight="bold" font-size="100" fill="#cb2026">T</text><text transform="translate(500.12,183.00) scale(0.7880,0.5552)" x="0" y="0" font-family="Liberation Sans, sans-serif" font-weight="bold" font-size="100" fill="#cb2026">T</text><text transform="translate(497.99,208.94) scale(0.7097,0.3644)" x="0" y="0" font-family="Liberation Sans, sans-serif" font-weight="bold" font-size="100" fill="#33479b">C</text><text transform="translate(544.44,206.20) scale(0.7219,1.6384)" x="0" y="0" font-family="Liberation Sans, sans-serif" font-weight="bold" font-size="100" fill="#33479b">C</text><text transform="translate(591.73,206.16) scale(0.6990,1.6779)" x="0" y="0" font-family="Liberation Sans, sans-serif" font-weight="bold" font-size="100" fill="#33479b">C</text><line x1="220.30" y1="77.50" x2="220.30" y2="213.00" stroke="#555" stroke-width="1.2" /><text x="368.67" y="291.80" font-family="Liberation Sans, sans-serif" font-weight="normal" font-size="28" fill="#231f20" textLength="139.04" lengthAdjust="spacingAndGlyphs" >SPR (<tspan font-style="italic">t</tspan><tspan font-size="20.7" dy="7">1/2</tspan><tspan dy="-7"> (s))</tspan></text><rect x="72.00" y="312.90" width="779.50" height="4.40" fill="#231f20" /><rect x="72.00" y="419.00" width="779.50" height="4.40" fill="#231f20" /><rect x="73.00" y="566.30" width="779.30" height="4.20" fill="#231f20" /><text x="162.76" y="377.80" font-family="Liberation Sans, sans-serif" font-weight="normal" font-size="28" fill="#231f20" textLength="54.99" lengthAdjust="spacingAndGlyphs" >DNA</text><text x="368.92" y="363.60" font-family="Liberation Sans, sans-serif" font-weight="normal" font-size="28" fill="#231f20" textLength="52.09" lengthAdjust="spacingAndGlyphs" >Rel–</text><text x="375.77" y="394.40" font-family="Liberation Sans, sans-serif" font-weight="normal" font-size="28" fill="#231f20" textLength="40.85" lengthAdjust="spacingAndGlyphs" >Rel</text><text x="544.89" y="363.60" font-family="Liberation Sans, sans-serif" font-weight="normal" font-size="28" fill="#231f20" textLength="70.12" lengthAdjust="spacingAndGlyphs" >RelA–</text><text x="551.89" y="394.20" font-family="Liberation Sans, sans-serif" font-weight="normal" font-size="28" fill="#231f20" textLength="55.66" lengthAdjust="spacingAndGlyphs" >RelA</text><text x="741.20" y="358.50" font-family="Liberation Sans, sans-serif" font-weight="normal" font-size="28" fill="#231f20" textLength="55.45" lengthAdjust="spacingAndGlyphs" >RelA</text><text x="734.25" y="386.50" font-family="Liberation Sans, sans-serif" font-weight="normal" font-size="28" fill="#231f20" textLength="70.50" lengthAdjust="spacingAndGlyphs" >(C46)</text><text x="77.59" y="478.00" font-family="DejaVu Sans Mono, monospace" font-weight="bold" font-size="40.2" fill="#d9262f" textLength="242.98" lengthAdjust="spacingAndGlyphs" >GGGGGGAGAT</text><text x="78.30" y="547.00" font-family="DejaVu Sans Mono, monospace" font-weight="bold" font-size="40.2" fill="#6fb33f" textLength="242.27" lengthAdjust="spacingAndGlyphs" >GGGGGTTTTT</text><text x="373.17" y="470.30" font-family="Liberation Sans, sans-serif" font-weight="normal" font-size="28" fill="#231f20" textLength="53.48" lengthAdjust="spacingAndGlyphs" >4 ±1</text><text x="552.56" y="470.30" font-family="Liberation Sans, sans-serif" font-weight="normal" font-size="28" fill="#231f20" textLength="54.00" lengthAdjust="spacingAndGlyphs" >4 ±1</text><text x="746.68" y="470.30" font-family="Liberation Sans, sans-serif" font-weight="normal" font-size="28" fill="#231f20" textLength="58.90" lengthAdjust="spacingAndGlyphs" >8 ±5</text><text x="360.97" y="542.00" font-family="Liberation Sans, sans-serif" font-weight="normal" font-size="28" fill="#231f20" textLength="78.28" lengthAdjust="spacingAndGlyphs" >58 ±11</text><text x="552.30" y="542.00" font-family="Liberation Sans, sans-serif" font-weight="normal" font-size="28" fill="#231f20" textLength="53.04" lengthAdjust="spacingAndGlyphs" >7 ±1</text><text x="732.00" y="542.00" font-family="Liberation Sans, sans-serif" font-weight="normal" font-size="28" fill="#231f20" textLength="74.31" lengthAdjust="spacingAndGlyphs" >28 ±6</text><rect x="263.30" y="1268.30" width="209.00" height="7.80" fill="#be1e2d" /><rect x="483.40" y="1270.30" width="209.40" height="5.80" fill="#e0232b" /><rect x="722.40" y="1270.30" width="208.80" height="5.80" fill="#e0232b" /><rect x="985.90" y="1271.30" width="208.90" height="5.80" fill="#e0232b" /><rect x="1252.70" y="1271.30" width="188.10" height="5.80" fill="#e0232b" /><text x="352.39" y="1256.50" font-family="Liberation Sans, sans-serif" font-weight="normal" font-size="23" fill="#c4262e" textLength="41.07" lengthAdjust="spacingAndGlyphs" >κB1</text><text x="567.68" y="1256.50" font-family="Liberation Sans, sans-serif" font-weight="normal" font-size="23" fill="#c4262e" textLength="46.47" lengthAdjust="spacingAndGlyphs" >κB2</text><text x="817.16" y="1256.50" font-family="Liberation Sans, sans-serif" font-weight="normal" font-size="23" fill="#c4262e" textLength="46.93" lengthAdjust="spacingAndGlyphs" >κB3</text><text x="1049.82" y="1256.50" font-family="Liberation Sans, sans-serif" font-weight="normal" font-size="23" fill="#c4262e" textLength="64.55" lengthAdjust="spacingAndGlyphs" >(κB4)</text><text x="1307.18" y="1256.50" font-family="Liberation Sans, sans-serif" font-weight="normal" font-size="23" fill="#c4262e" textLength="78.20" lengthAdjust="spacingAndGlyphs" >C/EBP</text><text x="82.36" y="1322.70" font-family="Liberation Sans, sans-serif" font-weight="normal" font-size="28" fill="#231f20" textLength="82.06" lengthAdjust="spacingAndGlyphs" >Mouse</text><text x="87.34" y="1415.30" font-family="Liberation Sans, sans-serif" font-weight="normal" font-size="28" fill="#231f20" textLength="88.96" lengthAdjust="spacingAndGlyphs" >Human</text><text x="179.90" y="1324.40" font-family="DejaVu Sans Mono, monospace" font-weight="bold" font-size="36.2" fill="#231f20" textLength="1484.72" lengthAdjust="spacingAndGlyphs">GGAGGAACTTCTTAAAATTCCCCCAGAAT<tspan fill="#6fb33f">GTTTT</tspan>GACACTA<tspan fill="#6fb33f">GTTTT</tspan>CAGTGTTGCAATTGAGACTAG</text><text x="181.41" y="1416.30" font-family="DejaVu Sans Mono, monospace" font-weight="bold" font-size="36.2" fill="#231f20" textLength="1263.12" lengthAdjust="spacingAndGlyphs">AAAGGAACTTCTTGAAATTCCCCCAGAAG<tspan fill="#6fb33f">GTTTT</tspan>GAGAGTT<tspan fill="#6fb33f">GTTTT</tspan>CAATGTTGCAA</text><text x="1575.35" y="1416.30" font-family="DejaVu Sans Mono, monospace" font-weight="bold" font-size="36.2" fill="#231f20" textLength="88.64" lengthAdjust="spacingAndGlyphs">CAAG</text><text transform="translate(1435.89,1416.3) scale(1.68,1.1)" x="0" y="0" font-family="DejaVu Sans Mono, monospace" font-weight="bold" font-size="36.2" fill="#231f20">-</text><text transform="translate(1458.05,1416.3) scale(1.68,1.1)" x="0" y="0" font-family="DejaVu Sans Mono, monospace" font-weight="bold" font-size="36.2" fill="#231f20">-</text><text transform="translate(1480.21,1416.3) scale(1.68,1.1)" x="0" y="0" font-family="DejaVu Sans Mono, monospace" font-weight="bold" font-size="36.2" fill="#231f20">-</text><text transform="translate(1502.37,1416.3) scale(1.68,1.1)" x="0" y="0" font-family="DejaVu Sans Mono, monospace" font-weight="bold" font-size="36.2" fill="#231f20">-</text><text transform="translate(1524.53,1416.3) scale(1.68,1.1)" x="0" y="0" font-family="DejaVu Sans Mono, monospace" font-weight="bold" font-size="36.2" fill="#231f20">-</text><text transform="translate(1546.69,1416.3) scale(1.68,1.1)" x="0" y="0" font-family="DejaVu Sans Mono, monospace" font-weight="bold" font-size="36.2" fill="#231f20">-</text><text x="226.32" y="1378.20" font-family="DejaVu Sans Mono, monospace" font-weight="bold" font-size="44" fill="#231f20" textLength="243.76" lengthAdjust="spacingAndGlyphs">***********</text><text x="492.24" y="1378.20" font-family="DejaVu Sans Mono, monospace" font-weight="bold" font-size="44" fill="#231f20" textLength="310.24" lengthAdjust="spacingAndGlyphs">**************</text><text x="824.64" y="1378.20" font-family="DejaVu Sans Mono, monospace" font-weight="bold" font-size="44" fill="#231f20" textLength="155.12" lengthAdjust="spacingAndGlyphs">*******</text><text x="1001.92" y="1378.20" font-family="DejaVu Sans Mono, monospace" font-weight="bold" font-size="44" fill="#231f20" textLength="22.16" lengthAdjust="spacingAndGlyphs">*</text><text x="1046.24" y="1378.20" font-family="DejaVu Sans Mono, monospace" font-weight="bold" font-size="44" fill="#231f20" textLength="22.16" lengthAdjust="spacingAndGlyphs">*</text><text x="1090.56" y="1378.20" font-family="DejaVu Sans Mono, monospace" font-weight="bold" font-size="44" fill="#231f20" textLength="155.12" lengthAdjust="spacingAndGlyphs">*******</text><text x="1267.84" y="1378.20" font-family="DejaVu Sans Mono, monospace" font-weight="bold" font-size="44" fill="#231f20" textLength="177.28" lengthAdjust="spacingAndGlyphs">********</text><text x="1578.08" y="1378.20" font-family="DejaVu Sans Mono, monospace" font-weight="bold" font-size="44" fill="#231f20" textLength="22.16" lengthAdjust="spacingAndGlyphs">*</text><text x="1622.40" y="1378.20" font-family="DejaVu Sans Mono, monospace" font-weight="bold" font-size="44" fill="#231f20" textLength="44.32" lengthAdjust="spacingAndGlyphs">**</text><text x="312.86" y="1462.90" font-family="DejaVu Sans Mono, monospace" font-weight="bold" font-size="36.2" fill="#d8c42a" textLength="22.16" lengthAdjust="spacingAndGlyphs">G</text><text x="358.69" y="1462.90" font-family="DejaVu Sans Mono, monospace" font-weight="bold" font-size="36.2" fill="#d8c42a" textLength="22.16" lengthAdjust="spacingAndGlyphs">A</text><text x="403.01" y="1462.90" font-family="DejaVu Sans Mono, monospace" font-weight="bold" font-size="36.2" fill="#d8c42a" textLength="22.16" lengthAdjust="spacingAndGlyphs">A</text><text x="602.45" y="1462.90" font-family="DejaVu Sans Mono, monospace" font-weight="bold" font-size="36.2" fill="#d8c42a" textLength="66.48" lengthAdjust="spacingAndGlyphs">AAA</text><text x="823.02" y="1462.90" font-family="DejaVu Sans Mono, monospace" font-weight="bold" font-size="36.2" fill="#d8c42a" textLength="155.12" lengthAdjust="spacingAndGlyphs">TGGGGTC</text><text x="1685.90" y="1319.70" font-family="Liberation Sans, sans-serif" font-weight="normal" font-size="27" fill="#231f20" textLength="41.48" lengthAdjust="spacingAndGlyphs" >–78</text><text x="1685.10" y="1410.90" font-family="Liberation Sans, sans-serif" font-weight="normal" font-size="27" fill="#231f20" textLength="44.66" lengthAdjust="spacingAndGlyphs" >–68</text><text x="1118.84" y="1692.40" font-family="Liberation Sans, sans-serif" font-weight="normal" font-size="28" fill="#231f20" textLength="142.00" lengthAdjust="spacingAndGlyphs" >SPR (<tspan font-style="italic">t</tspan><tspan font-size="20.7" dy="7">1/2</tspan><tspan dy="-7"> (s))</tspan></text><rect x="721.70" y="1711.20" width="935.00" height="4.00" fill="#231f20" /><rect x="721.70" y="1814.40" width="935.00" height="4.00" fill="#231f20" /><rect x="721.50" y="2014.10" width="935.20" height="4.20" fill="#231f20" /><text x="754.37" y="1777.00" font-family="Liberation Sans, sans-serif" font-weight="normal" font-size="28" fill="#231f20" textLength="64.08" lengthAdjust="spacingAndGlyphs" >Motif</text><text x="953.21" y="1777.00" font-family="Liberation Sans, sans-serif" font-weight="normal" font-size="28" fill="#231f20" textLength="53.84" lengthAdjust="spacingAndGlyphs" >DNA</text><text x="1176.94" y="1758.70" font-family="Liberation Sans, sans-serif" font-weight="normal" font-size="28" fill="#231f20" textLength="58.57" lengthAdjust="spacingAndGlyphs" >Rel –</text><text x="1187.08" y="1790.30" font-family="Liberation Sans, sans-serif" font-weight="normal" font-size="28" fill="#231f20" textLength="40.63" lengthAdjust="spacingAndGlyphs" >Rel</text><text x="1343.46" y="1759.40" font-family="Liberation Sans, sans-serif" font-weight="normal" font-size="28" fill="#231f20" textLength="78.35" lengthAdjust="spacingAndGlyphs" >RelA –</text><text x="1354.71" y="1790.20" font-family="Liberation Sans, sans-serif" font-weight="normal" font-size="28" fill="#231f20" textLength="55.14" lengthAdjust="spacingAndGlyphs" >RelA</text><text x="1543.79" y="1763.50" font-family="Liberation Sans, sans-serif" font-weight="normal" font-size="28" fill="#231f20" textLength="55.86" lengthAdjust="spacingAndGlyphs" >RelA</text><text x="1537.24" y="1791.20" font-family="Liberation Sans, sans-serif" font-weight="normal" font-size="28" fill="#231f20" textLength="70.92" lengthAdjust="spacingAndGlyphs" >(C46)</text><text x="766.25" y="1870.00" font-family="Liberation Sans, sans-serif" font-weight="normal" font-size="27" fill="#231f20" textLength="42.14" lengthAdjust="spacingAndGlyphs" >κB1</text><text x="866.80" y="1877.50" font-family="DejaVu Sans Mono, monospace" font-weight="bold" font-size="40.2" fill="#6fb33f" textLength="242.17" lengthAdjust="spacingAndGlyphs" >GGAACTTCTT</text><text x="1171.04" y="1870.00" font-family="Liberation Sans, sans-serif" font-weight="normal" font-size="27" fill="#231f20" textLength="70.81" lengthAdjust="spacingAndGlyphs" >17 ±3</text><text x="1341.69" y="1870.00" font-family="Liberation Sans, sans-serif" font-weight="normal" font-size="27" fill="#231f20" textLength="83.12" lengthAdjust="spacingAndGlyphs" >2 ±0.3</text><text x="1552.02" y="1870.00" font-family="Liberation Sans, sans-serif" font-weight="normal" font-size="27" fill="#231f20" textLength="52.30" lengthAdjust="spacingAndGlyphs" >7 ±1</text><text x="764.22" y="1925.00" font-family="Liberation Sans, sans-serif" font-weight="normal" font-size="27" fill="#231f20" textLength="45.40" lengthAdjust="spacingAndGlyphs" >κB2</text><text x="866.80" y="1932.50" font-family="DejaVu Sans Mono, monospace" font-weight="bold" font-size="40.2" fill="#6fb33f" textLength="242.17" lengthAdjust="spacingAndGlyphs" >GGGGAATTTT</text><text x="1165.82" y="1925.00" font-family="Liberation Sans, sans-serif" font-weight="normal" font-size="27" fill="#231f20" textLength="82.95" lengthAdjust="spacingAndGlyphs" >85 ±17</text><text x="1356.47" y="1925.00" font-family="Liberation Sans, sans-serif" font-weight="normal" font-size="27" fill="#231f20" textLength="54.71" lengthAdjust="spacingAndGlyphs" >6 ±1</text><text x="1541.54" y="1925.00" font-family="Liberation Sans, sans-serif" font-weight="normal" font-size="27" fill="#231f20" textLength="72.82" lengthAdjust="spacingAndGlyphs" >51 ±11</text><text x="764.20" y="1980.00" font-family="Liberation Sans, sans-serif" font-weight="normal" font-size="27" fill="#231f20" textLength="45.97" lengthAdjust="spacingAndGlyphs" >κB3</text><text x="868.46" y="1987.50" font-family="DejaVu Sans Mono, monospace" font-weight="bold" font-size="40.2" fill="#6fb33f" textLength="240.50" lengthAdjust="spacingAndGlyphs" >AGAATGTTTT</text><text x="1177.85" y="1980.00" font-family="Liberation Sans, sans-serif" font-weight="normal" font-size="27" fill="#231f20" textLength="58.46" lengthAdjust="spacingAndGlyphs" >3 ±2</text><text x="1314.44" y="1980.00" font-family="Liberation Sans, sans-serif" font-weight="normal" font-size="27" fill="#231f20" textLength="137.62" lengthAdjust="spacingAndGlyphs" >No binding</text><text x="1547.73" y="1980.00" font-family="Liberation Sans, sans-serif" font-weight="normal" font-size="27" fill="#231f20" textLength="62.29" lengthAdjust="spacingAndGlyphs" >4 ±11</text><use href="#pBlue" transform="matrix(0.80800,0,0,-0.68400,1068.70,275.20)" stroke="#3d56a6" stroke-width="3.4" /><use href="#pBlack" transform="matrix(0.80800,0,0,-0.68400,1068.70,275.20)" stroke="#000" stroke-width="3.9" /><path d="M1097.3 258.4h0M1129.3 236.8h0M1170.4 158.4h0M1119.4 227.8h0M1074.7 272.5h0M1111.1 233.5h0M1085.6 262.2h0M1117.1 232.5h0M1102.5 237.8h0M1159.5 168.2h0M1136.7 200.6h0M1118.5 231.2h0M1120.0 221.8h0M1107.7 235.2h0M1105.4 248.9h0M1140.5 212.5h0M1094.4 270.5h0M1148.4 193.7h0M1152.3 164.6h0M1160.8 191.5h0M1108.2 229.2h0M1121.4 222.6h0M1132.2 207.8h0M1119.0 230.8h0M1110.2 228.5h0M1164.3 164.4h0M1144.7 173.3h0M1154.5 220.0h0M1152.0 195.9h0M1080.0 268.0h0M1136.6 200.9h0M1078.5 267.9h0M1109.8 247.7h0M1119.4 244.9h0M1142.4 190.9h0M1142.2 213.3h0M1139.3 197.4h0M1173.9 174.8h0M1108.2 230.8h0M1116.0 235.0h0M1142.4 187.7h0M1104.1 235.6h0M1094.6 261.8h0M1082.2 268.2h0M1112.0 246.7h0M1108.9 236.3h0M1167.0 139.2h0M1113.1 248.2h0M1096.4 249.3h0M1123.5 236.8h0M1176.1 181.7h0M1152.2 194.2h0M1144.7 183.1h0M1147.1 199.2h0M1127.0 245.1h0M1143.2 182.6h0M1128.1 209.3h0M1159.6 156.4h0M1130.6 218.7h0M1145.6 198.5h0M1121.6 234.8h0M1101.4 246.1h0M1138.3 217.9h0M1088.8 262.4h0M1167.6 144.7h0M1165.8 162.1h0M1156.3 178.8h0M1106.7 249.7h0M1112.0 234.1h0M1081.1 271.3h0M1118.1 253.0h0M1144.8 186.5h0M1131.6 234.3h0M1083.6 266.7h0M1115.7 219.1h0M1138.6 217.1h0M1167.1 139.2h0M1116.0 229.8h0M1110.9 239.5h0M1097.3 263.7h0M1118.7 224.3h0M1104.1 251.2h0M1087.8 271.4h0M1098.4 243.0h0M1102.7 243.1h0M1144.1 210.3h0M1100.2 242.8h0M1102.6 244.9h0M1156.3 174.2h0M1094.9 257.2h0M1157.9 213.5h0M1083.1 268.5h0M1120.4 220.8h0M1085.4 261.0h0M1136.5 221.3h0M1161.4 162.3h0M1159.7 183.9h0M1098.6 249.7h0M1141.7 233.6h0M1154.7 185.4h0M1082.6 266.3h0M1113.5 255.3h0M1088.6 265.5h0M1088.9 264.7h0M1141.9 197.1h0M1186.8 135.0h0M1136.8 238.2h0M1113.3 234.0h0M1099.2 241.5h0M1110.3 229.7h0M1183.6 134.1h0M1127.4 236.2h0M1081.5 269.4h0M1158.5 204.3h0M1156.4 155.1h0M1101.9 259.8h0M1118.7 238.7h0M1154.3 188.3h0M1166.1 157.8h0M1141.4 196.5h0M1142.3 204.8h0M1146.5 202.6h0M1167.3 145.7h0M1168.7 135.9h0M1095.6 262.9h0M1107.4 237.2h0M1102.3 258.3h0M1178.5 171.3h0M1141.0 203.3h0M1169.1 137.3h0M1092.7 262.3h0M1110.6 245.7h0M1084.6 268.3h0M1101.8 251.8h0M1093.5 263.3h0M1091.1 264.6h0M1157.2 154.0h0M1093.2 255.9h0M1100.4 259.6h0M1101.1 249.7h0M1143.1 225.2h0M1119.4 220.3h0M1138.7 225.8h0M1142.5 179.6h0M1100.4 240.5h0M1145.1 222.1h0M1103.2 246.0h0M1091.2 254.7h0M1102.3 256.7h0M1106.2 233.2h0M1096.7 247.2h0M1093.0 257.2h0M1160.1 162.8h0M1099.4 251.9h0M1150.0 190.8h0M1125.6 222.0h0M1108.7 247.6h0M1106.8 235.9h0M1110.6 241.1h0M1099.1 251.1h0M1165.6 200.5h0M1113.4 244.8h0M1105.2 249.4h0M1126.4 228.4h0M1113.8 245.7h0M1092.2 264.0h0M1163.8 143.1h0M1159.2 150.2h0M1091.0 269.1h0M1119.5 228.7h0M1060.6 284.8h0M1067.1 282.0h0M1070.3 282.7h0M1189.9 206.8h0M1185.1 201.3h0M1175.4 217.7h0M1181.8 212.3h0M1168.9 208.2h0" stroke="#e8222a" stroke-width="4.6" stroke-linecap="round" fill="none"/><rect x="1017.60" y="13.00" width="300.10" height="303.20" fill="none" stroke="#3a3a3a" stroke-width="1.3"/><line x1="1068.70" y1="316.20" x2="1068.70" y2="325.90" stroke="#5a5a5a" stroke-width="1.6" /><text x="1061.05" y="352.60" font-family="Liberation Sans, sans-serif" font-weight="normal" font-size="22" fill="#231f20" textLength="15.29" lengthAdjust="spacingAndGlyphs" >0</text><line x1="1149.50" y1="316.20" x2="1149.50" y2="325.90" stroke="#5a5a5a" stroke-width="1.6" /><text x="1142.92" y="352.60" font-family="Liberation Sans, sans-serif" font-weight="normal" font-size="22" fill="#231f20" textLength="13.21" lengthAdjust="spacingAndGlyphs" >5</text><line x1="1230.30" y1="316.20" x2="1230.30" y2="325.90" stroke="#5a5a5a" stroke-width="1.6" /><text x="1217.91" y="352.60" font-family="Liberation Sans, sans-serif" font-weight="normal" font-size="22" fill="#231f20" textLength="23.98" lengthAdjust="spacingAndGlyphs" >10</text><line x1="1311.10" y1="316.20" x2="1311.10" y2="325.90" stroke="#5a5a5a" stroke-width="1.6" /><text x="1298.74" y="352.60" font-family="Liberation Sans, sans-serif" font-weight="normal" font-size="22" fill="#231f20" textLength="23.98" lengthAdjust="spacingAndGlyphs" >15</text><line x1="1008.10" y1="275.20" x2="1017.60" y2="275.20" stroke="#5a5a5a" stroke-width="1.6" /><text x="981.38" y="283.50" font-family="Liberation Sans, sans-serif" font-weight="normal" font-size="22" fill="#231f20" textLength="15.29" lengthAdjust="spacingAndGlyphs" >0</text><line x1="1008.10" y1="206.80" x2="1017.60" y2="206.80" stroke="#5a5a5a" stroke-width="1.6" /><text x="983.38" y="215.10" font-family="Liberation Sans, sans-serif" font-weight="normal" font-size="22" fill="#231f20" textLength="13.21" lengthAdjust="spacingAndGlyphs" >5</text><line x1="1008.10" y1="138.40" x2="1017.60" y2="138.40" stroke="#5a5a5a" stroke-width="1.6" /><text x="972.46" y="146.70" font-family="Liberation Sans, sans-serif" font-weight="normal" font-size="22" fill="#231f20" textLength="23.98" lengthAdjust="spacingAndGlyphs" >10</text><line x1="1008.10" y1="70.00" x2="1017.60" y2="70.00" stroke="#5a5a5a" stroke-width="1.6" /><text x="972.52" y="78.30" font-family="Liberation Sans, sans-serif" font-weight="normal" font-size="22" fill="#231f20" textLength="23.98" lengthAdjust="spacingAndGlyphs" >15</text><text x="1048.04" y="387.30" font-family="Liberation Sans, sans-serif" font-weight="normal" font-size="27" fill="#231f20" textLength="238.29" lengthAdjust="spacingAndGlyphs" >RelA–RelA (<tspan font-style="italic">z</tspan> score)</text><text transform="translate(951.36,268.90) rotate(-90)" x="-2.14" y="0" font-family="Liberation Sans, sans-serif" font-size="27" fill="#231f20" textLength="201.56" lengthAdjust="spacingAndGlyphs">Rel–Rel (<tspan font-style="italic">z</tspan> score)</text><text x="1193.44" y="296.30" font-family="DejaVu Sans Mono, monospace" font-weight="bold" font-size="35.5" fill="#6fb33f" textLength="106.82" lengthAdjust="spacingAndGlyphs" >TTTTT</text><use href="#pBlue" transform="matrix(0.81150,0,0,-0.68500,1481.40,275.20)" stroke="#3d56a6" stroke-width="3.4" /><use href="#pBlack" transform="matrix(0.81150,0,0,-0.68500,1481.40,275.20)" stroke="#000" stroke-width="3.9" /><path d="M1532.3 227.7h0M1550.7 191.7h0M1492.6 271.0h0M1496.8 266.5h0M1488.5 268.0h0M1497.8 257.1h0M1489.2 270.4h0M1540.1 234.5h0M1516.1 228.2h0M1513.7 245.4h0M1527.6 237.9h0M1543.3 235.8h0M1559.9 205.3h0M1558.3 167.6h0M1546.0 205.0h0M1555.9 199.6h0M1544.9 211.5h0M1516.8 229.2h0M1488.4 267.1h0M1486.4 272.5h0M1531.6 234.3h0M1545.5 190.3h0M1553.5 212.4h0M1521.2 229.3h0M1551.6 217.1h0M1556.4 198.0h0M1525.4 247.5h0M1526.1 219.0h0M1534.7 243.9h0M1498.2 260.9h0M1508.3 248.8h0M1513.1 260.3h0M1489.2 274.2h0M1584.4 157.9h0M1556.8 201.5h0M1538.2 190.2h0M1527.9 227.2h0M1505.0 242.8h0M1554.9 197.0h0M1496.7 256.1h0M1542.4 193.1h0M1518.3 222.7h0M1516.4 236.9h0M1570.6 180.3h0M1536.7 214.2h0M1495.8 266.8h0M1481.8 275.0h0M1520.1 256.8h0M1481.4 280.8h0M1569.0 148.3h0M1538.0 211.2h0M1500.2 254.5h0M1549.1 192.8h0M1520.7 244.5h0M1498.2 263.6h0M1505.8 257.1h0M1508.7 258.1h0M1482.1 274.6h0M1493.8 263.3h0M1535.3 221.8h0M1489.8 268.9h0M1526.3 239.3h0M1526.6 228.5h0M1532.6 214.8h0M1517.3 228.4h0M1508.1 237.1h0M1593.7 129.0h0M1487.7 274.6h0M1506.4 251.4h0M1501.3 259.0h0M1482.1 277.7h0M1485.2 272.2h0M1482.2 274.4h0M1575.3 180.4h0M1486.5 269.9h0M1555.6 182.4h0M1515.5 239.6h0M1504.4 262.9h0M1515.1 236.0h0M1532.4 233.9h0M1545.5 222.8h0M1558.7 164.8h0M1513.1 232.1h0M1503.3 244.0h0M1497.1 256.8h0M1505.0 267.6h0M1533.5 242.2h0M1525.3 212.6h0M1592.5 113.6h0M1524.9 239.9h0M1555.6 204.5h0M1501.7 263.5h0M1534.1 242.8h0M1554.2 165.8h0M1512.0 236.7h0M1573.3 126.6h0M1500.9 251.3h0M1564.5 145.9h0M1512.3 233.0h0M1510.2 236.3h0M1540.4 211.2h0M1501.9 268.3h0M1497.3 257.5h0M1546.1 226.8h0M1536.2 193.1h0M1555.4 190.8h0M1493.8 262.4h0M1493.5 261.4h0M1513.7 249.4h0M1506.1 248.7h0M1546.0 224.5h0M1516.8 223.2h0M1524.2 237.2h0M1497.3 272.4h0M1523.1 232.1h0M1495.0 272.7h0M1547.6 225.2h0M1505.8 255.4h0M1589.8 113.5h0M1526.0 240.3h0M1485.2 273.9h0M1478.6 279.8h0M1513.5 259.1h0M1536.1 231.8h0M1509.3 250.2h0M1506.3 253.7h0M1497.4 258.1h0M1531.4 231.1h0M1557.2 165.4h0M1548.2 214.5h0M1499.5 254.7h0M1515.3 243.3h0M1541.1 209.6h0M1555.7 215.9h0M1542.1 217.4h0M1503.2 249.6h0M1552.5 214.9h0M1533.9 213.0h0M1480.1 281.5h0M1538.9 202.4h0M1478.5 278.8h0M1581.0 172.8h0M1519.0 233.2h0M1538.3 204.8h0M1505.8 255.3h0M1523.4 225.1h0M1568.4 141.6h0M1522.0 229.8h0M1486.7 272.6h0M1530.2 236.3h0M1502.5 251.8h0M1504.8 247.6h0M1530.1 211.1h0M1555.1 206.9h0M1514.9 249.0h0M1579.8 128.2h0M1562.1 194.8h0M1557.2 162.6h0M1517.8 245.4h0M1505.2 257.4h0M1501.8 269.4h0M1502.3 247.5h0M1532.4 228.6h0M1571.2 204.7h0M1547.7 233.3h0M1520.5 225.9h0M1528.1 248.0h0M1530.0 249.0h0M1542.2 232.3h0M1523.4 243.9h0M1523.2 223.0h0M1527.9 221.4h0M1487.9 267.6h0M1565.6 191.3h0M1559.1 172.6h0M1523.5 241.1h0M1562.5 179.6h0M1539.1 235.4h0M1564.0 176.3h0M1524.1 224.0h0M1513.6 253.6h0M1498.4 257.6h0M1484.4 278.0h0M1508.1 243.5h0M1564.6 157.6h0M1540.7 224.7h0M1586.3 120.2h0M1511.2 254.2h0M1506.2 260.6h0M1517.5 221.0h0M1465.2 297.1h0M1476.5 287.5h0M1489.5 283.4h0M1603.1 108.1h0M1595.0 124.5h0M1569.0 110.8h0M1570.7 117.7h0" stroke="#e8222a" stroke-width="4.6" stroke-linecap="round" fill="none"/><rect x="1429.50" y="12.20" width="301.90" height="305.00" fill="none" stroke="#3a3a3a" stroke-width="1.3"/><line x1="1481.40" y1="317.20" x2="1481.40" y2="326.90" stroke="#5a5a5a" stroke-width="1.6" /><text x="1473.75" y="353.60" font-family="Liberation Sans, sans-serif" font-weight="normal" font-size="22" fill="#231f20" textLength="15.29" lengthAdjust="spacingAndGlyphs" >0</text><line x1="1562.55" y1="317.20" x2="1562.55" y2="326.90" stroke="#5a5a5a" stroke-width="1.6" /><text x="1555.97" y="353.60" font-family="Liberation Sans, sans-serif" font-weight="normal" font-size="22" fill="#231f20" textLength="13.21" lengthAdjust="spacingAndGlyphs" >5</text><line x1="1643.70" y1="317.20" x2="1643.70" y2="326.90" stroke="#5a5a5a" stroke-width="1.6" /><text x="1631.31" y="353.60" font-family="Liberation Sans, sans-serif" font-weight="normal" font-size="22" fill="#231f20" textLength="23.98" lengthAdjust="spacingAndGlyphs" >10</text><line x1="1724.85" y1="317.20" x2="1724.85" y2="326.90" stroke="#5a5a5a" stroke-width="1.6" /><text x="1712.49" y="353.60" font-family="Liberation Sans, sans-serif" font-weight="normal" font-size="22" fill="#231f20" textLength="23.98" lengthAdjust="spacingAndGlyphs" >15</text><line x1="1420.00" y1="275.20" x2="1429.50" y2="275.20" stroke="#5a5a5a" stroke-width="1.6" /><text x="1393.28" y="283.50" font-family="Liberation Sans, sans-serif" font-weight="normal" font-size="22" fill="#231f20" textLength="15.29" lengthAdjust="spacingAndGlyphs" >0</text><line x1="1420.00" y1="206.70" x2="1429.50" y2="206.70" stroke="#5a5a5a" stroke-width="1.6" /><text x="1395.28" y="215.00" font-family="Liberation Sans, sans-serif" font-weight="normal" font-size="22" fill="#231f20" textLength="13.21" lengthAdjust="spacingAndGlyphs" >5</text><line x1="1420.00" y1="138.20" x2="1429.50" y2="138.20" stroke="#5a5a5a" stroke-width="1.6" /><text x="1384.36" y="146.50" font-family="Liberation Sans, sans-serif" font-weight="normal" font-size="22" fill="#231f20" textLength="23.98" lengthAdjust="spacingAndGlyphs" >10</text><line x1="1420.00" y1="69.70" x2="1429.50" y2="69.70" stroke="#5a5a5a" stroke-width="1.6" /><text x="1384.42" y="78.00" font-family="Liberation Sans, sans-serif" font-weight="normal" font-size="22" fill="#231f20" textLength="23.98" lengthAdjust="spacingAndGlyphs" >15</text><text x="1461.86" y="388.00" font-family="Liberation Sans, sans-serif" font-weight="normal" font-size="27" fill="#231f20" textLength="236.77" lengthAdjust="spacingAndGlyphs" >RelA–RelA (<tspan font-style="italic">z</tspan> score)</text><text transform="translate(1368.56,269.50) rotate(-90)" x="-2.14" y="0" font-family="Liberation Sans, sans-serif" font-size="27" fill="#231f20" textLength="201.76" lengthAdjust="spacingAndGlyphs">Rel–Rel (<tspan font-style="italic">z</tspan> score)</text><text x="1600.99" y="297.60" font-family="DejaVu Sans Mono, monospace" font-weight="bold" font-size="35.5" fill="#6fb33f" textLength="106.16" lengthAdjust="spacingAndGlyphs" >GTTTT</text><use href="#pBlue" transform="matrix(0.80750,0,0,-0.68250,1066.80,682.30)" stroke="#3d56a6" stroke-width="3.4" /><use href="#pBlack" transform="matrix(0.80750,0,0,-0.68250,1066.80,682.30)" stroke="#000" stroke-width="3.9" /><path d="M1058.7 664.6h0M1053.9 678.2h0M1057.1 685.0h0M1063.6 685.0h0M1068.4 680.9h0M1073.3 680.9h0M1071.6 668.6h0M1087.8 674.1h0M1055.5 694.6h0M1062.0 691.9h0M1066.8 689.1h0M1053.1 701.4h0M1070.0 686.4h0M1060.3 675.5h0" stroke="#e8222a" stroke-width="4.6" stroke-linecap="round" fill="none"/><rect x="1015.40" y="420.40" width="300.50" height="302.90" fill="none" stroke="#3a3a3a" stroke-width="1.3"/><line x1="1066.80" y1="723.30" x2="1066.80" y2="733.00" stroke="#5a5a5a" stroke-width="1.6" /><text x="1059.15" y="759.70" font-family="Liberation Sans, sans-serif" font-weight="normal" font-size="22" fill="#231f20" textLength="15.29" lengthAdjust="spacingAndGlyphs" >0</text><line x1="1147.55" y1="723.30" x2="1147.55" y2="733.00" stroke="#5a5a5a" stroke-width="1.6" /><text x="1140.97" y="759.70" font-family="Liberation Sans, sans-serif" font-weight="normal" font-size="22" fill="#231f20" textLength="13.21" lengthAdjust="spacingAndGlyphs" >5</text><line x1="1228.30" y1="723.30" x2="1228.30" y2="733.00" stroke="#5a5a5a" stroke-width="1.6" /><text x="1215.91" y="759.70" font-family="Liberation Sans, sans-serif" font-weight="normal" font-size="22" fill="#231f20" textLength="23.98" lengthAdjust="spacingAndGlyphs" >10</text><line x1="1309.05" y1="723.30" x2="1309.05" y2="733.00" stroke="#5a5a5a" stroke-width="1.6" /><text x="1296.69" y="759.70" font-family="Liberation Sans, sans-serif" font-weight="normal" font-size="22" fill="#231f20" textLength="23.98" lengthAdjust="spacingAndGlyphs" >15</text><line x1="1005.90" y1="682.30" x2="1015.40" y2="682.30" stroke="#5a5a5a" stroke-width="1.6" /><text x="979.18" y="690.60" font-family="Liberation Sans, sans-serif" font-weight="normal" font-size="22" fill="#231f20" textLength="15.29" lengthAdjust="spacingAndGlyphs" >0</text><line x1="1005.90" y1="614.05" x2="1015.40" y2="614.05" stroke="#5a5a5a" stroke-width="1.6" /><text x="981.18" y="622.35" font-family="Liberation Sans, sans-serif" font-weight="normal" font-size="22" fill="#231f20" textLength="13.21" lengthAdjust="spacingAndGlyphs" >5</text><line x1="1005.90" y1="545.80" x2="1015.40" y2="545.80" stroke="#5a5a5a" stroke-width="1.6" /><text x="970.26" y="554.10" font-family="Liberation Sans, sans-serif" font-weight="normal" font-size="22" fill="#231f20" textLength="23.98" lengthAdjust="spacingAndGlyphs" >10</text><line x1="1005.90" y1="477.55" x2="1015.40" y2="477.55" stroke="#5a5a5a" stroke-width="1.6" /><text x="970.32" y="485.85" font-family="Liberation Sans, sans-serif" font-weight="normal" font-size="22" fill="#231f20" textLength="23.98" lengthAdjust="spacingAndGlyphs" >15</text><text x="1046.35" y="794.50" font-family="Liberation Sans, sans-serif" font-weight="normal" font-size="27" fill="#231f20" textLength="237.78" lengthAdjust="spacingAndGlyphs" >RelA–RelA (<tspan font-style="italic">z</tspan> score)</text><text transform="translate(954.06,675.50) rotate(-90)" x="-2.14" y="0" font-family="Liberation Sans, sans-serif" font-size="27" fill="#231f20" textLength="201.76" lengthAdjust="spacingAndGlyphs">Rel–Rel (<tspan font-style="italic">z</tspan> score)</text><text x="1195.18" y="705.00" font-family="DejaVu Sans Mono, monospace" font-weight="bold" font-size="35.5" fill="#6fb33f" textLength="106.39" lengthAdjust="spacingAndGlyphs" >CACTA</text><use href="#pBlue" transform="matrix(0.80750,0,0,-0.68200,1480.30,682.60)" stroke="#3d56a6" stroke-width="3.4" /><use href="#pBlack" transform="matrix(0.80750,0,0,-0.68200,1480.30,682.60)" stroke="#000" stroke-width="3.9" /><path d="M1480.7 678.2h0M1491.1 671.6h0M1525.1 633.9h0M1492.7 674.7h0M1515.9 622.4h0M1515.5 646.2h0M1532.3 626.7h0M1532.0 627.5h0M1495.5 662.1h0M1519.1 637.3h0M1522.0 645.7h0M1484.0 678.2h0M1496.0 661.7h0M1502.5 653.5h0M1486.2 679.1h0M1506.8 653.8h0M1498.7 660.5h0M1538.0 627.1h0M1483.5 684.1h0M1497.0 654.2h0M1514.8 641.3h0M1500.6 668.5h0M1521.9 648.1h0M1505.1 658.6h0M1486.4 676.9h0M1526.4 623.7h0M1511.9 636.3h0M1480.1 684.3h0M1505.5 663.5h0M1489.8 672.2h0M1515.5 643.8h0M1506.6 653.9h0M1516.4 647.0h0M1486.7 669.4h0M1507.4 661.7h0M1498.4 653.1h0M1494.1 663.1h0M1483.9 676.6h0M1496.6 670.6h0M1485.4 679.7h0M1488.1 677.8h0M1509.4 661.1h0M1486.2 679.3h0M1481.8 687.5h0M1528.7 638.7h0M1548.1 533.9h0M1551.4 540.7h0M1557.8 543.5h0M1567.5 550.3h0M1556.2 569.4h0M1528.8 572.1h0M1533.6 578.9h0M1519.1 607.6h0M1512.6 611.7h0M1540.1 615.8h0M1541.7 625.3h0M1553.0 637.6h0M1462.5 696.2h0M1470.6 703.1h0M1477.1 693.5h0" stroke="#e8222a" stroke-width="4.6" stroke-linecap="round" fill="none"/><rect x="1429.30" y="420.80" width="300.10" height="303.30" fill="none" stroke="#3a3a3a" stroke-width="1.3"/><line x1="1480.30" y1="724.10" x2="1480.30" y2="733.80" stroke="#5a5a5a" stroke-width="1.6" /><text x="1472.65" y="760.50" font-family="Liberation Sans, sans-serif" font-weight="normal" font-size="22" fill="#231f20" textLength="15.29" lengthAdjust="spacingAndGlyphs" >0</text><line x1="1561.05" y1="724.10" x2="1561.05" y2="733.80" stroke="#5a5a5a" stroke-width="1.6" /><text x="1554.47" y="760.50" font-family="Liberation Sans, sans-serif" font-weight="normal" font-size="22" fill="#231f20" textLength="13.21" lengthAdjust="spacingAndGlyphs" >5</text><line x1="1641.80" y1="724.10" x2="1641.80" y2="733.80" stroke="#5a5a5a" stroke-width="1.6" /><text x="1629.41" y="760.50" font-family="Liberation Sans, sans-serif" font-weight="normal" font-size="22" fill="#231f20" textLength="23.98" lengthAdjust="spacingAndGlyphs" >10</text><line x1="1722.55" y1="724.10" x2="1722.55" y2="733.80" stroke="#5a5a5a" stroke-width="1.6" /><text x="1710.19" y="760.50" font-family="Liberation Sans, sans-serif" font-weight="normal" font-size="22" fill="#231f20" textLength="23.98" lengthAdjust="spacingAndGlyphs" >15</text><line x1="1419.80" y1="682.60" x2="1429.30" y2="682.60" stroke="#5a5a5a" stroke-width="1.6" /><text x="1393.08" y="690.90" font-family="Liberation Sans, sans-serif" font-weight="normal" font-size="22" fill="#231f20" textLength="15.29" lengthAdjust="spacingAndGlyphs" >0</text><line x1="1419.80" y1="614.40" x2="1429.30" y2="614.40" stroke="#5a5a5a" stroke-width="1.6" /><text x="1395.08" y="622.70" font-family="Liberation Sans, sans-serif" font-weight="normal" font-size="22" fill="#231f20" textLength="13.21" lengthAdjust="spacingAndGlyphs" >5</text><line x1="1419.80" y1="546.20" x2="1429.30" y2="546.20" stroke="#5a5a5a" stroke-width="1.6" /><text x="1384.16" y="554.50" font-family="Liberation Sans, sans-serif" font-weight="normal" font-size="22" fill="#231f20" textLength="23.98" lengthAdjust="spacingAndGlyphs" >10</text><line x1="1419.80" y1="478.00" x2="1429.30" y2="478.00" stroke="#5a5a5a" stroke-width="1.6" /><text x="1384.22" y="486.30" font-family="Liberation Sans, sans-serif" font-weight="normal" font-size="22" fill="#231f20" textLength="23.98" lengthAdjust="spacingAndGlyphs" >15</text><text x="1459.85" y="795.50" font-family="Liberation Sans, sans-serif" font-weight="normal" font-size="27" fill="#231f20" textLength="237.78" lengthAdjust="spacingAndGlyphs" >RelA–RelA (<tspan font-style="italic">z</tspan> score)</text><text transform="translate(1368.06,676.50) rotate(-90)" x="-2.22" y="0" font-family="Liberation Sans, sans-serif" font-size="27" fill="#231f20" textLength="201.91" lengthAdjust="spacingAndGlyphs">Rel:Rel (<tspan font-style="italic">z</tspan> score)</text><text x="1611.39" y="702.20" font-family="DejaVu Sans Mono, monospace" font-weight="bold" font-size="35.5" fill="#6fb33f" textLength="106.16" lengthAdjust="spacingAndGlyphs" >GAGAT</text><use href="#pBlue" transform="matrix(0.80550,0,0,-0.68250,1294.10,1090.20)" stroke="#3d56a6" stroke-width="3.4" /><use href="#pBlack" transform="matrix(0.80550,0,0,-0.68250,1294.10,1090.20)" stroke="#000" stroke-width="3.9" /><path d="M1321.1 1077.5h0M1350.3 1059.1h0M1344.5 1067.5h0M1328.8 1062.0h0M1299.3 1083.6h0M1302.5 1078.5h0M1289.0 1090.8h0M1292.1 1098.8h0M1307.4 1078.4h0M1292.7 1099.9h0M1297.4 1091.4h0M1345.6 1053.7h0M1315.0 1080.6h0M1290.4 1094.3h0M1340.4 1075.8h0M1313.8 1073.3h0M1349.8 1058.5h0M1325.3 1073.4h0M1331.1 1068.8h0M1335.2 1074.5h0M1287.5 1098.2h0M1316.0 1074.0h0M1345.0 1060.1h0M1285.4 1095.3h0M1337.3 1076.6h0M1316.1 1078.5h0M1291.9 1080.8h0M1291.4 1090.8h0M1350.2 1058.0h0M1350.2 1059.8h0M1349.0 1065.2h0M1289.7 1092.6h0M1326.1 1079.9h0M1324.2 1079.1h0M1289.3 1092.9h0M1335.8 1062.5h0M1279.0 1083.7h0M1334.6 1069.0h0M1292.6 1086.7h0M1354.7 1061.8h0M1334.2 1073.2h0M1317.0 1081.4h0M1318.8 1080.1h0M1329.5 1074.1h0M1287.1 1097.7h0M1346.7 1047.4h0M1343.2 1066.5h0M1338.4 1060.7h0M1347.9 1063.5h0M1327.0 1055.0h0M1321.3 1085.6h0M1338.6 1069.1h0M1314.2 1080.0h0M1352.8 1055.9h0M1302.7 1086.6h0M1331.4 1077.9h0M1320.2 1066.1h0M1333.4 1061.5h0M1343.6 1063.5h0M1308.1 1084.1h0M1315.6 1078.0h0M1318.3 1079.9h0M1310.6 1093.0h0M1347.0 1060.4h0M1336.0 1074.7h0M1338.9 1064.5h0M1301.4 1087.0h0M1341.7 1070.0h0M1342.7 1057.9h0M1297.8 1082.3h0M1299.9 1091.2h0M1326.7 1080.7h0M1334.6 1076.3h0M1307.5 1080.4h0M1347.3 1054.9h0M1336.5 1070.3h0M1312.1 1083.7h0M1289.9 1089.4h0M1294.1 1086.6h0M1299.4 1085.6h0M1322.7 1072.5h0M1324.8 1075.5h0M1354.5 1049.8h0M1324.5 1068.5h0M1310.0 1082.1h0M1315.3 1068.7h0M1330.6 1055.8h0M1333.5 1066.0h0M1349.2 1062.2h0M1309.4 1083.3h0M1324.1 1072.7h0M1336.2 1065.0h0M1283.2 1084.8h0M1321.1 1082.9h0M1333.0 1079.8h0M1333.9 1068.0h0M1345.1 1057.8h0M1293.5 1103.9h0M1346.0 1061.4h0M1283.5 1099.1h0M1331.5 1073.8h0M1287.5 1092.5h0M1285.1 1085.4h0M1306.0 1089.4h0M1335.9 1063.7h0M1313.9 1084.1h0M1291.6 1092.5h0M1319.6 1076.3h0M1313.5 1084.2h0M1292.3 1086.2h0M1280.3 1093.9h0M1334.6 1073.8h0M1304.8 1094.2h0M1308.5 1087.5h0M1310.1 1077.0h0M1285.5 1087.3h0M1337.0 1071.8h0M1318.6 1075.5h0M1305.2 1097.3h0M1325.8 1074.8h0M1314.3 1078.5h0M1315.1 1084.6h0M1317.1 1077.7h0M1343.0 1069.7h0M1279.8 1100.4h0M1284.7 1093.6h0M1309.3 1091.7h0M1296.9 1085.7h0M1318.4 1071.3h0M1338.9 1071.4h0M1319.4 1080.0h0M1305.1 1086.6h0M1331.9 1079.1h0M1339.6 1072.0h0M1346.5 1068.3h0M1321.0 1072.5h0M1343.7 1065.2h0M1283.7 1101.1h0M1343.1 1066.7h0M1296.6 1085.0h0M1303.2 1081.6h0M1348.2 1061.4h0M1352.2 1061.1h0M1308.2 1087.9h0M1335.5 1067.0h0M1308.4 1074.2h0M1298.6 1084.9h0M1281.2 1084.7h0M1314.9 1090.0h0M1313.7 1075.4h0M1323.4 1072.1h0M1324.2 1063.1h0M1347.8 1060.1h0M1312.1 1071.6h0M1337.5 1067.9h0M1340.2 1073.8h0M1305.0 1080.2h0M1284.7 1096.4h0M1324.2 1072.6h0M1348.3 1060.9h0M1316.3 1075.7h0M1290.8 1085.5h0M1289.7 1085.5h0M1303.8 1093.6h0M1344.0 1053.0h0M1341.5 1068.4h0M1348.7 1060.9h0M1292.2 1089.6h0M1310.3 1088.0h0M1330.6 1065.6h0M1291.9 1095.1h0M1292.7 1095.6h0M1284.3 1084.1h0M1318.4 1090.6h0M1323.5 1083.2h0M1308.4 1079.1h0M1333.6 1069.5h0M1323.1 1071.3h0M1311.6 1081.8h0M1303.2 1090.0h0M1340.8 1064.9h0M1304.3 1084.7h0M1342.6 1067.3h0M1345.3 1059.1h0M1334.3 1077.0h0M1342.4 1075.6h0M1312.6 1088.6h0M1340.3 1060.7h0M1310.3 1073.0h0M1293.8 1083.3h0M1330.3 1074.0h0M1323.5 1073.4h0M1303.3 1088.7h0M1335.5 1070.2h0M1340.6 1056.1h0M1305.5 1084.5h0M1335.3 1068.7h0M1316.9 1096.0h0M1311.1 1080.6h0M1347.0 1067.2h0M1335.4 1072.6h0M1281.4 1092.9h0M1339.4 1067.5h0M1338.1 1061.0h0M1318.8 1068.4h0M1285.8 1105.9h0M1344.3 1076.0h0M1307.7 1070.5h0M1337.0 1062.9h0M1318.0 1084.3h0M1317.8 1080.3h0M1334.1 1068.4h0M1300.7 1079.3h0M1338.8 1065.1h0M1299.9 1085.7h0M1345.0 1071.3h0M1342.8 1058.4h0M1307.4 1081.9h0M1340.3 1071.3h0M1326.6 1080.9h0M1305.6 1081.8h0M1320.3 1069.9h0M1300.5 1076.2h0M1281.9 1084.8h0M1356.4 1062.3h0M1325.5 1071.8h0M1334.9 1072.6h0M1304.3 1079.5h0M1282.2 1100.2h0M1279.3 1091.7h0M1298.9 1081.8h0M1300.2 1083.4h0M1308.4 1082.1h0M1299.7 1078.3h0M1348.2 1063.2h0M1304.9 1087.9h0M1306.4 1082.8h0M1304.8 1080.6h0M1298.2 1085.8h0M1291.6 1085.5h0M1330.8 1064.3h0M1308.3 1069.6h0M1308.2 1080.6h0M1352.8 1055.2h0M1337.9 1082.0h0M1344.5 1050.7h0M1334.1 1071.5h0M1335.6 1059.4h0M1344.4 1068.8h0M1318.8 1075.1h0M1343.5 1059.6h0M1305.4 1085.6h0M1301.0 1086.9h0M1319.0 1091.0h0M1323.9 1069.8h0M1333.4 1072.7h0M1326.2 1074.2h0M1286.0 1086.0h0M1342.4 1063.0h0M1335.1 1065.8h0M1342.8 1071.9h0M1296.9 1083.3h0M1307.0 1087.3h0M1335.6 1061.3h0M1298.1 1093.5h0M1317.0 1088.5h0M1351.7 1061.2h0M1312.1 1070.9h0M1318.0 1080.9h0M1313.4 1071.4h0M1336.4 1068.3h0M1331.4 1081.4h0M1316.2 1077.5h0M1333.9 1054.7h0M1326.5 1071.7h0M1310.6 1086.9h0M1312.4 1082.3h0M1324.0 1082.8h0M1308.5 1061.5h0M1286.0 1092.8h0M1278.7 1109.3h0M1297.4 1083.1h0M1329.7 1067.2h0M1348.1 1065.9h0M1274.6 1099.6h0M1268.5 1096.6h0M1330.2 1065.3h0M1345.4 1067.5h0M1342.2 1068.0h0M1283.8 1084.6h0M1308.2 1087.0h0M1336.5 1076.8h0M1343.1 1065.5h0M1335.6 1058.9h0M1305.0 1081.4h0M1331.9 1072.3h0M1325.3 1064.5h0M1303.3 1078.8h0M1331.4 1076.7h0M1289.4 1096.7h0M1320.7 1074.8h0M1316.2 1081.5h0M1340.3 1065.6h0M1336.6 1066.5h0M1284.7 1089.3h0M1325.8 1072.0h0M1338.7 1070.0h0M1323.5 1083.5h0M1305.7 1076.9h0M1289.5 1080.9h0M1290.2 1087.7h0M1316.8 1077.1h0M1343.1 1063.0h0M1342.9 1067.2h0M1340.8 1072.5h0M1324.9 1073.9h0M1349.4 1055.9h0M1316.3 1072.6h0M1322.8 1071.1h0M1344.4 1063.6h0M1336.5 1062.6h0M1341.6 1056.9h0M1305.8 1082.7h0M1316.1 1077.2h0M1293.8 1084.4h0M1332.4 1064.5h0M1296.5 1091.4h0M1323.6 1073.3h0M1279.7 1087.2h0M1307.1 1079.8h0M1277.4 1079.3h0M1307.8 1077.0h0M1333.9 1070.1h0M1325.9 1069.2h0M1288.7 1097.2h0M1318.8 1069.8h0M1282.7 1095.8h0M1311.8 1079.8h0M1330.6 1063.8h0M1325.2 1076.3h0M1314.5 1087.3h0M1329.8 1076.2h0M1323.2 1070.7h0M1314.7 1078.5h0M1312.2 1079.7h0M1335.6 1065.9h0M1326.0 1076.5h0M1320.6 1073.3h0M1293.6 1080.9h0M1352.1 1066.4h0M1340.0 1055.9h0M1294.6 1090.7h0M1339.9 1063.8h0M1296.4 1079.9h0M1351.0 1066.6h0M1322.4 1075.4h0M1327.0 1065.8h0M1320.8 1076.3h0M1321.1 1076.5h0M1342.2 1066.9h0M1327.2 1073.2h0M1320.3 1077.9h0M1316.6 1076.7h0M1290.6 1092.3h0M1330.1 1082.0h0M1305.9 1081.1h0M1284.6 1096.2h0M1336.5 1074.1h0M1332.1 1073.5h0M1313.3 1079.6h0M1329.1 1060.4h0M1358.1 1062.1h0M1290.2 1082.1h0M1333.3 1070.2h0M1352.3 1056.2h0M1288.5 1092.6h0M1302.2 1082.2h0M1293.0 1081.8h0M1341.6 1062.2h0M1270.5 1104.7h0M1327.4 1069.3h0M1304.0 1094.2h0M1289.6 1093.0h0M1282.5 1085.7h0M1303.3 1078.5h0M1303.5 1082.7h0M1315.3 1080.6h0M1341.8 1064.3h0M1323.0 1080.8h0M1307.9 1078.5h0M1326.3 1075.8h0M1318.3 1078.4h0M1334.8 1065.8h0M1327.2 1068.7h0M1316.9 1076.8h0M1357.9 1053.5h0M1350.0 1049.4h0M1331.0 1060.8h0M1339.7 1064.3h0M1295.7 1094.9h0M1344.5 1054.3h0M1348.7 1062.2h0M1323.3 1070.9h0M1301.4 1087.8h0M1321.9 1069.5h0M1332.0 1073.9h0M1316.2 1074.1h0M1317.8 1081.5h0M1307.5 1068.4h0M1331.9 1072.8h0M1340.9 1077.4h0M1334.1 1057.4h0M1293.0 1081.4h0M1348.1 1056.1h0M1336.2 1077.3h0M1310.8 1079.9h0M1352.8 1055.9h0M1294.8 1087.7h0M1294.0 1087.6h0M1333.2 1068.1h0M1361.2 1061.0h0M1307.3 1075.1h0M1321.2 1080.1h0M1309.2 1081.6h0M1323.7 1068.5h0M1343.0 1063.0h0M1334.0 1057.9h0M1328.6 1081.0h0M1327.5 1062.6h0M1310.6 1088.7h0M1319.0 1080.2h0M1285.6 1095.7h0M1289.3 1086.1h0M1292.4 1088.0h0M1330.7 1073.9h0M1326.2 1067.6h0M1282.0 1082.7h0M1296.0 1088.7h0M1333.9 1072.5h0M1343.4 1067.0h0M1335.3 1076.2h0M1317.0 1081.6h0M1282.8 1097.2h0M1310.8 1072.8h0M1353.4 1061.5h0M1294.0 1093.5h0M1298.0 1086.5h0M1344.1 1069.5h0M1332.7 1050.5h0M1347.2 1056.3h0M1316.0 1078.3h0M1285.2 1104.3h0M1339.5 1069.1h0M1343.8 1066.6h0M1319.4 1079.4h0M1315.5 1092.3h0M1292.5 1092.6h0M1304.6 1087.5h0M1318.9 1079.0h0M1341.2 1073.8h0M1292.4 1089.3h0M1311.1 1081.9h0M1291.0 1107.9h0M1327.0 1080.2h0M1322.5 1071.7h0M1319.2 1070.0h0M1300.6 1091.8h0M1296.1 1090.9h0M1356.5 1059.6h0M1348.4 1055.5h0M1317.2 1077.0h0M1349.3 1058.7h0M1311.9 1082.4h0M1314.8 1090.7h0M1303.7 1076.0h0M1285.7 1092.7h0M1305.9 1079.8h0M1317.8 1080.2h0M1338.0 1073.8h0M1305.8 1086.2h0M1315.8 1078.4h0M1336.9 1074.3h0M1318.9 1067.7h0M1316.0 1059.4h0M1309.1 1091.9h0M1291.2 1082.6h0M1314.0 1082.2h0M1322.9 1070.8h0M1338.4 1062.4h0M1310.0 1081.8h0M1290.6 1085.4h0M1284.5 1094.3h0M1348.5 1051.1h0M1324.0 1069.9h0M1346.5 1072.7h0M1338.7 1066.1h0M1327.5 1074.0h0M1293.4 1090.4h0M1316.5 1083.6h0M1286.6 1081.0h0M1318.1 1074.6h0M1350.8 1061.3h0M1306.9 1088.2h0M1318.8 1073.5h0M1292.4 1085.3h0M1344.0 1058.5h0M1345.4 1052.8h0M1328.5 1077.3h0M1323.1 1082.6h0M1289.2 1083.2h0M1326.6 1065.9h0M1289.4 1086.4h0M1300.8 1080.1h0M1307.4 1083.8h0M1301.2 1085.3h0M1335.3 1069.3h0M1328.6 1084.1h0M1347.5 1059.3h0M1334.1 1062.1h0M1340.2 1070.4h0M1295.5 1088.7h0M1323.6 1071.4h0M1330.3 1059.6h0M1324.9 1072.5h0M1301.5 1087.6h0M1331.8 1065.8h0M1306.5 1080.7h0M1319.8 1077.0h0M1338.3 1066.1h0M1318.1 1077.0h0M1316.8 1073.8h0M1318.6 1084.5h0M1326.3 1075.6h0M1345.9 1063.8h0M1319.7 1076.2h0M1324.1 1057.8h0M1335.8 1070.5h0M1347.5 1060.0h0M1290.3 1087.3h0M1320.3 1066.8h0M1291.1 1081.1h0M1287.9 1091.5h0M1298.9 1094.7h0M1345.0 1061.2h0M1327.0 1064.1h0M1334.6 1054.0h0M1322.2 1066.0h0M1328.7 1058.0h0M1310.3 1077.7h0M1328.6 1074.9h0M1298.6 1083.8h0M1320.9 1072.7h0M1315.3 1070.2h0M1328.7 1070.1h0M1283.7 1095.4h0M1322.1 1069.0h0M1302.9 1087.6h0M1281.9 1093.5h0M1331.5 1063.3h0M1288.6 1086.5h0M1347.3 1057.5h0M1316.6 1078.8h0M1307.9 1081.8h0M1283.5 1089.2h0M1279.2 1098.0h0M1333.0 1076.2h0M1335.2 1083.4h0M1305.8 1081.3h0M1345.9 1068.7h0M1304.0 1083.7h0M1317.7 1081.2h0M1294.3 1092.2h0M1313.1 1083.6h0M1332.4 1062.8h0M1305.7 1083.4h0M1305.5 1091.4h0M1323.3 1075.3h0M1336.5 1059.6h0M1323.7 1078.2h0M1303.8 1082.0h0M1334.3 1062.3h0M1293.1 1088.3h0M1339.0 1077.7h0M1318.3 1077.6h0M1327.1 1076.6h0M1296.2 1084.0h0M1305.5 1088.9h0M1303.3 1090.0h0M1311.4 1086.8h0M1332.0 1068.4h0M1283.7 1088.1h0M1299.6 1083.1h0M1309.3 1076.2h0M1351.4 1057.9h0M1319.4 1068.1h0M1318.5 1078.2h0M1322.0 1083.2h0M1298.2 1095.0h0M1324.8 1079.0h0M1295.4 1088.5h0M1333.0 1061.1h0M1336.1 1070.4h0M1326.4 1072.5h0M1293.4 1081.6h0M1314.3 1072.6h0M1290.3 1096.4h0M1323.8 1069.0h0M1296.5 1088.5h0M1331.4 1067.6h0M1315.5 1075.4h0M1292.9 1091.5h0M1320.8 1083.2h0M1308.8 1087.8h0M1339.5 1074.6h0M1349.2 1060.9h0M1277.1 1092.9h0M1298.4 1080.1h0M1340.9 1067.7h0M1287.8 1090.8h0M1320.6 1082.0h0M1339.8 1065.9h0M1303.1 1081.0h0M1348.5 1063.0h0M1304.2 1074.4h0M1323.8 1069.8h0M1332.0 1072.9h0M1285.2 1096.5h0M1333.4 1075.6h0M1341.2 1057.3h0M1282.1 1089.4h0M1311.1 1056.5h0M1336.8 1049.6h0M1312.9 1079.8h0M1309.5 1084.3h0M1304.6 1092.9h0M1282.9 1095.1h0M1295.9 1091.9h0M1323.1 1078.6h0M1306.5 1080.9h0M1337.3 1054.9h0M1349.6 1067.8h0M1331.6 1069.6h0M1307.9 1084.3h0M1336.5 1061.2h0M1280.4 1100.8h0M1341.1 1067.1h0M1351.8 1070.9h0M1324.5 1078.8h0M1325.1 1083.8h0M1328.7 1061.5h0M1276.2 1092.7h0M1327.3 1076.3h0M1310.0 1085.9h0M1277.5 1096.6h0M1309.1 1078.0h0M1353.2 1067.5h0M1322.0 1065.4h0M1306.1 1081.5h0M1322.1 1064.7h0M1337.1 1080.7h0M1283.9 1098.8h0M1350.1 1056.1h0M1296.1 1088.1h0M1296.4 1092.0h0M1283.9 1101.6h0M1346.5 1059.8h0M1323.5 1075.0h0M1325.2 1063.2h0M1325.8 1073.6h0M1294.1 1086.2h0M1302.9 1091.7h0M1295.2 1087.1h0M1325.4 1063.5h0M1321.1 1060.0h0M1319.3 1067.9h0M1312.2 1074.2h0M1308.6 1089.6h0M1338.0 1061.4h0M1293.3 1077.5h0M1345.9 1058.8h0M1316.2 1073.3h0M1321.7 1075.8h0M1346.1 1062.8h0M1285.3 1092.6h0M1345.7 1058.9h0M1342.3 1063.4h0M1305.9 1089.6h0M1291.8 1092.3h0M1346.8 1063.4h0M1291.7 1092.9h0M1342.2 1058.9h0M1326.2 1062.7h0M1292.7 1082.7h0M1290.5 1096.6h0M1291.7 1084.8h0M1329.3 1072.9h0M1316.3 1082.5h0M1348.8 1054.7h0M1289.4 1088.9h0M1350.5 1064.7h0M1351.8 1054.5h0M1303.8 1075.0h0M1285.2 1088.9h0M1336.3 1056.9h0M1328.4 1065.5h0M1336.2 1063.3h0M1295.5 1092.9h0M1283.8 1104.4h0M1295.7 1086.5h0M1348.6 1081.9h0M1275.7 1098.8h0M1342.7 1071.7h0M1294.3 1087.2h0M1308.0 1087.6h0M1327.7 1073.9h0M1343.4 1067.7h0M1308.0 1075.9h0M1313.1 1065.5h0M1331.8 1072.9h0M1328.0 1079.2h0M1343.3 1055.9h0M1313.9 1078.8h0M1351.9 1060.7h0M1349.3 1062.3h0M1339.7 1066.6h0M1283.9 1095.8h0M1314.1 1074.9h0M1340.0 1067.7h0M1289.3 1090.4h0M1321.6 1073.7h0M1313.9 1087.4h0M1292.0 1085.9h0M1326.5 1080.7h0M1310.9 1084.5h0M1338.9 1064.0h0M1285.9 1096.3h0M1349.8 1056.7h0M1306.7 1081.3h0M1331.6 1067.0h0M1301.7 1098.3h0M1291.4 1089.2h0M1291.4 1093.5h0M1298.7 1096.5h0M1291.7 1085.5h0M1332.4 1069.7h0M1319.5 1076.2h0M1343.7 1068.5h0M1325.4 1080.3h0M1330.2 1074.1h0M1301.5 1084.9h0M1277.4 1095.9h0M1326.4 1060.5h0M1300.0 1089.1h0M1343.6 1058.1h0M1324.8 1079.0h0M1287.6 1092.9h0M1314.4 1073.3h0M1283.5 1097.1h0M1278.6 1084.4h0M1311.3 1083.4h0M1342.0 1060.6h0M1288.5 1092.6h0M1357.9 1061.5h0M1316.1 1094.8h0M1309.3 1078.7h0M1347.3 1073.9h0M1302.5 1076.1h0M1294.1 1096.0h0M1342.3 1064.8h0M1348.5 1047.1h0M1336.1 1072.1h0M1335.3 1068.2h0M1314.6 1084.9h0M1337.9 1065.1h0M1318.0 1077.4h0M1310.1 1068.1h0M1294.4 1104.4h0M1314.8 1075.7h0M1337.2 1065.3h0M1300.1 1080.1h0M1292.4 1094.7h0M1288.7 1092.3h0M1318.1 1066.6h0M1290.1 1089.3h0M1314.5 1067.0h0M1327.5 1079.4h0M1283.1 1097.6h0M1336.8 1065.9h0M1287.1 1097.9h0M1286.9 1087.2h0M1326.5 1077.3h0M1354.1 1059.0h0M1283.4 1099.7h0M1339.8 1074.1h0M1313.9 1076.0h0M1299.6 1084.1h0M1323.1 1079.4h0M1312.5 1087.6h0M1312.5 1077.5h0M1351.0 1069.2h0M1383.0 1009.3h0M1319.7 1055.2h0M1356.6 1012.5h0M1325.9 1069.0h0M1332.0 1034.3h0M1377.3 1009.4h0M1390.2 967.6h0M1330.8 1034.9h0M1327.2 1045.8h0M1323.7 1065.2h0M1344.9 1042.1h0M1325.5 1057.9h0M1353.0 1044.6h0M1353.2 1053.4h0M1324.5 1051.8h0M1340.4 1036.6h0M1353.7 1047.6h0M1320.2 1063.9h0M1356.8 1050.1h0M1317.3 1068.2h0M1343.8 1056.7h0M1336.6 1052.4h0M1390.3 969.1h0M1333.0 1034.7h0M1331.5 1053.5h0M1370.9 989.0h0M1323.3 1054.6h0M1383.0 975.9h0M1327.9 1054.7h0M1364.1 1004.0h0M1325.6 1054.4h0M1397.0 984.7h0M1371.6 980.6h0M1350.8 1029.7h0M1325.5 1056.2h0M1322.9 1054.4h0M1322.2 1055.2h0M1363.6 988.2h0M1319.6 1058.9h0M1327.2 1065.8h0M1319.5 1063.2h0M1325.7 1051.4h0M1363.4 1033.0h0M1319.4 1064.2h0M1342.6 1055.5h0M1391.2 973.1h0M1385.1 969.8h0M1318.8 1054.7h0M1323.7 1069.3h0M1361.0 994.8h0M1335.6 1055.6h0M1315.3 1069.1h0M1348.6 1039.4h0M1383.4 987.3h0M1371.0 1031.0h0M1344.6 1049.3h0M1344.3 1021.4h0M1374.7 1022.8h0M1354.5 1020.3h0M1341.2 1030.7h0M1341.0 1022.1h0M1341.3 1044.9h0M1316.4 1065.9h0M1379.4 975.2h0M1369.4 1031.4h0M1329.2 1041.5h0M1380.2 1019.1h0M1320.9 1056.4h0M1318.1 1055.6h0M1319.1 1062.1h0M1330.0 1036.3h0M1335.2 1041.6h0M1321.0 1059.3h0M1332.1 1046.6h0M1334.5 1065.2h0M1338.4 1031.4h0M1341.1 1027.9h0M1346.5 1029.4h0M1347.8 1023.6h0M1346.0 1022.9h0M1368.3 997.8h0M1367.3 1028.5h0M1385.5 962.7h0M1316.1 1066.1h0M1374.3 1020.2h0M1337.2 1049.2h0M1335.6 1031.1h0M1322.9 1061.0h0M1361.4 1043.9h0M1330.6 1049.3h0M1358.3 1035.6h0M1327.6 1056.4h0M1324.1 1052.3h0M1363.6 1013.9h0M1333.5 1039.9h0M1359.9 1001.5h0M1344.3 1052.1h0M1336.5 1024.7h0M1336.8 1029.3h0M1321.7 1058.9h0M1372.0 1020.6h0M1331.7 1056.5h0M1335.2 1063.1h0M1379.3 1022.3h0M1381.4 994.0h0M1320.4 1066.8h0M1328.5 1061.0h0M1329.9 1038.5h0M1332.1 1033.2h0M1324.4 1060.5h0M1318.1 1057.4h0M1352.1 1012.3h0M1336.0 1065.9h0M1353.4 1024.8h0M1327.0 1052.9h0M1364.5 1035.5h0M1377.5 979.8h0M1324.2 1056.6h0M1361.9 1032.3h0M1354.7 1005.3h0M1386.7 952.1h0M1380.4 957.1h0M1384.6 953.6h0M1414.8 931.2h0M1407.9 954.4h0M1389.1 941.8h0M1396.9 946.1h0" stroke="#e8222a" stroke-width="4.6" stroke-linecap="round" fill="none"/><rect x="1242.80" y="828.40" width="300.10" height="303.30" fill="none" stroke="#3a3a3a" stroke-width="1.3"/><line x1="1294.10" y1="1131.70" x2="1294.10" y2="1141.40" stroke="#5a5a5a" stroke-width="1.6" /><text x="1286.45" y="1168.10" font-family="Liberation Sans, sans-serif" font-weight="normal" font-size="22" fill="#231f20" textLength="15.29" lengthAdjust="spacingAndGlyphs" >0</text><line x1="1374.65" y1="1131.70" x2="1374.65" y2="1141.40" stroke="#5a5a5a" stroke-width="1.6" /><text x="1368.07" y="1168.10" font-family="Liberation Sans, sans-serif" font-weight="normal" font-size="22" fill="#231f20" textLength="13.21" lengthAdjust="spacingAndGlyphs" >5</text><line x1="1455.20" y1="1131.70" x2="1455.20" y2="1141.40" stroke="#5a5a5a" stroke-width="1.6" /><text x="1442.81" y="1168.10" font-family="Liberation Sans, sans-serif" font-weight="normal" font-size="22" fill="#231f20" textLength="23.98" lengthAdjust="spacingAndGlyphs" >10</text><line x1="1535.75" y1="1131.70" x2="1535.75" y2="1141.40" stroke="#5a5a5a" stroke-width="1.6" /><text x="1523.39" y="1168.10" font-family="Liberation Sans, sans-serif" font-weight="normal" font-size="22" fill="#231f20" textLength="23.98" lengthAdjust="spacingAndGlyphs" >15</text><line x1="1233.30" y1="1090.20" x2="1242.80" y2="1090.20" stroke="#5a5a5a" stroke-width="1.6" /><text x="1206.58" y="1098.50" font-family="Liberation Sans, sans-serif" font-weight="normal" font-size="22" fill="#231f20" textLength="15.29" lengthAdjust="spacingAndGlyphs" >0</text><line x1="1233.30" y1="1021.95" x2="1242.80" y2="1021.95" stroke="#5a5a5a" stroke-width="1.6" /><text x="1208.58" y="1030.25" font-family="Liberation Sans, sans-serif" font-weight="normal" font-size="22" fill="#231f20" textLength="13.21" lengthAdjust="spacingAndGlyphs" >5</text><line x1="1233.30" y1="953.70" x2="1242.80" y2="953.70" stroke="#5a5a5a" stroke-width="1.6" /><text x="1197.66" y="962.00" font-family="Liberation Sans, sans-serif" font-weight="normal" font-size="22" fill="#231f20" textLength="23.98" lengthAdjust="spacingAndGlyphs" >10</text><line x1="1233.30" y1="885.45" x2="1242.80" y2="885.45" stroke="#5a5a5a" stroke-width="1.6" /><text x="1197.72" y="893.75" font-family="Liberation Sans, sans-serif" font-weight="normal" font-size="22" fill="#231f20" textLength="23.98" lengthAdjust="spacingAndGlyphs" >15</text><text x="1273.85" y="1200.50" font-family="Liberation Sans, sans-serif" font-weight="normal" font-size="27" fill="#231f20" textLength="237.78" lengthAdjust="spacingAndGlyphs" >RelA–RelA (<tspan font-style="italic">z</tspan> score)</text><text transform="translate(1177.36,1082.50) rotate(-90)" x="-2.14" y="0" font-family="Liberation Sans, sans-serif" font-size="27" fill="#231f20" textLength="201.76" lengthAdjust="spacingAndGlyphs">Rel–Rel (<tspan font-style="italic">z</tspan> score)</text><text x="1410.95" y="1109.60" font-family="DejaVu Sans Mono, monospace" font-weight="bold" font-size="35.5" fill="#6fb33f" textLength="108.06" lengthAdjust="spacingAndGlyphs" >GGGGG</text><use href="#pBlack" transform="matrix(0.96950,0,0,-0.83050,137.40,1040.30)" stroke="#000" stroke-width="4.5" /><use href="#pBlue" transform="matrix(0.96950,0,0,-0.83050,137.40,1040.30)" stroke="#3d56a6" stroke-width="4.0" /><path d="M209.1 965.6h0M195.6 985.5h0M207.2 980.5h0M220.8 993.8h0M230.5 977.2h0M180.1 993.8h0M191.7 1010.4h0M199.4 997.1h0M213.0 985.5h0M185.9 1007.1h0" stroke="#3d56a6" stroke-width="4.0" stroke-linecap="round" fill="none"/><path d="M248.3 901.9h0M155.4 1025.5h0" stroke="#e8222a" stroke-width="5.0" stroke-linecap="round" fill="none"/><rect x="76.00" y="722.50" width="359.00" height="366.30" fill="none" stroke="#3a3a3a" stroke-width="1.3"/><line x1="137.40" y1="1088.80" x2="137.40" y2="1098.50" stroke="#5a5a5a" stroke-width="1.6" /><text x="129.75" y="1125.20" font-family="Liberation Sans, sans-serif" font-weight="normal" font-size="22" fill="#231f20" textLength="15.29" lengthAdjust="spacingAndGlyphs" >0</text><line x1="234.35" y1="1088.80" x2="234.35" y2="1098.50" stroke="#5a5a5a" stroke-width="1.6" /><text x="227.77" y="1125.20" font-family="Liberation Sans, sans-serif" font-weight="normal" font-size="22" fill="#231f20" textLength="13.21" lengthAdjust="spacingAndGlyphs" >5</text><line x1="331.30" y1="1088.80" x2="331.30" y2="1098.50" stroke="#5a5a5a" stroke-width="1.6" /><text x="318.91" y="1125.20" font-family="Liberation Sans, sans-serif" font-weight="normal" font-size="22" fill="#231f20" textLength="23.98" lengthAdjust="spacingAndGlyphs" >10</text><line x1="428.25" y1="1088.80" x2="428.25" y2="1098.50" stroke="#5a5a5a" stroke-width="1.6" /><text x="415.89" y="1125.20" font-family="Liberation Sans, sans-serif" font-weight="normal" font-size="22" fill="#231f20" textLength="23.98" lengthAdjust="spacingAndGlyphs" >15</text><line x1="66.50" y1="1040.30" x2="76.00" y2="1040.30" stroke="#5a5a5a" stroke-width="1.6" /><text x="46.28" y="1048.60" font-family="Liberation Sans, sans-serif" font-weight="normal" font-size="22" fill="#231f20" textLength="15.29" lengthAdjust="spacingAndGlyphs" >0</text><line x1="66.50" y1="957.25" x2="76.00" y2="957.25" stroke="#5a5a5a" stroke-width="1.6" /><text x="48.28" y="965.55" font-family="Liberation Sans, sans-serif" font-weight="normal" font-size="22" fill="#231f20" textLength="13.21" lengthAdjust="spacingAndGlyphs" >5</text><line x1="66.50" y1="874.20" x2="76.00" y2="874.20" stroke="#5a5a5a" stroke-width="1.6" /><text x="37.36" y="882.50" font-family="Liberation Sans, sans-serif" font-weight="normal" font-size="22" fill="#231f20" textLength="23.98" lengthAdjust="spacingAndGlyphs" >10</text><line x1="66.50" y1="791.15" x2="76.00" y2="791.15" stroke="#5a5a5a" stroke-width="1.6" /><text x="37.42" y="799.45" font-family="Liberation Sans, sans-serif" font-weight="normal" font-size="22" fill="#231f20" textLength="23.98" lengthAdjust="spacingAndGlyphs" >15</text><text x="136.56" y="1162.00" font-family="Liberation Sans, sans-serif" font-weight="normal" font-size="27" fill="#231f20" textLength="236.77" lengthAdjust="spacingAndGlyphs" >RelA–RelA (<tspan font-style="italic">z</tspan> score)</text><text transform="translate(22.26,1005.00) rotate(-90)" x="-2.14" y="0" font-family="Liberation Sans, sans-serif" font-size="27" fill="#231f20" textLength="201.76" lengthAdjust="spacingAndGlyphs">Rel–Rel (<tspan font-style="italic">z</tspan> score)</text><text x="91.10" y="796.90" font-family="DejaVu Sans Mono, monospace" font-weight="bold" font-size="33" fill="#6fb33f" textLength="199.86" lengthAdjust="spacingAndGlyphs" >GGGGGTTTTT</text><line x1="192.60" y1="810.00" x2="231.54" y2="875.73" stroke="#6fb33f" stroke-width="4.5" /><polygon points="239.7,889.5 222.8,878.6 238.3,869.4" fill="#6fb33f"/><text x="214.90" y="1072.40" font-family="DejaVu Sans Mono, monospace" font-weight="bold" font-size="32.2" fill="#d9262f" textLength="199.96" lengthAdjust="spacingAndGlyphs" >GGGGGGAGAT</text><line x1="206.00" y1="1053.80" x2="182.81" y2="1043.04" stroke="#d9262f" stroke-width="4.5" /><polygon points="168.3,1036.3 188.4,1035.7 180.8,1052.0" fill="#d9262f"/><use href="#pBlack2" transform="matrix(0.77450,0,0,-0.82750,591.30,1039.80)" stroke="#000" stroke-width="4.5" /><use href="#pBlue2" transform="matrix(0.77450,0,0,-0.82750,591.30,1039.80)" stroke="#3d56a6" stroke-width="4.0" /><path d="M650.2 968.6h0M637.8 985.2h0M647.1 981.9h0M644.0 991.8h0M628.5 1001.7h0M623.8 1006.7h0M637.8 1011.7h0M622.3 1023.2h0M631.6 1018.3h0M616.1 1010.0h0" stroke="#3d56a6" stroke-width="4.0" stroke-linecap="round" fill="none"/><path d="M703.6 907.4h0M603.1 1028.9h0" stroke="#e8222a" stroke-width="5.0" stroke-linecap="round" fill="none"/><rect x="548.60" y="722.60" width="359.90" height="366.20" fill="none" stroke="#3a3a3a" stroke-width="1.3"/><line x1="591.30" y1="1088.80" x2="591.30" y2="1098.50" stroke="#5a5a5a" stroke-width="1.6" /><text x="583.65" y="1125.20" font-family="Liberation Sans, sans-serif" font-weight="normal" font-size="22" fill="#231f20" textLength="15.29" lengthAdjust="spacingAndGlyphs" >0</text><line x1="668.75" y1="1088.80" x2="668.75" y2="1098.50" stroke="#5a5a5a" stroke-width="1.6" /><text x="662.17" y="1125.20" font-family="Liberation Sans, sans-serif" font-weight="normal" font-size="22" fill="#231f20" textLength="13.21" lengthAdjust="spacingAndGlyphs" >5</text><line x1="746.20" y1="1088.80" x2="746.20" y2="1098.50" stroke="#5a5a5a" stroke-width="1.6" /><text x="733.81" y="1125.20" font-family="Liberation Sans, sans-serif" font-weight="normal" font-size="22" fill="#231f20" textLength="23.98" lengthAdjust="spacingAndGlyphs" >10</text><line x1="823.65" y1="1088.80" x2="823.65" y2="1098.50" stroke="#5a5a5a" stroke-width="1.6" /><text x="811.29" y="1125.20" font-family="Liberation Sans, sans-serif" font-weight="normal" font-size="22" fill="#231f20" textLength="23.98" lengthAdjust="spacingAndGlyphs" >15</text><line x1="901.10" y1="1088.80" x2="901.10" y2="1098.50" stroke="#5a5a5a" stroke-width="1.6" /><text x="888.99" y="1125.20" font-family="Liberation Sans, sans-serif" font-weight="normal" font-size="22" fill="#231f20" textLength="23.98" lengthAdjust="spacingAndGlyphs" >20</text><line x1="539.10" y1="1039.80" x2="548.60" y2="1039.80" stroke="#5a5a5a" stroke-width="1.6" /><text x="513.38" y="1048.10" font-family="Liberation Sans, sans-serif" font-weight="normal" font-size="22" fill="#231f20" textLength="15.29" lengthAdjust="spacingAndGlyphs" >0</text><line x1="539.10" y1="957.05" x2="548.60" y2="957.05" stroke="#5a5a5a" stroke-width="1.6" /><text x="515.38" y="965.35" font-family="Liberation Sans, sans-serif" font-weight="normal" font-size="22" fill="#231f20" textLength="13.21" lengthAdjust="spacingAndGlyphs" >5</text><line x1="539.10" y1="874.30" x2="548.60" y2="874.30" stroke="#5a5a5a" stroke-width="1.6" /><text x="504.46" y="882.60" font-family="Liberation Sans, sans-serif" font-weight="normal" font-size="22" fill="#231f20" textLength="23.98" lengthAdjust="spacingAndGlyphs" >10</text><line x1="539.10" y1="791.55" x2="548.60" y2="791.55" stroke="#5a5a5a" stroke-width="1.6" /><text x="504.52" y="799.85" font-family="Liberation Sans, sans-serif" font-weight="normal" font-size="22" fill="#231f20" textLength="23.98" lengthAdjust="spacingAndGlyphs" >15</text><text x="540.41" y="1162.00" font-family="Liberation Sans, sans-serif" font-weight="normal" font-size="27" fill="#231f20" textLength="374.74" lengthAdjust="spacingAndGlyphs" >RelA(C46)–RelA(C46) (<tspan font-style="italic">z</tspan> score)</text><text transform="translate(489.16,1011.00) rotate(-90)" x="-2.16" y="0" font-family="Liberation Sans, sans-serif" font-size="27" fill="#231f20" textLength="203.39" lengthAdjust="spacingAndGlyphs">Rel–Rel (<tspan font-style="italic">z</tspan> score)</text><text x="554.39" y="804.60" font-family="DejaVu Sans Mono, monospace" font-weight="bold" font-size="33" fill="#6fb33f" textLength="200.97" lengthAdjust="spacingAndGlyphs" >GGGGGTTTTT</text><line x1="657.60" y1="818.30" x2="688.74" y2="878.39" stroke="#6fb33f" stroke-width="4.5" /><polygon points="696.1,892.6 679.8,880.8 695.8,872.5" fill="#6fb33f"/><text x="681.51" y="1080.40" font-family="DejaVu Sans Mono, monospace" font-weight="bold" font-size="32.2" fill="#d9262f" textLength="199.55" lengthAdjust="spacingAndGlyphs" >GGGGGGAGAT</text><line x1="673.30" y1="1060.50" x2="634.07" y2="1042.02" stroke="#d9262f" stroke-width="4.5" /><polygon points="619.6,1035.2 639.7,1034.7 632.0,1051.0" fill="#d9262f"/><defs><filter id="bl1" x="-30%" y="-30%" width="160%" height="160%"><feGaussianBlur stdDeviation="1.6"/></filter><filter id="bl2" x="-30%" y="-30%" width="160%" height="160%"><feGaussianBlur stdDeviation="2.6"/></filter><filter id="bl3" x="-30%" y="-30%" width="160%" height="160%"><feGaussianBlur stdDeviation="3.5"/></filter><linearGradient id="gup" x1="0" y1="0" x2="0" y2="1"><stop offset="0" stop-color="#555" stop-opacity="0"/><stop offset="0.55" stop-color="#555" stop-opacity="0.22"/><stop offset="1" stop-color="#555" stop-opacity="1"/></linearGradient></defs><g filter="url(#bl2)" opacity="0.130"><rect x="229.5" y="1650.0" width="4" height="65.0" fill="url(#gup)"/><rect x="247.5" y="1650.0" width="4" height="65.0" fill="url(#gup)"/></g><rect x="230.0" y="1650.0" width="21.0" height="65.0" fill="url(#gup)" opacity="0.020" filter="url(#bl2)"/><path d="M229.0 1709.0 Q240.5 1717.4 252.0 1709.0 L252.0 1718.0 Q252.0 1721.0 248.0 1721.0 L233.0 1721.0 Q229.0 1721.0 229.0 1718.0Z" fill="#363638" opacity="0.070" filter="url(#bl1)"/><g filter="url(#bl2)" opacity="0.312"><rect x="264.5" y="1640.0" width="4" height="74.5" fill="url(#gup)"/><rect x="286.5" y="1640.0" width="4" height="74.5" fill="url(#gup)"/></g><rect x="265.0" y="1640.0" width="25.0" height="74.5" fill="url(#gup)" opacity="0.030" filter="url(#bl2)"/><path d="M264.0 1707.0 Q277.5 1717.5 291.0 1707.0 L291.0 1719.0 Q291.0 1722.0 287.0 1722.0 L268.0 1722.0 Q264.0 1722.0 264.0 1719.0Z" fill="#363638" opacity="0.200" filter="url(#bl1)"/><g filter="url(#bl2)" opacity="0.572"><rect x="300.5" y="1640.0" width="4" height="77.5" fill="url(#gup)"/><rect x="322.5" y="1640.0" width="4" height="77.5" fill="url(#gup)"/></g><rect x="301.0" y="1640.0" width="25.0" height="77.5" fill="url(#gup)" opacity="0.040" filter="url(#bl2)"/><rect x="301.0" y="1704.0" width="25.0" height="16.1" fill="#363638" opacity="0.350" filter="url(#bl3)"/><path d="M300.0 1711.0 Q313.5 1716.2 327.0 1711.0 L327.0 1721.0 Q327.0 1724.0 323.0 1724.0 L304.0 1724.0 Q300.0 1724.0 300.0 1721.0Z" fill="#363638" opacity="1.000" filter="url(#bl1)"/><g filter="url(#bl2)" opacity="0.780"><rect x="337.5" y="1640.0" width="4" height="74.8" fill="url(#gup)"/><rect x="363.5" y="1640.0" width="4" height="74.8" fill="url(#gup)"/></g><rect x="338.0" y="1640.0" width="29.0" height="74.8" fill="url(#gup)" opacity="0.050" filter="url(#bl2)"/><rect x="338.0" y="1695.0" width="29.0" height="24.8" fill="#363638" opacity="0.350" filter="url(#bl3)"/><path d="M337.0 1702.0 Q352.5 1713.2 368.0 1702.0 L368.0 1724.5 Q368.0 1727.5 364.0 1727.5 L341.0 1727.5 Q337.0 1727.5 337.0 1724.5Z" fill="#363638" opacity="1.000" filter="url(#bl1)"/><g filter="url(#bl2)" opacity="0.780"><rect x="376.0" y="1640.0" width="4" height="75.0" fill="url(#gup)"/><rect x="402.0" y="1640.0" width="4" height="75.0" fill="url(#gup)"/></g><rect x="376.5" y="1640.0" width="29.0" height="75.0" fill="url(#gup)" opacity="0.050" filter="url(#bl2)"/><rect x="376.5" y="1695.0" width="29.0" height="25.2" fill="#363638" opacity="0.350" filter="url(#bl3)"/><path d="M375.5 1702.0 Q391.0 1712.4 406.5 1702.0 L406.5 1725.0 Q406.5 1728.0 402.5 1728.0 L379.5 1728.0 Q375.5 1728.0 375.5 1725.0Z" fill="#363638" opacity="1.000" filter="url(#bl1)"/><g filter="url(#bl2)"><path d="M419 1624 L425 1624 L428 1700 L426 1716 L420 1716 Z" fill="#666" opacity="0.35"/><path d="M446 1620 L450 1620 L449 1650 L445 1650 Z" fill="#555" opacity="0.6"/><path d="M426 1665 L432 1645 L437 1642 L437 1652 L431 1670 Z" fill="#555" opacity="0.55"/><rect x="420" y="1650" width="30" height="80" fill="#888" opacity="0.12"/></g><path d="M432 1642 Q438 1636 441 1637 L448 1636 L448 1649 L443 1650 Q437 1646 433 1652 Z" fill="#363638" filter="url(#bl1)"/><rect x="137.6" y="1617.3" width="333.6" height="141.1" fill="none" stroke="#231f20" stroke-width="2.2"/><g filter="url(#bl2)" opacity="0.052"><rect x="150.5" y="1820.0" width="4" height="66.0" fill="url(#gup)"/><rect x="172.5" y="1820.0" width="4" height="66.0" fill="url(#gup)"/></g><path d="M150.0 1879.5 Q163.5 1888.6 177.0 1879.5 L177.0 1889.5 Q177.0 1892.5 173.0 1892.5 L154.0 1892.5 Q150.0 1892.5 150.0 1889.5Z" fill="#363638" opacity="0.040" filter="url(#bl1)"/><g filter="url(#bl2)" opacity="0.208"><rect x="189.2" y="1810.0" width="4" height="75.5" fill="url(#gup)"/><rect x="211.1" y="1810.0" width="4" height="75.5" fill="url(#gup)"/></g><path d="M188.7 1877.5 Q202.1 1883.9 215.6 1877.5 L215.6 1890.5 Q215.6 1893.5 211.6 1893.5 L192.7 1893.5 Q188.7 1893.5 188.7 1890.5Z" fill="#363638" opacity="0.250" filter="url(#bl1)"/><g filter="url(#bl2)" opacity="0.390"><rect x="229.0" y="1800.0" width="4" height="84.8" fill="url(#gup)"/><rect x="250.9" y="1800.0" width="4" height="84.8" fill="url(#gup)"/></g><rect x="229.5" y="1800.0" width="24.9" height="84.8" fill="url(#gup)" opacity="0.030" filter="url(#bl2)"/><rect x="229.5" y="1870.0" width="24.9" height="17.9" fill="#363638" opacity="0.297" filter="url(#bl3)"/><path d="M228.5 1877.0 Q241.9 1884.8 255.4 1877.0 L255.4 1889.5 Q255.4 1892.5 251.4 1892.5 L232.5 1892.5 Q228.5 1892.5 228.5 1889.5Z" fill="#363638" opacity="0.850" filter="url(#bl1)"/><g filter="url(#bl2)" opacity="0.780"><rect x="267.9" y="1790.0" width="4" height="90.5" fill="url(#gup)"/><rect x="291.7" y="1790.0" width="4" height="90.5" fill="url(#gup)"/></g><rect x="268.4" y="1790.0" width="26.8" height="90.5" fill="url(#gup)" opacity="0.050" filter="url(#bl2)"/><rect x="268.4" y="1863.5" width="26.8" height="21.0" fill="#363638" opacity="0.350" filter="url(#bl3)"/><path d="M267.4 1870.5 Q281.8 1878.5 296.2 1870.5 L296.2 1887.5 Q296.2 1890.5 292.2 1890.5 L271.4 1890.5 Q267.4 1890.5 267.4 1887.5Z" fill="#363638" opacity="1.000" filter="url(#bl1)"/><g filter="url(#bl2)" opacity="0.780"><rect x="307.7" y="1790.0" width="4" height="87.8" fill="url(#gup)"/><rect x="331.5" y="1790.0" width="4" height="87.8" fill="url(#gup)"/></g><rect x="308.2" y="1790.0" width="26.8" height="87.8" fill="url(#gup)" opacity="0.050" filter="url(#bl2)"/><rect x="308.2" y="1859.0" width="26.8" height="23.4" fill="#363638" opacity="0.350" filter="url(#bl3)"/><path d="M307.2 1866.0 Q321.6 1873.0 336.0 1866.0 L336.0 1886.5 Q336.0 1889.5 332.0 1889.5 L311.2 1889.5 Q307.2 1889.5 307.2 1886.5Z" fill="#363638" opacity="1.000" filter="url(#bl1)"/><g filter="url(#bl2)" opacity="0.780"><rect x="347.5" y="1790.0" width="4" height="87.8" fill="url(#gup)"/><rect x="371.3" y="1790.0" width="4" height="87.8" fill="url(#gup)"/></g><rect x="348.0" y="1790.0" width="26.8" height="87.8" fill="url(#gup)" opacity="0.050" filter="url(#bl2)"/><rect x="348.0" y="1859.0" width="26.8" height="23.4" fill="#363638" opacity="0.350" filter="url(#bl3)"/><path d="M347.0 1866.0 Q361.4 1873.0 375.8 1866.0 L375.8 1886.5 Q375.8 1889.5 371.8 1889.5 L351.0 1889.5 Q347.0 1889.5 347.0 1886.5Z" fill="#363638" opacity="1.000" filter="url(#bl1)"/><g filter="url(#bl2)" opacity="0.780"><rect x="386.3" y="1790.0" width="4" height="85.5" fill="url(#gup)"/><rect x="409.2" y="1790.0" width="4" height="85.5" fill="url(#gup)"/></g><rect x="386.8" y="1790.0" width="25.9" height="85.5" fill="url(#gup)" opacity="0.050" filter="url(#bl2)"/><rect x="386.8" y="1857.0" width="25.9" height="23.1" fill="#363638" opacity="0.350" filter="url(#bl3)"/><path d="M385.8 1864.0 Q399.8 1870.9 413.7 1864.0 L413.7 1884.0 Q413.7 1887.0 409.7 1887.0 L389.8 1887.0 Q385.8 1887.0 385.8 1884.0Z" fill="#363638" opacity="1.000" filter="url(#bl1)"/><g filter="url(#bl3)"><path d="M424 1768 L456 1766 L455 1830 L446 1870 L432 1880 L424 1878 Z" fill="#999" opacity="0.22"/><rect x="424" y="1768" width="7" height="100" fill="#555" opacity="0.25"/><rect x="446" y="1808" width="8" height="14" fill="#444" opacity="0.45"/><rect x="450" y="1766" width="5" height="50" fill="#555" opacity="0.35"/></g><rect x="137.6" y="1762.3" width="333.6" height="140.5" fill="none" stroke="#231f20" stroke-width="2.2"/><g filter="url(#bl2)" opacity="0.052"><rect x="274.5" y="1980.0" width="4" height="29.5" fill="url(#gup)"/><rect x="295.5" y="1980.0" width="4" height="29.5" fill="url(#gup)"/></g><path d="M274.0 2003.0 Q287.0 2012.1 300.0 2003.0 L300.0 2013.0 Q300.0 2016.0 296.0 2016.0 L278.0 2016.0 Q274.0 2016.0 274.0 2013.0Z" fill="#363638" opacity="0.025" filter="url(#bl1)"/><g filter="url(#bl2)" opacity="0.156"><rect x="313.5" y="1960.0" width="4" height="49.0" fill="url(#gup)"/><rect x="333.5" y="1960.0" width="4" height="49.0" fill="url(#gup)"/></g><path d="M313.0 2002.0 Q325.5 2011.8 338.0 2002.0 L338.0 2013.0 Q338.0 2016.0 334.0 2016.0 L317.0 2016.0 Q313.0 2016.0 313.0 2013.0Z" fill="#363638" opacity="0.070" filter="url(#bl1)"/><g filter="url(#bl2)" opacity="0.728"><rect x="349.5" y="1925.0" width="4" height="86.5" fill="url(#gup)"/><rect x="370.3" y="1925.0" width="4" height="86.5" fill="url(#gup)"/></g><rect x="350.0" y="1925.0" width="23.8" height="86.5" fill="url(#gup)" opacity="0.030" filter="url(#bl2)"/><rect x="350.0" y="1997.5" width="23.8" height="16.7" fill="#363638" opacity="0.350" filter="url(#bl3)"/><path d="M349.0 2004.5 Q361.9 2007.8 374.8 2004.5 L374.8 2015.4 Q374.8 2018.4 370.8 2018.4 L353.0 2018.4 Q349.0 2018.4 349.0 2015.4Z" fill="#363638" opacity="1.000" filter="url(#bl1)"/><g filter="url(#bl2)" opacity="0.728"><rect x="385.3" y="1925.0" width="4" height="86.5" fill="url(#gup)"/><rect x="406.2" y="1925.0" width="4" height="86.5" fill="url(#gup)"/></g><rect x="385.8" y="1925.0" width="23.9" height="86.5" fill="url(#gup)" opacity="0.030" filter="url(#bl2)"/><rect x="385.8" y="1997.5" width="23.9" height="16.7" fill="#363638" opacity="0.350" filter="url(#bl3)"/><path d="M384.8 2004.5 Q397.8 2007.8 410.7 2004.5 L410.7 2015.4 Q410.7 2018.4 406.7 2018.4 L388.8 2018.4 Q384.8 2018.4 384.8 2015.4Z" fill="#363638" opacity="1.000" filter="url(#bl1)"/><g filter="url(#bl2)"><path d="M423 1910 L428 1910 L429 2010 L424 2018 L421 2010 Z" fill="#666" opacity="0.35"/><path d="M450 1908 L454 1908 L450 1960 L446 1960 Z" fill="#666" opacity="0.35"/><rect x="440" y="1940" width="9" height="20" fill="#666" opacity="0.35"/><rect x="424" y="1920" width="28" height="90" fill="#888" opacity="0.08"/></g><rect x="137.6" y="1905.8" width="333.6" height="140.7" fill="none" stroke="#231f20" stroke-width="2.2"/><g filter="url(#bl3)"><rect x="349" y="2120" width="25" height="48" fill="#888" opacity="0.12"/><rect x="350" y="2152" width="24" height="15" fill="#777" opacity="0.18"/><rect x="386" y="2060" width="26" height="106" fill="#888" opacity="0.22"/><rect x="386" y="2146" width="26" height="20" fill="#666" opacity="0.35"/><rect x="386" y="2098" width="26" height="7" fill="#777" opacity="0.2"/><rect x="426" y="2105" width="24" height="45" fill="#777" opacity="0.28"/></g><g filter="url(#bl2)"><rect x="385" y="2055" width="4" height="100" fill="#777" opacity="0.3"/><rect x="409" y="2055" width="4" height="100" fill="#777" opacity="0.3"/><path d="M425 2054 L430 2054 L431 2095 L426 2095 Z" fill="#444" opacity="0.8"/><path d="M447 2054 L451 2054 L452 2095 L447 2095 Z" fill="#444" opacity="0.7"/></g><path d="M425 2091 Q438 2097 451 2090 L452 2106 Q447 2110 438 2107 Q430 2110 426 2106 Z" fill="#363638" filter="url(#bl1)"/><rect x="137.6" y="2050.6" width="334.0" height="140.4" fill="none" stroke="#231f20" stroke-width="2.2"/><text x="262.64" y="1547.20" font-family="Liberation Sans, sans-serif" font-weight="normal" font-size="28" fill="#231f20" textLength="93.72" lengthAdjust="spacingAndGlyphs" >Rel–Rel</text><polygon points="154.6,1577.8 458.1,1547.2 458.1,1578.6" fill="#231f20" stroke="#1b2a4e" stroke-width="1.8" stroke-linejoin="miter"/><text x="159.17" y="1604.80" font-family="Liberation Sans, sans-serif" font-weight="normal" font-size="22.3" fill="#231f20" textLength="13.02" lengthAdjust="spacingAndGlyphs" >1</text><text x="198.09" y="1604.80" font-family="Liberation Sans, sans-serif" font-weight="normal" font-size="22.3" fill="#231f20" textLength="13.02" lengthAdjust="spacingAndGlyphs" >2</text><text x="237.06" y="1604.80" font-family="Liberation Sans, sans-serif" font-weight="normal" font-size="22.3" fill="#231f20" textLength="13.02" lengthAdjust="spacingAndGlyphs" >3</text><text x="275.16" y="1604.80" font-family="Liberation Sans, sans-serif" font-weight="normal" font-size="22.3" fill="#231f20" textLength="13.02" lengthAdjust="spacingAndGlyphs" >4</text><text x="313.11" y="1604.80" font-family="Liberation Sans, sans-serif" font-weight="normal" font-size="22.3" fill="#231f20" textLength="13.02" lengthAdjust="spacingAndGlyphs" >5</text><text x="352.01" y="1604.80" font-family="Liberation Sans, sans-serif" font-weight="normal" font-size="22.3" fill="#231f20" textLength="13.02" lengthAdjust="spacingAndGlyphs" >6</text><text x="389.78" y="1604.80" font-family="Liberation Sans, sans-serif" font-weight="normal" font-size="22.3" fill="#231f20" textLength="13.02" lengthAdjust="spacingAndGlyphs" >7</text><text x="428.79" y="1604.80" font-family="Liberation Sans, sans-serif" font-weight="normal" font-size="22.3" fill="#231f20" textLength="13.02" lengthAdjust="spacingAndGlyphs" >8</text><text x="81.16" y="1710.00" font-family="Liberation Sans, sans-serif" font-weight="normal" font-size="27" fill="#231f20" textLength="41.82" lengthAdjust="spacingAndGlyphs" >κB1</text><text x="76.79" y="1851.00" font-family="Liberation Sans, sans-serif" font-weight="normal" font-size="27" fill="#231f20" textLength="46.37" lengthAdjust="spacingAndGlyphs" >κB2</text><text x="75.75" y="1992.60" font-family="Liberation Sans, sans-serif" font-weight="normal" font-size="27" fill="#231f20" textLength="47.25" lengthAdjust="spacingAndGlyphs" >κB3</text><text x="75.77" y="2126.60" font-family="Liberation Sans, sans-serif" font-weight="normal" font-size="27" fill="#231f20" textLength="46.83" lengthAdjust="spacingAndGlyphs" >κB4</text><text stroke="#231f20" stroke-width="0.7" x="483.77" y="1665.90" font-family="Liberation Sans, sans-serif" font-weight="normal" font-size="33" fill="#231f20" textLength="12.84" lengthAdjust="spacingAndGlyphs" >*</text><line x1="491.70" y1="1726.50" x2="509.80" y2="1726.50" stroke="#231f20" stroke-width="4.2" stroke-linecap="round"/><path d="M481.7 1726.5 L494.7 1720.0 L491.7 1726.5 L494.7 1733.0Z" fill="#231f20" stroke="#231f20" stroke-width="1.2" stroke-linejoin="round"/><text stroke="#231f20" stroke-width="0.7" x="488.37" y="1827.70" font-family="Liberation Sans, sans-serif" font-weight="normal" font-size="33" fill="#231f20" textLength="12.84" lengthAdjust="spacingAndGlyphs" >*</text><line x1="491.70" y1="1876.50" x2="509.80" y2="1876.50" stroke="#231f20" stroke-width="4.2" stroke-linecap="round"/><path d="M481.7 1876.5 L494.7 1870.0 L491.7 1876.5 L494.7 1883.0Z" fill="#231f20" stroke="#231f20" stroke-width="1.2" stroke-linejoin="round"/><text stroke="#231f20" stroke-width="0.7" x="487.47" y="1955.70" font-family="Liberation Sans, sans-serif" font-weight="normal" font-size="33" fill="#231f20" textLength="12.84" lengthAdjust="spacingAndGlyphs" >*</text><line x1="491.70" y1="2008.60" x2="509.80" y2="2008.60" stroke="#231f20" stroke-width="4.2" stroke-linecap="round"/><path d="M481.7 2008.6 L494.7 2002.1 L491.7 2008.6 L494.7 2015.1Z" fill="#231f20" stroke="#231f20" stroke-width="1.2" stroke-linejoin="round"/><text stroke="#231f20" stroke-width="0.7" x="488.07" y="2108.20" font-family="Liberation Sans, sans-serif" font-weight="normal" font-size="33" fill="#231f20" textLength="12.84" lengthAdjust="spacingAndGlyphs" >*</text><line x1="490.50" y1="2159.20" x2="508.50" y2="2159.20" stroke="#231f20" stroke-width="4.2" stroke-linecap="round"/><path d="M480.5 2159.2 L493.5 2152.7 L490.5 2159.2 L493.5 2165.7Z" fill="#231f20" stroke="#231f20" stroke-width="1.2" stroke-linejoin="round"/>
</svg></body></html>
